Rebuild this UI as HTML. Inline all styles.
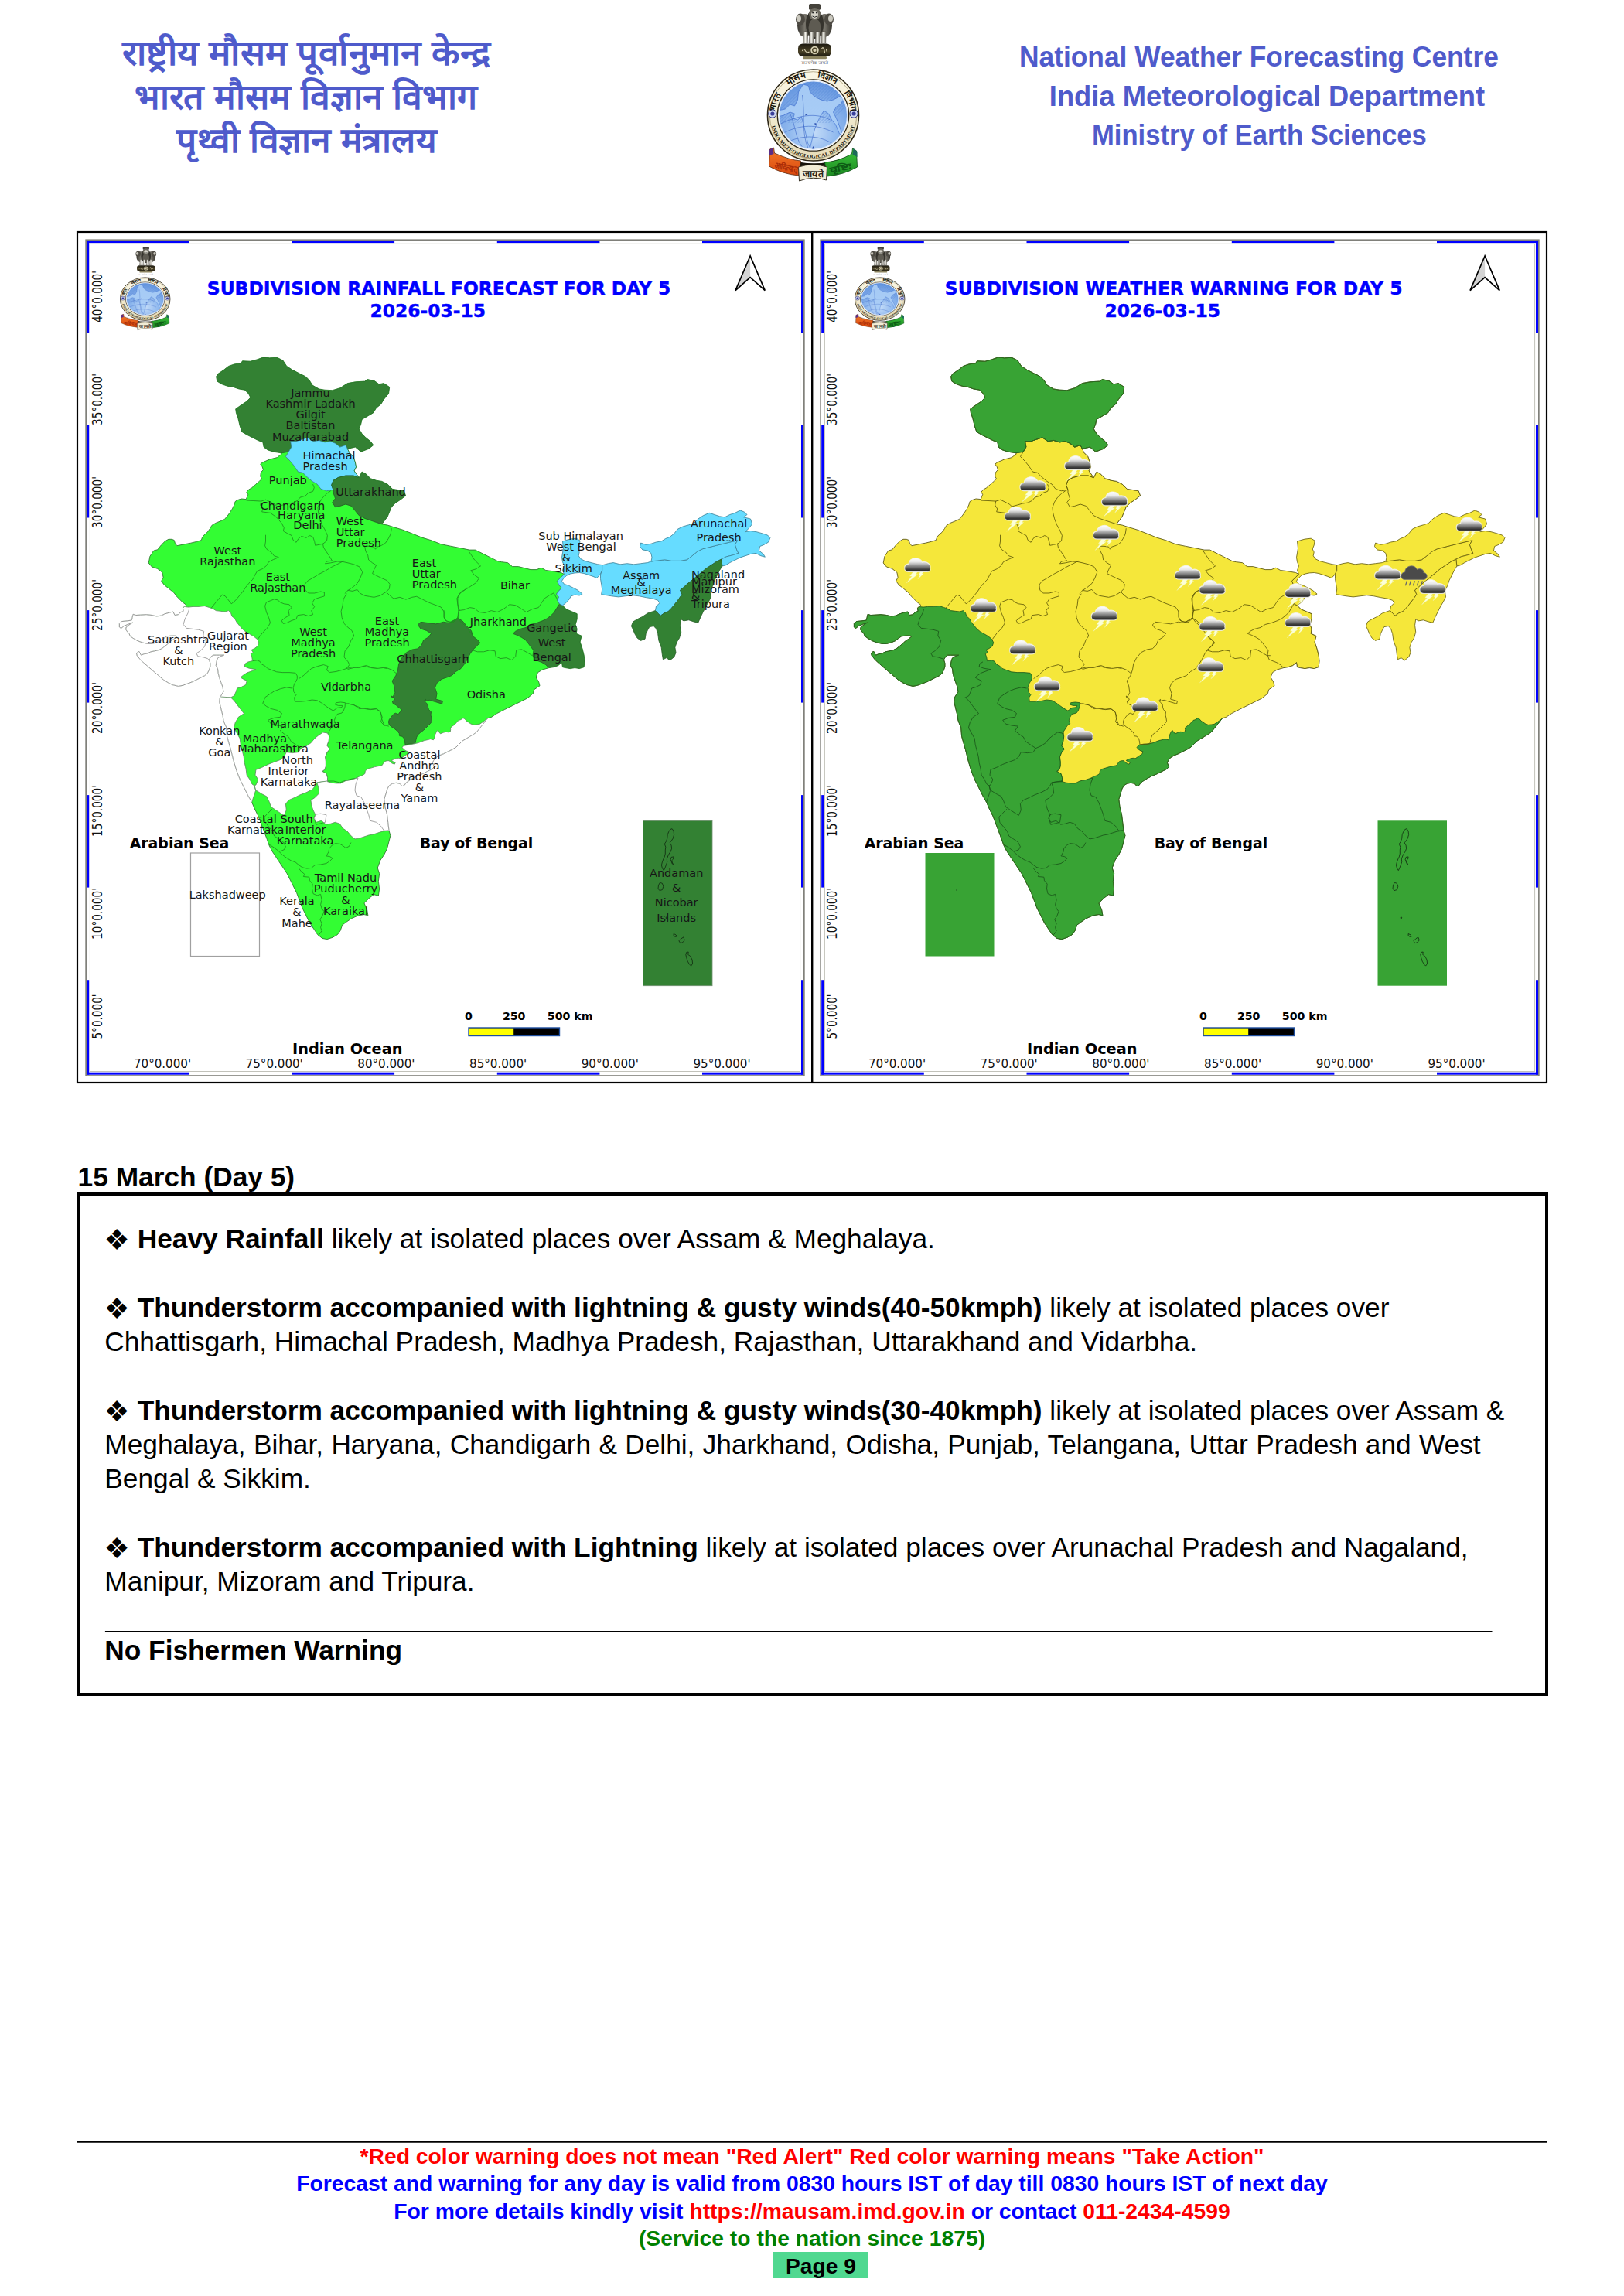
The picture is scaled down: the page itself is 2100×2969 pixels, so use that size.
<!DOCTYPE html>
<html lang="en"><head><meta charset="utf-8"><title>IMD Forecast Day 5</title>
<style>
html,body{margin:0;padding:0;background:#fff}
body{width:2100px;height:2969px;position:relative;overflow:hidden;font-family:"Liberation Sans",sans-serif;color:#000}
.abs{position:absolute}
svg{position:absolute;left:0;top:0;overflow:visible}
.lbl{font-family:"DejaVu Sans","Liberation Sans",sans-serif;font-size:14.5px;fill:#161616}
.ax{font-family:"DejaVu Sans","Liberation Sans",sans-serif;font-size:16px;fill:#111}
.ax2{font-family:"DejaVu Sans","Liberation Sans",sans-serif;font-size:17.8px;fill:#111}
.sea{font-family:"DejaVu Sans","Liberation Sans",sans-serif;font-weight:bold;font-size:18.9px;fill:#000}
.ttl{font-family:"DejaVu Sans","Liberation Sans",sans-serif;font-weight:bold;font-size:22.1px;fill:#0000ff;stroke:#0000ff;stroke-width:0.45px}
.sb{font-family:"DejaVu Sans","Liberation Sans",sans-serif;font-weight:bold;font-size:14.2px;fill:#000}

.h1{position:absolute;left:100.6px;top:1502.4px;font:bold 35.3px/40px "Liberation Sans",sans-serif;white-space:nowrap}
.box{position:absolute;left:98.6px;top:1542.4px;width:1895.6px;height:642.2px;border:4px solid #000}
.p{position:absolute;left:32.7px;margin:0;font:35.28px/44px "Liberation Sans",sans-serif;white-space:nowrap;color:#000}
.p b{font-weight:bold}
.bu{display:inline-block;width:42.5px;font:37px/44px "DejaVu Sans","Liberation Sans",sans-serif;vertical-align:baseline;position:relative;top:2.6px;left:-0.8px;height:30px;overflow:visible}
.hr{position:absolute;left:33.3px;top:562.4px;width:1793.6px;height:0;border-top:1.6px solid #000}
.ft{position:absolute;left:0;width:2100px;text-align:center;font:bold 28.3px/35.4px "Liberation Sans",sans-serif;white-space:nowrap}
.fl{position:absolute;left:99.6px;top:2769.1px;width:1900.6px;height:0;border-top:1.6px solid #000}
.r{color:#ff0000}.b{color:#0000ff}.g{color:#008000}
.pg{position:absolute;left:1000.2px;top:2911.6px;width:122.4px;height:34.7px;background:#50d890;text-align:center;font:bold 28.2px/36.8px "Liberation Sans",sans-serif;color:#000}
</style></head><body>
<!--HEADER-->
<svg width="2100" height="2969" viewBox="0 0 2100 2969">

<defs>
<radialGradient id="lgDisc" cx="0.5" cy="0.75" r="0.8"><stop offset="0" stop-color="#c4dcf8"/><stop offset="0.45" stop-color="#8fb8ee"/><stop offset="1" stop-color="#5d8fdc"/></radialGradient>
<linearGradient id="lgRing" x1="0" y1="0" x2="0" y2="1"><stop offset="0" stop-color="#fbf7e6"/><stop offset="1" stop-color="#e6dcb8"/></linearGradient>
<linearGradient id="lgLion" x1="0" y1="0" x2="1" y2="0"><stop offset="0" stop-color="#3a3832"/><stop offset="0.5" stop-color="#76736a"/><stop offset="1" stop-color="#33312b"/></linearGradient>
<linearGradient id="lgLeg" x1="0" y1="0" x2="1" y2="0"><stop offset="0" stop-color="#77746a"/><stop offset="0.5" stop-color="#f4f3ec"/><stop offset="1" stop-color="#6a675d"/></linearGradient>
<linearGradient id="lgAb" x1="0" y1="0" x2="0" y2="1"><stop offset="0" stop-color="#1d1a10"/><stop offset="0.6" stop-color="#4a4227"/><stop offset="1" stop-color="#1d1a10"/></linearGradient>
<linearGradient id="lgOr" x1="0" y1="0" x2="0" y2="1"><stop offset="0" stop-color="#f57a2a"/><stop offset="1" stop-color="#d8480e"/></linearGradient>
<linearGradient id="lgGr" x1="0" y1="0" x2="0" y2="1"><stop offset="0" stop-color="#3cc43c"/><stop offset="1" stop-color="#1c8a22"/></linearGradient>
<linearGradient id="lgCloud" x1="0" y1="0" x2="0" y2="1"><stop offset="0" stop-color="#ffffff"/><stop offset="0.28" stop-color="#e9e9e9"/><stop offset="0.62" stop-color="#7d7d7d"/><stop offset="0.88" stop-color="#2e2e2e"/><stop offset="1" stop-color="#555"/></linearGradient>
<path id="arcTop" d="M -48.6 6 A 49 49 0 1 1 48.6 6" fill="none"/>
<path id="arcBot" d="M -55 8 A 55.6 55.6 0 0 0 55 8" fill="none"/>
</defs>
<g transform="translate(1051.5,149) scale(1.0,1.0)">
<ellipse cx="-11.0" cy="-116" rx="9.5" ry="15" fill="url(#lgLion)"/><ellipse cx="15.0" cy="-116" rx="9.5" ry="15" fill="url(#lgLion)"/><ellipse cx="-16.5" cy="-124" rx="6" ry="7.5" fill="#4d4a43"/><ellipse cx="20.5" cy="-124" rx="6" ry="7.5" fill="#4d4a43"/><ellipse cx="-18.5" cy="-125" rx="3" ry="4" fill="#c9c7bd"/><ellipse cx="22.5" cy="-125" rx="3" ry="4" fill="#c9c7bd"/><ellipse cx="2.0" cy="-118" rx="11.5" ry="19" fill="#35332d"/><ellipse cx="2.0" cy="-113" rx="8" ry="12" fill="#5e5b52"/><rect x="-5.5" y="-144" width="15" height="8" rx="2" fill="#45423b"/><ellipse cx="2.0" cy="-131" rx="7.5" ry="8" fill="#6f6c62"/><ellipse cx="2.0" cy="-130" rx="4.5" ry="5" fill="#d6d4ca"/><circle cx="-0.3999999999999999" cy="-132.5" r="1" fill="#222"/><circle cx="4.4" cy="-132.5" r="1" fill="#222"/><path d="M -1.0 -128 Q 2.0 -125.5 5.0 -128" stroke="#222" stroke-width="1" fill="none"/><path d="M -12.1 -108 L -6.9 -108 L -7.3 -93 L -13.1 -93 Z" fill="url(#lgLeg)" stroke="#4a473f" stroke-width="0.5"/><path d="M -4.4 -108 L 0.8000000000000003 -108 L 0.40000000000000036 -93 L -5.4 -93 Z" fill="url(#lgLeg)" stroke="#4a473f" stroke-width="0.5"/><path d="M 3.6 -108 L 8.8 -108 L 8.4 -93 L 2.6 -93 Z" fill="url(#lgLeg)" stroke="#4a473f" stroke-width="0.5"/><path d="M 11.4 -108 L 16.6 -108 L 16.2 -93 L 10.4 -93 Z" fill="url(#lgLeg)" stroke="#4a473f" stroke-width="0.5"/><rect x="-19.5" y="-92.5" width="43" height="16.5" rx="6" fill="url(#lgAb)"/><circle cx="2.0" cy="-84" r="5.6" fill="#d9d2b4" stroke="#221e12" stroke-width="0.6"/><circle cx="2.0" cy="-84" r="2.8" fill="none" stroke="#4a4227" stroke-width="1.4"/><path d="M -14.0 -83 q 2 -5 4 0 q 2 3 5 1" stroke="#d9d2b4" stroke-width="1.2" fill="none"/><path d="M 11.0 -86 q 2 -3 3 1 l 1 4 m 2 -4 l 1 3" stroke="#d9d2b4" stroke-width="1.2" fill="none"/><rect x="-13.5" y="-76" width="31" height="3.2" rx="1.2" fill="#8c8460"/>
<text x="2.0" y="-65.6" text-anchor="middle" font-size="5.4" fill="#555" style="font-family:"Liberation Sans","Noto Sans","Noto Sans Devanagari","Lohit Devanagari","Mukta","Hind","FreeSans",sans-serif" textLength="35" lengthAdjust="spacingAndGlyphs">सत्यमेव जयते</text>
<circle cx="0" cy="0" r="59" fill="url(#lgRing)" stroke="#2d2616" stroke-width="1.6"/>
<circle cx="0" cy="0" r="56.3" fill="none" stroke="#8d8058" stroke-width="0.6"/>
<circle cx="0" cy="0" r="46.2" fill="#fff" stroke="#2d2616" stroke-width="1.3"/>
<circle cx="0" cy="0" r="44.2" fill="url(#lgDisc)" stroke="#dfe9f8" stroke-width="1.2"/>
<clipPath id="dch"><circle cx="0" cy="0" r="43.4"/></clipPath>
<g clip-path="url(#dch)" stroke="#4f7fd0" stroke-width="0.55" opacity="0.75"><line x1="-60" y1="10" x2="10" y2="-60"/><line x1="-56" y1="10" x2="14" y2="-60"/><line x1="-52" y1="10" x2="18" y2="-60"/><line x1="-48" y1="10" x2="22" y2="-60"/><line x1="-44" y1="10" x2="26" y2="-60"/><line x1="-40" y1="10" x2="30" y2="-60"/><line x1="-36" y1="10" x2="34" y2="-60"/><line x1="-32" y1="10" x2="38" y2="-60"/><line x1="-28" y1="10" x2="42" y2="-60"/><line x1="-24" y1="10" x2="46" y2="-60"/><line x1="-20" y1="10" x2="50" y2="-60"/><line x1="-16" y1="10" x2="54" y2="-60"/><line x1="-12" y1="10" x2="58" y2="-60"/><line x1="-8" y1="10" x2="62" y2="-60"/><line x1="-4" y1="10" x2="66" y2="-60"/><line x1="0" y1="10" x2="70" y2="-60"/><line x1="4" y1="10" x2="74" y2="-60"/><line x1="8" y1="10" x2="78" y2="-60"/><line x1="12" y1="10" x2="82" y2="-60"/><line x1="16" y1="10" x2="86" y2="-60"/><line x1="20" y1="10" x2="90" y2="-60"/></g>
<g clip-path="url(#dch)">
<path d="M -46 -6 L -36 -8 L -30 -14 L -24 -12 L -20 -20 L -19 -30 L -13 -40 L -6 -38 L -4 -30 L 2 -24 L 10 -20 L 18 -18 L 26 -20 L 34 -24 L 40 -22 L 36 -15 L 30 -11 L 26 -4 L 30 4 L 34 14 L 38 26 L 34 24 L 29 12 L 24 6 L 20 -2 L 14 -6 L 10 0 L 6 8 L 2 18 L -1 30 L -4 42 L -7 36 L -10 22 L -13 10 L -15 2 L -20 6 L -26 4 L -24 -2 L -30 -4 L -38 0 L -46 2 Z" fill="#a9cdf6" stroke="#3f6fd0" stroke-width="0.7" opacity="0.95"/>
<path d="M -44 12 C -20 0 4 -4 22 6 M -44 26 C -16 10 6 12 26 22 M -40 38 C -14 24 6 26 24 36 M -14 -26 C -10 0 -16 22 -6 44 M -30 -2 C -22 14 -24 30 -12 44" fill="none" stroke="#3b66c8" stroke-width="0.6"/>
<path d="M -2 44 l 2 -4 l 2 4 z M -10 -2 l 3 1 l -3 1.6 z M 2 10 l 3 1 l -3 1.6 z" fill="#2b4fb0"/>
</g>
<circle cx="-52.6" cy="-2" r="5.2" fill="#cfd6f2" stroke="#2b2f7a" stroke-width="1"/><circle cx="-52.6" cy="-2" r="2.6" fill="#3a3f9a"/>
<circle cx="52.6" cy="-2" r="5.2" fill="#cfd6f2" stroke="#2b2f7a" stroke-width="1"/><circle cx="52.6" cy="-2" r="2.6" fill="#3a3f9a"/>
<text font-size="11.2" font-weight="bold" fill="#1c170c" style="font-family:"Liberation Sans","Noto Sans","Noto Sans Devanagari","Lohit Devanagari","Mukta","Hind","FreeSans",sans-serif"><textPath href="#arcTop" startOffset="13.5%" text-anchor="middle">भारत</textPath></text>
<text font-size="11.2" font-weight="bold" fill="#1c170c" style="font-family:"Liberation Sans","Noto Sans","Noto Sans Devanagari","Lohit Devanagari","Mukta","Hind","FreeSans",sans-serif"><textPath href="#arcTop" startOffset="37%" text-anchor="middle">मौसम</textPath></text>
<text font-size="11.2" font-weight="bold" fill="#1c170c" style="font-family:"Liberation Sans","Noto Sans","Noto Sans Devanagari","Lohit Devanagari","Mukta","Hind","FreeSans",sans-serif"><textPath href="#arcTop" startOffset="61%" text-anchor="middle">विज्ञान</textPath></text>
<text font-size="11.2" font-weight="bold" fill="#1c170c" style="font-family:"Liberation Sans","Noto Sans","Noto Sans Devanagari","Lohit Devanagari","Mukta","Hind","FreeSans",sans-serif"><textPath href="#arcTop" startOffset="85.5%" text-anchor="middle">विभाग</textPath></text>
<text font-size="6.6" font-weight="bold" fill="#1c170c" style="font-family:'Liberation Serif',serif"><textPath href="#arcBot" startOffset="50%" text-anchor="middle" textLength="146" lengthAdjust="spacingAndGlyphs">INDIA METEOROLOGICAL DEPARTMENT</textPath></text>
<path d="M -50 50 Q 0 74 50 51 L 46 62 Q 0 82 -46 61 Z" fill="#15120a"/>
<path d="M -56 44 L -51 42 L -50 49 Q -30 58 -16 59 L -19 78 Q -40 76 -57 66 Z" fill="url(#lgOr)" stroke="#5a2a10" stroke-width="0.8"/>
<path d="M -57 45 L -52 42 L -51 50 L -57 52 Z" fill="#5b2d86"/>
<path d="M 56 46 L 51 43 L 50 50 Q 32 60 15 61 L 18 79 Q 40 77 57 67 Z" fill="url(#lgGr)" stroke="#0e4a16" stroke-width="0.8"/>
<path d="M 57 47 L 52 43 L 51 51 L 57 54 Z" fill="#1d6a5a"/>
<path d="M -19 67 Q 0 61 18 67 L 17 84 Q 0 78 -18 85 Z" fill="#f1ecd6" stroke="#3a3426" stroke-width="1"/>
<text x="-36" y="71" font-size="11" font-weight="bold" fill="#a82c08" text-anchor="middle" transform="rotate(12 -36 71)" style="font-family:"Liberation Sans","Noto Sans","Noto Sans Devanagari","Lohit Devanagari","Mukta","Hind","FreeSans",sans-serif" textLength="30" lengthAdjust="spacingAndGlyphs">आदित्यात्</text>
<text x="36" y="72" font-size="11" font-weight="bold" fill="#0c5a14" text-anchor="middle" transform="rotate(-12 36 72)" style="font-family:"Liberation Sans","Noto Sans","Noto Sans Devanagari","Lohit Devanagari","Mukta","Hind","FreeSans",sans-serif" textLength="28" lengthAdjust="spacingAndGlyphs">वृष्टिः</text>
<text x="0" y="79.5" font-size="12" font-weight="bold" fill="#2a2418" text-anchor="middle" style="font-family:"Liberation Sans","Noto Sans","Noto Sans Devanagari","Lohit Devanagari","Mukta","Hind","FreeSans",sans-serif" textLength="27" lengthAdjust="spacingAndGlyphs">जायते</text>
</g>
<text x="157.6" y="84.4" font-size="45" font-weight="bold" fill="#4f5bcb" style="font-family:"Liberation Sans","Noto Sans","Noto Sans Devanagari","Lohit Devanagari","Mukta","Hind","FreeSans",sans-serif" textLength="477.1" lengthAdjust="spacingAndGlyphs">राष्ट्रीय मौसम पूर्वानुमान केन्द्र</text>
<text x="173.6" y="140.5" font-size="45" font-weight="bold" fill="#4f5bcb" style="font-family:"Liberation Sans","Noto Sans","Noto Sans Devanagari","Lohit Devanagari","Mukta","Hind","FreeSans",sans-serif" textLength="443.4" lengthAdjust="spacingAndGlyphs">भारत मौसम विज्ञान विभाग</text>
<text x="228.0" y="196.5" font-size="45" font-weight="bold" fill="#4f5bcb" style="font-family:"Liberation Sans","Noto Sans","Noto Sans Devanagari","Lohit Devanagari","Mukta","Hind","FreeSans",sans-serif" textLength="336.3" lengthAdjust="spacingAndGlyphs">पृथ्वी विज्ञान मंत्रालय</text>
<text x="1318.0" y="86.0" font-size="36.6" font-weight="bold" fill="#4f5bcb" style="font-family:'Liberation Sans',sans-serif" textLength="619.8" lengthAdjust="spacingAndGlyphs">National Weather Forecasting Centre</text>
<text x="1356.8" y="136.9" font-size="36.6" font-weight="bold" fill="#4f5bcb" style="font-family:'Liberation Sans',sans-serif" textLength="563.2" lengthAdjust="spacingAndGlyphs">India Meteorological Department</text>
<text x="1412.0" y="187.3" font-size="36.6" font-weight="bold" fill="#4f5bcb" style="font-family:'Liberation Sans',sans-serif" textLength="432.7" lengthAdjust="spacingAndGlyphs">Ministry of Earth Sciences</text>
<rect x="100" y="300" width="1900" height="1100" fill="none" stroke="#000" stroke-width="2.2"/>
<line x1="1050.2" y1="300" x2="1050.2" y2="1400" stroke="#000" stroke-width="2.4"/>
<rect x="111.15" y="310.25" width="928.7" height="1080.8" fill="none" stroke="#80807a" stroke-width="1.7"/>
<rect x="116.4" y="315.3" width="918.2" height="1070.2" fill="none" stroke="#c2c2ba" stroke-width="1"/>
<rect x="112.2" y="311.1" width="132.6" height="3" fill="#0000ff"/>
<rect x="112.2" y="1386.7" width="132.6" height="3" fill="#0000ff"/>
<rect x="377.5" y="311.1" width="132.6" height="3" fill="#0000ff"/>
<rect x="377.5" y="1386.7" width="132.6" height="3" fill="#0000ff"/>
<rect x="642.8" y="311.1" width="132.6" height="3" fill="#0000ff"/>
<rect x="642.8" y="1386.7" width="132.6" height="3" fill="#0000ff"/>
<rect x="908.0" y="311.1" width="131.0" height="3" fill="#0000ff"/>
<rect x="908.0" y="1386.7" width="131.0" height="3" fill="#0000ff"/>
<rect x="112.2" y="310.9" width="3" height="119.5" fill="#0000ff"/>
<rect x="1036.0" y="310.9" width="3" height="119.5" fill="#0000ff"/>
<rect x="112.2" y="550.0" width="3" height="119.5" fill="#0000ff"/>
<rect x="1036.0" y="550.0" width="3" height="119.5" fill="#0000ff"/>
<rect x="112.2" y="789.1" width="3" height="119.5" fill="#0000ff"/>
<rect x="1036.0" y="789.1" width="3" height="119.5" fill="#0000ff"/>
<rect x="112.2" y="1028.1" width="3" height="119.5" fill="#0000ff"/>
<rect x="1036.0" y="1028.1" width="3" height="119.5" fill="#0000ff"/>
<rect x="112.2" y="1267.2" width="3" height="122.5" fill="#0000ff"/>
<rect x="1036.0" y="1267.2" width="3" height="122.5" fill="#0000ff"/>
<text class="ax" transform="translate(210.0,1381.3) scale(0.945,1)" text-anchor="middle">70°0.000'</text>
<text class="ax" transform="translate(354.7,1381.3) scale(0.945,1)" text-anchor="middle">75°0.000'</text>
<text class="ax" transform="translate(499.4,1381.3) scale(0.945,1)" text-anchor="middle">80°0.000'</text>
<text class="ax" transform="translate(644.1,1381.3) scale(0.945,1)" text-anchor="middle">85°0.000'</text>
<text class="ax" transform="translate(788.8,1381.3) scale(0.945,1)" text-anchor="middle">90°0.000'</text>
<text class="ax" transform="translate(933.5,1381.3) scale(0.945,1)" text-anchor="middle">95°0.000'</text>
<text class="ax2" transform="translate(132.4,1314.5) rotate(-90) scale(0.765,1)" text-anchor="middle">5°0.000'</text>
<text class="ax2" transform="translate(132.4,1181.5) rotate(-90) scale(0.765,1)" text-anchor="middle">10°0.000'</text>
<text class="ax2" transform="translate(132.4,1048.5) rotate(-90) scale(0.765,1)" text-anchor="middle">15°0.000'</text>
<text class="ax2" transform="translate(132.4,915.5) rotate(-90) scale(0.765,1)" text-anchor="middle">20°0.000'</text>
<text class="ax2" transform="translate(132.4,782.5) rotate(-90) scale(0.765,1)" text-anchor="middle">25°0.000'</text>
<text class="ax2" transform="translate(132.4,649.5) rotate(-90) scale(0.765,1)" text-anchor="middle">30°0.000'</text>
<text class="ax2" transform="translate(132.4,516.5) rotate(-90) scale(0.765,1)" text-anchor="middle">35°0.000'</text>
<text class="ax2" transform="translate(132.4,383.5) rotate(-90) scale(0.765,1)" text-anchor="middle">40°0.000'</text>
<g transform="translate(0,0)">
<clipPath id="clipL"><polygon points="362.1,585.5 353.4,584.2 346.1,581.8 341.1,578.1 339.9,571.9 333.7,569.5 326.4,565.8 319.0,562.1 312.8,558.4 310.3,551.0 307.9,541.1 305.4,533.7 304.7,528.8 311.6,523.9 319.0,519.0 323.9,514.0 321.4,509.1 316.5,504.2 309.1,503.0 301.7,500.5 294.3,499.3 286.9,496.8 280.8,493.1 279.6,486.9 282.0,483.3 289.4,478.3 295.6,473.4 303.0,470.9 311.6,469.7 313.5,466.7 323.9,467.2 332.5,464.8 341.1,461.8 348.5,462.8 358.4,462.3 365.8,466.0 370.7,473.4 378.1,478.3 387.9,483.3 395.3,486.9 400.2,491.9 403.9,498.0 412.6,503.0 420.0,504.2 429.8,504.7 439.7,501.7 449.5,495.6 459.4,493.8 471.7,493.1 475.4,490.6 484.0,492.4 490.1,496.8 496.3,495.6 503.7,500.5 502.5,509.1 496.3,516.5 492.6,522.7 486.5,527.6 482.8,533.7 476.6,537.4 468.0,542.4 466.7,548.5 464.3,554.7 468.0,560.8 472.9,565.8 479.1,570.7 482.8,575.6 476.6,580.5 466.7,584.2 459.4,578.1 454.4,579.3 449.5,580.5 452.0,585.5 456.9,590.4 459.4,597.8 460.6,603.9 458.1,608.9 464.3,617.5 468.0,610.1 472.9,612.6 479.1,618.7 486.5,621.2 493.8,622.4 501.2,626.1 507.4,632.3 514.8,633.5 522.2,634.7 524.6,640.9 518.5,645.8 511.1,650.7 506.2,655.7 503.7,661.8 501.2,668.0 497.5,672.9 493.8,677.8 501.2,679.1 508.6,681.5 520.9,685.2 533.3,690.1 545.6,695.1 557.9,698.8 570.2,703.7 582.5,706.2 594.8,708.6 607.1,711.1 614.5,711.1 624.4,716.0 634.2,720.9 644.1,725.9 648.7,726.7 656.6,727.7 662.5,732.6 670.3,732.6 678.2,734.6 686.1,736.6 694.0,736.6 699.9,734.2 705.8,737.5 713.7,738.5 719.6,739.5 725.5,740.5 729.5,742.5 725.5,746.4 720.6,751.3 722.6,756.3 726.5,760.2 722.6,764.1 719.6,768.1 722.6,772.0 720.6,776.0 723.5,780.9 727.5,782.9 732.4,787.8 739.3,790.7 746.2,793.7 746.2,800.6 744.2,807.5 746.2,813.4 745.2,819.3 752.1,822.3 750.1,830.1 753.1,839.0 755.1,846.9 756.1,854.8 755.1,862.7 749.2,864.6 743.3,863.6 737.3,864.6 731.4,863.6 727.5,862.7 726.5,856.7 721.6,860.7 715.7,862.7 709.8,863.6 701.7,865.9 695.5,869.6 693.1,875.8 696.7,881.9 698.0,886.8 690.6,891.8 689.4,896.7 682.0,902.9 672.1,907.8 662.3,912.7 652.4,917.6 642.6,922.6 635.2,927.5 630.7,928.7 616.7,946.3 612.7,949.3 607.8,952.2 602.9,955.2 597.9,958.1 594.0,962.1 590.0,966.0 585.1,969.0 579.2,971.9 573.3,974.9 568.4,976.8 563.4,979.8 560.5,983.7 559.5,986.7 561.5,991.6 558.5,994.6 552.6,997.5 546.7,1000.5 539.8,1003.4 533.9,1006.4 529.0,1009.4 525.0,1012.3 523.1,1015.3 520.1,1016.7 517.1,1013.3 512.2,1012.3 507.3,1013.3 503.3,1015.8 500.9,1020.0 496.8,1033.6 498.0,1043.4 500.5,1053.3 501.7,1063.2 503.0,1074.2 504.9,1080.4 503.0,1087.8 500.5,1097.6 496.8,1105.0 491.9,1112.4 488.2,1122.3 490.6,1129.7 489.4,1139.5 490.6,1149.4 489.4,1158.0 483.3,1156.7 477.1,1161.7 470.9,1167.8 474.6,1176.5 475.9,1183.8 470.9,1182.6 463.5,1183.8 454.9,1187.5 447.5,1192.5 442.6,1196.2 440.1,1203.5 436.5,1208.5 430.3,1212.2 422.9,1214.6 416.7,1213.4 410.6,1208.5 405.7,1201.1 400.7,1193.7 395.8,1183.8 390.9,1174.0 387.2,1164.1 383.5,1154.3 378.6,1144.4 374.9,1137.0 371.2,1129.7 366.3,1122.3 361.3,1114.9 356.4,1107.5 351.5,1100.1 347.8,1092.7 345.3,1085.3 341.6,1075.5 337.9,1065.6 334.2,1055.8 329.3,1045.9 325.6,1037.3 320.7,1028.7 315.8,1018.8 310.8,1009.0 305.9,996.7 302.2,984.3 298.5,969.6 293.6,952.3 292.6,940.0 291.1,937.3 288.9,931.4 288.1,925.5 286.6,919.6 285.2,913.7 283.7,907.8 284.4,901.9 286.6,898.2 288.9,894.5 288.1,888.6 285.9,882.7 283.7,876.7 282.2,870.8 281.5,864.9 279.3,860.5 280.0,855.3 281.5,850.9 285.2,848.7 289.6,847.2 283.7,847.2 279.3,847.2 275.6,847.2 272.6,849.4 270.4,853.1 271.9,857.5 271.9,862.0 270.4,866.4 268.2,870.8 264.5,873.8 260.0,876.0 254.1,879.0 248.2,881.9 242.3,884.1 236.4,886.3 230.5,887.4 223.1,885.6 217.2,882.7 211.3,879.0 206.1,874.5 200.9,870.1 195.8,865.7 190.6,861.2 185.4,856.8 181.0,852.4 177.3,847.9 176.5,845.0 179.5,842.0 182.5,847.2 186.2,845.7 190.6,845.0 195.0,842.8 199.5,842.0 205.4,840.5 209.8,838.3 213.5,835.4 217.2,832.4 220.1,829.5 224.6,826.5 228.3,823.5 227.5,822.1 221.6,822.1 215.7,822.8 211.3,825.8 207.6,828.7 202.4,830.9 196.5,832.4 190.6,832.4 183.9,830.9 178.0,828.7 172.9,825.8 168.4,822.8 166.9,819.1 164.7,816.9 162.5,813.9 163.2,811.0 166.9,808.0 171.4,805.1 165.5,807.3 160.3,809.5 156.6,812.5 154.4,811.0 154.4,806.5 157.3,803.6 164.0,802.9 170.2,802.1 171.1,798.4 172.1,794.3 175.8,795.5 181.7,795.2 189.1,794.7 196.5,795.5 202.4,796.9 208.3,796.2 212.8,794.0 218.7,792.2 223.8,791.0 226.1,795.5 230.5,794.7 233.4,791.8 237.1,790.3 236.4,785.9 238.6,784.4 240.7,782.2 235.8,778.5 232.1,774.8 228.4,771.1 224.7,766.2 218.5,761.3 212.4,756.4 208.7,751.4 211.1,746.5 209.9,740.3 203.7,735.4 196.4,733.0 192.2,728.0 193.9,719.4 198.8,712.0 203.7,710.8 208.6,704.7 213.5,699.8 217.9,697.3 222.2,697.3 225.2,698.5 226.5,702.8 228.9,705.7 236.9,704.1 246.8,702.2 254.2,700.4 260.3,698.5 261.6,694.8 264.0,691.7 268.3,688.1 271.4,683.7 273.9,679.4 278.8,676.4 285.0,673.9 290.5,671.4 294.2,667.1 297.3,662.8 300.4,657.9 302.8,653.0 304.1,648.6 307.1,646.6 312.1,645.0 318.2,645.6 319.5,642.5 320.7,639.4 318.8,636.3 321.3,633.3 325.6,630.8 330.5,626.5 335.5,622.2 338.5,619.1 336.7,616.0 337.3,611.1 340.4,607.4 339.2,603.7 336.7,600.0 339.9,597.8 348.5,594.1 358.4,591.6 364.5,586.7"/></clipPath>
<clipPath id="wclip"><polygon points="238.6,784.4 243.8,785.1 249.7,784.4 257.1,784.4 264.5,783.6 270.4,785.4 275.6,787.3 279.3,789.6 285.2,790.3 291.1,791.0 295.5,789.6 298.5,792.5 299.9,796.9 303.6,799.9 305.9,804.3 309.5,808.8 313.2,813.2 317.7,816.9 322.8,819.8 328.0,822.8 332.5,826.5 334.7,830.9 333.2,835.4 329.5,838.3 325.1,840.5 327.3,843.5 324.3,845.7 325.8,850.1 326.5,854.6 320.6,856.1 316.9,858.3 316.2,862.0 322.1,864.2 331.0,865.7 325.1,867.9 319.2,870.1 314.7,873.0 311.0,876.0 314.7,878.2 319.2,880.4 317.7,885.6 311.8,888.6 306.6,890.0 305.1,894.5 302.9,899.6 298.5,901.9 260.0,905.0 120.0,905.0 120.0,787.0 236.0,787.0"/><polygon points="298.5,901.9 302.9,906.3 307.3,912.2 311.8,918.1 315.5,922.6 308.3,927.3 304.3,934.2 302.4,941.1 306.3,948.0 310.2,954.9 311.2,962.8 313.2,970.6 315.2,978.5 316.2,986.4 318.1,994.3 319.1,1002.2 323.1,1008.1 326.0,1014.0 329.0,1016.0 330.5,1022.5 328.1,1029.9 325.6,1037.3 300.0,1040.0 270.0,1040.0 270.0,900.0"/><polygon points="329.0,1016.0 330.9,1015.0 333.9,1008.1 330.0,1002.2 330.9,995.3 338.8,992.3 346.7,988.4 354.6,985.4 362.5,982.5 367.4,978.5 370.3,972.6 378.2,973.6 386.1,972.6 389.1,967.7 396.0,964.7 401.9,960.8 406.8,954.9 411.7,950.9 417.6,947.0 423.5,948.0 425.7,952.3 425.0,958.2 422.8,964.1 426.4,968.6 422.8,973.0 420.5,978.9 421.3,984.8 421.3,990.7 419.8,995.2 416.8,997.4 422.0,1000.3 423.5,1005.5 423.5,1010.7 415.7,1011.0 409.8,1012.0 407.8,1016.0 403.8,1020.9 396.0,1024.8 388.1,1027.8 380.2,1031.7 373.3,1034.7 369.4,1039.6 370.3,1047.5 367.4,1054.4 362.5,1051.4 356.6,1047.5 350.6,1043.5 347.7,1035.7 344.7,1029.8 338.8,1026.8 330.9,1021.9 329.0,1016.0"/><polygon points="630.7,928.7 627.8,931.2 620.0,936.5 616.7,936.9 612.7,937.4 608.8,936.0 605.8,934.0 602.9,932.0 600.9,929.6 598.9,928.6 596.0,930.5 593.0,931.5 591.0,933.5 588.1,936.9 585.1,938.9 582.2,941.4 582.7,943.3 582.2,946.3 579.7,946.8 576.7,946.3 573.3,947.3 569.4,948.8 567.4,946.3 565.9,944.3 564.4,946.3 562.5,950.2 562.0,953.7 560.5,956.7 556.6,955.7 552.6,956.7 548.7,957.6 544.7,959.1 540.8,960.6 536.8,961.6 521.6,964.5 520.1,966.5 522.1,969.0 525.0,970.9 528.0,971.9 527.0,974.9 524.0,976.8 521.1,978.8 518.1,980.8 515.2,980.3 512.2,980.8 509.3,981.8 506.3,983.3 508.3,984.7 511.2,986.2 510.2,988.2 507.3,987.2 504.8,985.7 503.3,983.7 500.4,983.7 497.4,984.7 495.5,987.2 494.0,989.7 489.6,990.6 484.6,991.6 479.7,993.1 474.8,994.6 472.3,997.0 471.8,1000.5 468.9,1002.5 464.9,1003.9 462.0,1005.4 460.0,1006.4 453.8,1008.5 446.4,1009.9 440.5,1012.9 434.6,1012.9 428.7,1012.2 423.5,1010.7 422.6,1010.0 415.7,1011.0 409.8,1012.0 411.7,1017.9 412.7,1025.8 406.8,1031.7 401.9,1034.7 402.9,1041.6 404.8,1047.5 407.8,1053.4 405.8,1058.3 408.8,1063.3 415.7,1061.3 421.6,1066.2 427.5,1065.2 433.4,1063.3 439.3,1065.2 443.3,1071.1 449.2,1075.1 454.1,1081.0 459.0,1084.9 464.9,1083.9 470.8,1082.0 476.7,1080.0 482.7,1079.0 488.6,1077.0 494.5,1075.1 501.4,1074.1 503.0,1074.2 520.0,1080.0 540.0,1020.0 620.0,960.0"/></clipPath>
<polygon points="362.1,585.5 353.4,584.2 346.1,581.8 341.1,578.1 339.9,571.9 333.7,569.5 326.4,565.8 319.0,562.1 312.8,558.4 310.3,551.0 307.9,541.1 305.4,533.7 304.7,528.8 311.6,523.9 319.0,519.0 323.9,514.0 321.4,509.1 316.5,504.2 309.1,503.0 301.7,500.5 294.3,499.3 286.9,496.8 280.8,493.1 279.6,486.9 282.0,483.3 289.4,478.3 295.6,473.4 303.0,470.9 311.6,469.7 313.5,466.7 323.9,467.2 332.5,464.8 341.1,461.8 348.5,462.8 358.4,462.3 365.8,466.0 370.7,473.4 378.1,478.3 387.9,483.3 395.3,486.9 400.2,491.9 403.9,498.0 412.6,503.0 420.0,504.2 429.8,504.7 439.7,501.7 449.5,495.6 459.4,493.8 471.7,493.1 475.4,490.6 484.0,492.4 490.1,496.8 496.3,495.6 503.7,500.5 502.5,509.1 496.3,516.5 492.6,522.7 486.5,527.6 482.8,533.7 476.6,537.4 468.0,542.4 466.7,548.5 464.3,554.7 468.0,560.8 472.9,565.8 479.1,570.7 482.8,575.6 476.6,580.5 466.7,584.2 459.4,578.1 454.4,579.3 449.5,580.5 452.0,585.5 456.9,590.4 459.4,597.8 460.6,603.9 458.1,608.9 464.3,617.5 468.0,610.1 472.9,612.6 479.1,618.7 486.5,621.2 493.8,622.4 501.2,626.1 507.4,632.3 514.8,633.5 522.2,634.7 524.6,640.9 518.5,645.8 511.1,650.7 506.2,655.7 503.7,661.8 501.2,668.0 497.5,672.9 493.8,677.8 501.2,679.1 508.6,681.5 520.9,685.2 533.3,690.1 545.6,695.1 557.9,698.8 570.2,703.7 582.5,706.2 594.8,708.6 607.1,711.1 614.5,711.1 624.4,716.0 634.2,720.9 644.1,725.9 648.7,726.7 656.6,727.7 662.5,732.6 670.3,732.6 678.2,734.6 686.1,736.6 694.0,736.6 699.9,734.2 705.8,737.5 713.7,738.5 719.6,739.5 725.5,740.5 729.5,742.5 725.5,746.4 720.6,751.3 722.6,756.3 726.5,760.2 722.6,764.1 719.6,768.1 722.6,772.0 720.6,776.0 723.5,780.9 727.5,782.9 732.4,787.8 739.3,790.7 746.2,793.7 746.2,800.6 744.2,807.5 746.2,813.4 745.2,819.3 752.1,822.3 750.1,830.1 753.1,839.0 755.1,846.9 756.1,854.8 755.1,862.7 749.2,864.6 743.3,863.6 737.3,864.6 731.4,863.6 727.5,862.7 726.5,856.7 721.6,860.7 715.7,862.7 709.8,863.6 701.7,865.9 695.5,869.6 693.1,875.8 696.7,881.9 698.0,886.8 690.6,891.8 689.4,896.7 682.0,902.9 672.1,907.8 662.3,912.7 652.4,917.6 642.6,922.6 635.2,927.5 630.7,928.7 616.7,946.3 612.7,949.3 607.8,952.2 602.9,955.2 597.9,958.1 594.0,962.1 590.0,966.0 585.1,969.0 579.2,971.9 573.3,974.9 568.4,976.8 563.4,979.8 560.5,983.7 559.5,986.7 561.5,991.6 558.5,994.6 552.6,997.5 546.7,1000.5 539.8,1003.4 533.9,1006.4 529.0,1009.4 525.0,1012.3 523.1,1015.3 520.1,1016.7 517.1,1013.3 512.2,1012.3 507.3,1013.3 503.3,1015.8 500.9,1020.0 496.8,1033.6 498.0,1043.4 500.5,1053.3 501.7,1063.2 503.0,1074.2 504.9,1080.4 503.0,1087.8 500.5,1097.6 496.8,1105.0 491.9,1112.4 488.2,1122.3 490.6,1129.7 489.4,1139.5 490.6,1149.4 489.4,1158.0 483.3,1156.7 477.1,1161.7 470.9,1167.8 474.6,1176.5 475.9,1183.8 470.9,1182.6 463.5,1183.8 454.9,1187.5 447.5,1192.5 442.6,1196.2 440.1,1203.5 436.5,1208.5 430.3,1212.2 422.9,1214.6 416.7,1213.4 410.6,1208.5 405.7,1201.1 400.7,1193.7 395.8,1183.8 390.9,1174.0 387.2,1164.1 383.5,1154.3 378.6,1144.4 374.9,1137.0 371.2,1129.7 366.3,1122.3 361.3,1114.9 356.4,1107.5 351.5,1100.1 347.8,1092.7 345.3,1085.3 341.6,1075.5 337.9,1065.6 334.2,1055.8 329.3,1045.9 325.6,1037.3 320.7,1028.7 315.8,1018.8 310.8,1009.0 305.9,996.7 302.2,984.3 298.5,969.6 293.6,952.3 292.6,940.0 291.1,937.3 288.9,931.4 288.1,925.5 286.6,919.6 285.2,913.7 283.7,907.8 284.4,901.9 286.6,898.2 288.9,894.5 288.1,888.6 285.9,882.7 283.7,876.7 282.2,870.8 281.5,864.9 279.3,860.5 280.0,855.3 281.5,850.9 285.2,848.7 289.6,847.2 283.7,847.2 279.3,847.2 275.6,847.2 272.6,849.4 270.4,853.1 271.9,857.5 271.9,862.0 270.4,866.4 268.2,870.8 264.5,873.8 260.0,876.0 254.1,879.0 248.2,881.9 242.3,884.1 236.4,886.3 230.5,887.4 223.1,885.6 217.2,882.7 211.3,879.0 206.1,874.5 200.9,870.1 195.8,865.7 190.6,861.2 185.4,856.8 181.0,852.4 177.3,847.9 176.5,845.0 179.5,842.0 182.5,847.2 186.2,845.7 190.6,845.0 195.0,842.8 199.5,842.0 205.4,840.5 209.8,838.3 213.5,835.4 217.2,832.4 220.1,829.5 224.6,826.5 228.3,823.5 227.5,822.1 221.6,822.1 215.7,822.8 211.3,825.8 207.6,828.7 202.4,830.9 196.5,832.4 190.6,832.4 183.9,830.9 178.0,828.7 172.9,825.8 168.4,822.8 166.9,819.1 164.7,816.9 162.5,813.9 163.2,811.0 166.9,808.0 171.4,805.1 165.5,807.3 160.3,809.5 156.6,812.5 154.4,811.0 154.4,806.5 157.3,803.6 164.0,802.9 170.2,802.1 171.1,798.4 172.1,794.3 175.8,795.5 181.7,795.2 189.1,794.7 196.5,795.5 202.4,796.9 208.3,796.2 212.8,794.0 218.7,792.2 223.8,791.0 226.1,795.5 230.5,794.7 233.4,791.8 237.1,790.3 236.4,785.9 238.6,784.4 240.7,782.2 235.8,778.5 232.1,774.8 228.4,771.1 224.7,766.2 218.5,761.3 212.4,756.4 208.7,751.4 211.1,746.5 209.9,740.3 203.7,735.4 196.4,733.0 192.2,728.0 193.9,719.4 198.8,712.0 203.7,710.8 208.6,704.7 213.5,699.8 217.9,697.3 222.2,697.3 225.2,698.5 226.5,702.8 228.9,705.7 236.9,704.1 246.8,702.2 254.2,700.4 260.3,698.5 261.6,694.8 264.0,691.7 268.3,688.1 271.4,683.7 273.9,679.4 278.8,676.4 285.0,673.9 290.5,671.4 294.2,667.1 297.3,662.8 300.4,657.9 302.8,653.0 304.1,648.6 307.1,646.6 312.1,645.0 318.2,645.6 319.5,642.5 320.7,639.4 318.8,636.3 321.3,633.3 325.6,630.8 330.5,626.5 335.5,622.2 338.5,619.1 336.7,616.0 337.3,611.1 340.4,607.4 339.2,603.7 336.7,600.0 339.9,597.8 348.5,594.1 358.4,591.6 364.5,586.7" fill="#33fd33"/>
<g clip-path="url(#clipL)">
<polygon points="362.1,585.5 353.4,584.2 346.1,581.8 341.1,578.1 339.9,571.9 333.7,569.5 326.4,565.8 319.0,562.1 312.8,558.4 310.3,551.0 307.9,541.1 305.4,533.7 304.7,528.8 311.6,523.9 319.0,519.0 323.9,514.0 321.4,509.1 316.5,504.2 309.1,503.0 301.7,500.5 294.3,499.3 286.9,496.8 280.8,493.1 279.6,486.9 282.0,483.3 289.4,478.3 295.6,473.4 303.0,470.9 311.6,469.7 313.5,466.7 323.9,467.2 332.5,464.8 341.1,461.8 348.5,462.8 358.4,462.3 365.8,466.0 370.7,473.4 378.1,478.3 387.9,483.3 395.3,486.9 400.2,491.9 403.9,498.0 412.6,503.0 420.0,504.2 429.8,504.7 439.7,501.7 449.5,495.6 459.4,493.8 471.7,493.1 475.4,490.6 484.0,492.4 490.1,496.8 496.3,495.6 503.7,500.5 502.5,509.1 496.3,516.5 492.6,522.7 486.5,527.6 482.8,533.7 476.6,537.4 468.0,542.4 466.7,548.5 464.3,554.7 468.0,560.8 472.9,565.8 479.1,570.7 482.8,575.6 476.6,580.5 466.7,584.2 459.4,578.1 454.4,579.3 449.5,580.5 447.0,575.6 439.7,578.1 433.5,573.2 427.3,570.7 420.0,571.9 412.6,569.5 405.2,570.7 397.8,565.8 390.4,568.2 383.0,570.7 375.6,570.7 376.8,578.1 373.2,584.2 365.8,585.5 362.1,585.5" fill="#338133" stroke="#245c24" stroke-width="0.8" stroke-linejoin="round"/>
<polygon points="375.6,570.7 383.0,570.7 390.4,568.2 397.8,565.8 405.2,570.7 412.6,569.5 420.0,571.9 427.3,570.7 433.5,573.2 439.7,578.1 447.0,575.6 449.5,580.5 452.0,585.5 456.9,590.4 459.4,597.8 460.6,603.9 458.1,608.9 464.3,617.5 456.9,615.0 447.0,615.0 437.2,617.5 431.0,621.2 428.6,627.3 431.0,633.5 422.4,634.7 415.0,632.3 410.1,626.1 403.9,622.4 397.8,617.5 391.6,611.3 385.5,610.1 380.5,602.7 375.6,596.6 369.5,590.4 373.2,584.2 376.8,578.1" fill="#66dcff" stroke="#3a7f95" stroke-width="0.8" stroke-linejoin="round"/>
<polygon points="464.3,617.5 468.0,610.1 472.9,612.6 479.1,618.7 486.5,621.2 493.8,622.4 501.2,626.1 507.4,632.3 514.8,633.5 522.2,634.7 524.6,640.9 518.5,645.8 511.1,650.7 506.2,655.7 503.7,661.8 501.2,668.0 497.5,672.9 493.8,677.8 486.5,675.4 479.1,672.9 471.7,670.4 464.3,666.7 459.4,660.6 454.4,654.4 447.0,652.0 439.7,654.4 433.5,655.7 429.8,649.5 433.5,644.6 431.0,637.2 431.0,633.5 428.6,627.3 431.0,621.2 437.2,617.5 447.0,615.0 456.9,615.0" fill="#338133" stroke="#245c24" stroke-width="0.8" stroke-linejoin="round"/>
<polygon points="592.1,799.4 598.2,803.1 603.2,809.3 609.3,815.4 611.8,822.8 617.9,827.7 620.9,831.4 616.7,835.1 611.8,840.0 608.1,845.0 604.4,852.4 600.7,858.5 595.8,864.7 589.6,868.4 584.7,873.3 578.5,875.8 571.1,878.2 565.0,883.2 562.5,889.3 565.0,896.7 563.7,904.1 572.4,906.6 571.6,910.2 563.7,907.8 555.1,905.3 550.2,906.6 550.6,904.4 548.7,905.9 550.6,908.4 553.1,910.8 553.6,914.8 554.6,917.7 557.5,920.7 557.0,924.6 558.0,928.6 558.5,932.5 556.6,935.5 553.6,938.4 550.6,941.4 547.7,944.3 543.7,947.3 540.3,950.2 538.8,953.2 537.8,957.1 536.8,961.6 533.9,962.3 529.0,962.1 524.0,963.1 523.5,959.1 522.6,955.2 520.1,952.2 516.7,951.7 516.2,948.3 513.7,945.3 510.2,942.4 506.3,939.9 503.3,937.4 502.4,933.5 503.3,930.5 505.8,927.1 508.3,924.1 511.2,922.2 515.2,923.6 516.7,921.2 519.6,919.2 519.1,917.2 515.2,914.8 512.2,911.8 508.3,909.9 507.3,906.9 510.2,904.9 509.3,902.0 506.3,900.0 507.1,902.9 510.8,895.5 509.6,886.8 507.1,880.7 512.0,873.3 514.5,865.9 515.7,858.5 519.4,851.1 525.6,843.7 533.0,840.0 540.3,838.8 545.3,833.9 547.7,827.7 553.9,824.0 557.6,819.1 551.4,815.4 544.0,813.0 540.3,808.0 544.0,804.3 553.9,805.6 563.7,806.8 573.6,804.3 581.0,805.6 587.1,801.9" fill="#338133" stroke="#245c24" stroke-width="0.8" stroke-linejoin="round"/>
<polygon points="723.5,780.9 727.5,782.9 732.4,787.8 739.3,790.7 746.2,793.7 746.2,800.6 744.2,807.5 746.2,813.4 745.2,819.3 752.1,822.3 750.1,830.1 753.1,839.0 755.1,846.9 756.1,854.8 755.1,862.7 749.2,864.6 743.3,863.6 737.3,864.6 731.4,863.6 727.5,862.7 726.5,856.7 721.6,860.7 715.7,862.7 709.8,863.6 705.8,859.7 700.9,856.7 696.0,854.8 691.0,852.8 689.1,846.9 690.0,841.0 686.1,836.1 683.2,832.1 679.2,827.2 674.3,824.2 668.4,821.3 663.4,819.3 666.4,816.4 672.3,813.4 680.2,811.4 686.1,807.5 694.0,805.5 701.9,802.6 707.8,799.6 712.7,795.7 716.7,791.7 719.6,786.8" fill="#338133" stroke="#245c24" stroke-width="0.8" stroke-linejoin="round"/>
<g fill="none" stroke="#1f8f1f" stroke-width="0.85" stroke-linejoin="round" stroke-linecap="round">
<polyline points="319.0,647.1 327.9,647.5 337.7,648.1 343.6,646.2 349.6,649.1 355.5,652.1 358.4,655.0 365.3,653.1 372.2,651.1 379.1,650.1 385.0,647.1 388.0,643.2 394.9,641.2 398.8,637.3 404.7,635.3 406.3,630.4 404.7,626.5"/>
<polyline points="337.7,648.1 336.7,653.1 339.7,658.0 338.7,661.9 349.6,663.3 357.4,668.8 364.3,676.7 367.3,682.6 366.3,686.6 371.2,689.5 377.1,692.5 379.1,698.4 383.1,701.3 386.0,696.4 390.0,693.4 395.9,695.4 400.8,692.5 404.7,694.4 406.7,700.3 407.7,705.3 412.6,704.3 417.5,703.3"/>
<polyline points="427.4,634.9 422.5,638.3 417.5,643.2 413.6,649.1 411.0,656.0 411.6,662.9 413.6,670.8 416.6,678.7 420.5,685.6 423.4,692.5 422.5,699.4 417.5,703.3"/>
<polyline points="506.2,683.6 505.2,690.5 502.3,696.4 498.3,702.3 493.4,705.3 487.5,707.2 485.5,710.2 483.5,707.2 477.6,706.3 471.7,706.3 472.7,712.2 475.7,718.1 476.7,724.0 481.6,727.9 486.5,730.9 483.5,736.8 481.6,741.7 487.5,744.7 493.4,747.6 500.3,750.6 504.2,755.5 503.3,761.4 499.3,765.4"/>
<polyline points="417.5,703.3 418.5,708.2 422.5,714.1 426.4,720.0 429.4,725.0 422.5,726.0 420.5,728.9 427.4,727.9 436.3,726.0 443.2,726.4"/>
<polyline points="444.0,725.6 436.2,729.6 428.3,733.5 420.4,738.4 412.5,742.4 404.6,747.3 397.7,751.2 393.8,756.2 394.8,763.1 398.7,767.0 406.6,767.0 414.5,765.0 419.4,766.0 419.4,770.9 412.5,772.9 406.6,774.9 403.6,779.8 406.6,784.7 402.7,789.7 404.6,794.6 398.7,796.6 392.8,794.6 384.9,795.6 383.0,800.5 377.0,802.5 371.1,805.4 366.2,806.4 364.2,802.5 369.2,798.5 374.1,795.6 373.1,789.7 377.0,785.7 374.1,781.8 367.2,780.8 362.3,778.8 359.3,775.9 354.4,774.9 349.5,776.8 344.5,778.8 342.6,783.7 344.5,791.6 347.5,798.5 349.5,805.4 345.5,812.3 339.6,818.2 335.7,823.2 333.7,826.1"/>
<polyline points="443.2,726.4 450.0,727.9 457.9,729.9 464.8,732.9 468.8,739.8 465.8,747.6 461.9,754.5 456.0,759.5 450.0,763.4 446.1,767.3"/>
<polyline points="448.0,768.0 444.0,774.9 443.1,782.8 441.1,790.6 442.1,798.5 445.0,806.4 450.0,811.3 454.9,815.3 457.8,822.2 453.9,828.1 450.9,836.0 446.0,841.9 445.0,849.8 450.0,855.7 451.9,859.6 448.0,864.5"/>
<polyline points="450.0,763.4 456.0,764.4 461.9,762.4 465.8,767.3 471.7,770.3 477.6,771.3 483.5,772.3 491.4,770.3 499.3,765.4 503.3,769.3 509.2,774.2 517.0,772.3 524.9,775.2 532.8,772.3 538.7,771.3 546.6,775.2 554.5,779.2 562.4,782.1 570.2,785.1 574.2,791.0 574.2,798.9 578.1,803.8 586.0,804.8 591.9,799.9 592.9,793.0 593.9,789.0"/>
<polyline points="605.7,712.2 609.7,718.1 613.6,724.0 621.5,731.9 615.6,735.8 608.7,737.8 613.6,743.7 619.5,747.6 615.6,753.5 603.7,761.4 595.9,765.4 591.9,773.3 591.9,781.1 593.9,789.0"/>
<polyline points="343.5,692.1 343.5,700.0 342.6,705.9 345.5,710.8 350.4,713.8 354.4,718.7 360.3,720.7 353.4,723.6 347.5,726.6 344.5,731.5 339.6,735.5 332.7,738.4 329.8,743.3 326.8,749.3 321.9,754.2 317.9,759.1 314.0,765.0 309.1,770.9 304.1,776.8 299.2,780.8 295.3,775.9 291.3,770.9 287.4,769.0 282.5,774.9 277.5,780.8 273.6,785.7"/>
<polyline points="386.9,877.3 392.8,873.4 396.7,869.5 402.7,864.5 410.5,861.6 418.4,859.6 424.3,861.6 422.4,866.5 426.3,869.5 434.2,868.5 442.1,866.5 448.0,864.5 455.9,862.6 463.7,863.5 471.6,861.6 479.5,863.5 487.4,864.5 495.3,863.5 500.0,864.5"/>
<polyline points="450.0,865.4 457.9,863.4 465.8,862.5 473.6,860.5 481.5,863.4 489.4,862.5 499.3,863.4 507.1,866.4 513.1,871.3"/>
<polyline points="592.9,789.6 599.8,788.6 607.6,785.6 613.5,786.6 619.5,791.5 627.3,792.5 635.2,789.6 643.1,791.5 651.0,787.6 658.9,781.7 666.7,782.7 674.6,787.6 680.5,791.5 688.4,787.6 696.3,785.6 700.2,779.7 704.2,773.8 710.1,769.9 716.0,766.9 722.9,778.7"/>
<polyline points="574.1,789.6 574.1,797.4 576.1,802.4 582.0,804.3 587.9,802.4 591.9,798.4 592.9,789.6 591.9,781.7 590.9,773.8 593.8,767.9 599.8,763.9 603.7,760.0"/>
<polyline points="591.9,798.4 595.8,804.3 601.7,809.3 607.6,817.1 613.5,825.0 619.5,830.0 616.5,835.9 610.6,840.8"/>
<polyline points="610.6,840.8 617.5,842.8 625.4,842.8 633.3,840.8 640.1,841.8 641.1,848.7 647.0,851.6 654.9,850.6 661.8,853.6 666.7,848.7 667.7,840.8 674.6,839.8 681.5,843.7 688.4,847.7 692.4,847.7"/>
<polyline points="450.0,909.8 457.9,911.7 464.8,916.7 471.7,915.7 479.6,917.6 486.5,916.7 491.4,919.6 494.3,927.5 492.4,933.4 497.3,938.3 502.2,937.3"/>
<polyline points="447.2,909.6 457.0,911.5 466.9,915.5 476.7,917.4 486.6,916.5 492.5,921.4 493.5,929.3 496.5,937.1 502.4,939.1"/>
<polyline points="377.2,889.9 370.3,888.9 362.5,890.8 354.6,893.8 348.7,897.7 342.8,901.7 339.8,909.6 344.7,913.5 350.6,916.5 358.5,918.4 364.4,922.4 362.5,927.3 354.6,928.3 346.7,931.2 350.6,936.2 358.5,938.1 366.4,939.1 362.5,945.0 367.4,949.0 373.3,952.9 376.3,958.8 382.2,962.8 388.1,966.7 389.1,967.7"/>
<polyline points="351.6,1046.5 346.7,1051.4 341.8,1056.4 342.8,1063.3 347.7,1069.2 352.6,1075.1 354.6,1081.0 360.5,1084.9 366.4,1088.9 369.4,1094.8 367.4,1098.7 362.5,1100.7"/>
<polyline points="348.1,1092.1 354.0,1095.8 359.9,1100.2 364.3,1104.7 370.2,1109.1 376.2,1112.8 382.1,1115.0 386.5,1118.7 390.9,1121.7"/>
<polyline points="386.5,1123.1 389.5,1126.8 393.9,1130.5 392.4,1133.5 399.8,1134.2 400.5,1138.7 404.2,1143.1 403.5,1149.0 405.0,1155.7 410.1,1157.9 414.6,1156.4 416.1,1163.8 414.6,1169.7 416.1,1174.9 419.0,1178.6 416.8,1184.5 413.8,1188.9 416.1,1194.1 414.6,1199.3 416.1,1203.7 413.1,1208.1 410.9,1210.3"/>
<polyline points="390.9,1121.7 396.8,1123.1 402.8,1122.4 407.2,1118.7 414.6,1118.0 422.0,1116.5 426.4,1113.5 430.1,1109.8 426.4,1107.6 422.0,1106.9 424.9,1101.7 425.7,1097.3 429.4,1092.9 433.8,1090.6 439.7,1091.4 443.4,1093.6 447.1,1096.5 451.5,1094.3 453.7,1089.9"/>
<polyline points="408.7,1053.0 414.6,1052.2 422.0,1053.7 421.2,1058.9 420.5,1063.3 414.6,1064.8 408.7,1066.3 407.2,1061.1 406.4,1056.6 408.7,1053.0"/>
<polyline points="463.0,1006.1 460.0,1014.0 459.0,1021.9 461.0,1028.8 466.9,1030.7 470.8,1037.6 473.8,1045.5 476.7,1053.4 478.7,1061.3 486.6,1063.3 492.5,1068.2 496.5,1074.1 502.4,1074.1"/>
<polyline points="422.6,1010.0 431.4,1010.0 439.3,1012.0 447.2,1009.1 455.1,1007.1 463.0,1006.1"/>
<polyline points="244.6,787.7 243.1,792.6 239.1,800.5 237.1,807.4 241.1,812.3 249.0,813.3 256.8,814.3 263.7,816.3 262.8,822.2 266.7,828.1 264.7,836.0 258.8,841.9 253.9,844.8 255.9,848.8 262.8,849.8 268.7,851.7 272.6,855.7 274.6,849.8"/>
<polyline points="326.5,854.6 332.5,853.8 336.1,855.3 338.4,859.0 342.8,861.2 345.9,864.4 351.8,866.6 357.7,868.8 365.1,869.6 374.0,869.6 382.1,870.3 384.3,874.0 384.3,877.7 382.9,880.6 380.6,884.3 379.2,889.5 379.9,894.7 382.9,898.4 380.6,902.1 381.4,907.2 388.8,907.2 396.2,906.5 403.5,905.0 410.2,905.8 415.4,908.7 420.5,912.4 425.7,916.1 430.9,919.1 436.1,915.4 442.0,914.6 442.7,912.4 437.5,912.4 433.1,910.9 434.6,908.7 440.5,908.0 446.4,908.7 446.1,913.9 444.2,919.1 442.0,922.0 436.1,923.5 433.8,927.2 432.4,931.6 433.8,935.3 430.1,938.3 427.9,942.0 425.0,946.4 425.7,952.3 425.0,958.2 422.8,964.1 426.4,968.6 422.8,973.0 420.5,978.9 421.3,984.8 421.3,990.7 419.8,995.2 416.8,997.4 422.0,1000.3 423.5,1005.5 423.5,1010.7"/>
</g>
<polygon points="238.6,784.4 243.8,785.1 249.7,784.4 257.1,784.4 264.5,783.6 270.4,785.4 275.6,787.3 279.3,789.6 285.2,790.3 291.1,791.0 295.5,789.6 298.5,792.5 299.9,796.9 303.6,799.9 305.9,804.3 309.5,808.8 313.2,813.2 317.7,816.9 322.8,819.8 328.0,822.8 332.5,826.5 334.7,830.9 333.2,835.4 329.5,838.3 325.1,840.5 327.3,843.5 324.3,845.7 325.8,850.1 326.5,854.6 320.6,856.1 316.9,858.3 316.2,862.0 322.1,864.2 331.0,865.7 325.1,867.9 319.2,870.1 314.7,873.0 311.0,876.0 314.7,878.2 319.2,880.4 317.7,885.6 311.8,888.6 306.6,890.0 305.1,894.5 302.9,899.6 298.5,901.9 260.0,905.0 120.0,905.0 120.0,787.0 236.0,787.0" fill="#ffffff" stroke="#5a8a5a" stroke-width="0.8" stroke-linejoin="round"/>
<polygon points="298.5,901.9 302.9,906.3 307.3,912.2 311.8,918.1 315.5,922.6 308.3,927.3 304.3,934.2 302.4,941.1 306.3,948.0 310.2,954.9 311.2,962.8 313.2,970.6 315.2,978.5 316.2,986.4 318.1,994.3 319.1,1002.2 323.1,1008.1 326.0,1014.0 329.0,1016.0 330.5,1022.5 328.1,1029.9 325.6,1037.3 300.0,1040.0 270.0,1040.0 270.0,900.0" fill="#ffffff" stroke="#5a8a5a" stroke-width="0.8" stroke-linejoin="round"/>
<polygon points="329.0,1016.0 330.9,1015.0 333.9,1008.1 330.0,1002.2 330.9,995.3 338.8,992.3 346.7,988.4 354.6,985.4 362.5,982.5 367.4,978.5 370.3,972.6 378.2,973.6 386.1,972.6 389.1,967.7 396.0,964.7 401.9,960.8 406.8,954.9 411.7,950.9 417.6,947.0 423.5,948.0 425.7,952.3 425.0,958.2 422.8,964.1 426.4,968.6 422.8,973.0 420.5,978.9 421.3,984.8 421.3,990.7 419.8,995.2 416.8,997.4 422.0,1000.3 423.5,1005.5 423.5,1010.7 415.7,1011.0 409.8,1012.0 407.8,1016.0 403.8,1020.9 396.0,1024.8 388.1,1027.8 380.2,1031.7 373.3,1034.7 369.4,1039.6 370.3,1047.5 367.4,1054.4 362.5,1051.4 356.6,1047.5 350.6,1043.5 347.7,1035.7 344.7,1029.8 338.8,1026.8 330.9,1021.9 329.0,1016.0" fill="#ffffff" stroke="#5a8a5a" stroke-width="0.8" stroke-linejoin="round"/>
<polygon points="630.7,928.7 627.8,931.2 620.0,936.5 616.7,936.9 612.7,937.4 608.8,936.0 605.8,934.0 602.9,932.0 600.9,929.6 598.9,928.6 596.0,930.5 593.0,931.5 591.0,933.5 588.1,936.9 585.1,938.9 582.2,941.4 582.7,943.3 582.2,946.3 579.7,946.8 576.7,946.3 573.3,947.3 569.4,948.8 567.4,946.3 565.9,944.3 564.4,946.3 562.5,950.2 562.0,953.7 560.5,956.7 556.6,955.7 552.6,956.7 548.7,957.6 544.7,959.1 540.8,960.6 536.8,961.6 521.6,964.5 520.1,966.5 522.1,969.0 525.0,970.9 528.0,971.9 527.0,974.9 524.0,976.8 521.1,978.8 518.1,980.8 515.2,980.3 512.2,980.8 509.3,981.8 506.3,983.3 508.3,984.7 511.2,986.2 510.2,988.2 507.3,987.2 504.8,985.7 503.3,983.7 500.4,983.7 497.4,984.7 495.5,987.2 494.0,989.7 489.6,990.6 484.6,991.6 479.7,993.1 474.8,994.6 472.3,997.0 471.8,1000.5 468.9,1002.5 464.9,1003.9 462.0,1005.4 460.0,1006.4 453.8,1008.5 446.4,1009.9 440.5,1012.9 434.6,1012.9 428.7,1012.2 423.5,1010.7 422.6,1010.0 415.7,1011.0 409.8,1012.0 411.7,1017.9 412.7,1025.8 406.8,1031.7 401.9,1034.7 402.9,1041.6 404.8,1047.5 407.8,1053.4 405.8,1058.3 408.8,1063.3 415.7,1061.3 421.6,1066.2 427.5,1065.2 433.4,1063.3 439.3,1065.2 443.3,1071.1 449.2,1075.1 454.1,1081.0 459.0,1084.9 464.9,1083.9 470.8,1082.0 476.7,1080.0 482.7,1079.0 488.6,1077.0 494.5,1075.1 501.4,1074.1 503.0,1074.2 520.0,1080.0 540.0,1020.0 620.0,960.0" fill="#ffffff" stroke="#5a8a5a" stroke-width="0.8" stroke-linejoin="round"/>
<g clip-path="url(#wclip)" fill="none" stroke="#9a9a9a" stroke-width="0.9" stroke-linejoin="round">
<polyline points="377.2,889.9 370.3,888.9 362.5,890.8 354.6,893.8 348.7,897.7 342.8,901.7 339.8,909.6 344.7,913.5 350.6,916.5 358.5,918.4 364.4,922.4 362.5,927.3 354.6,928.3 346.7,931.2 350.6,936.2 358.5,938.1 366.4,939.1 362.5,945.0 367.4,949.0 373.3,952.9 376.3,958.8 382.2,962.8 388.1,966.7 389.1,967.7"/>
<polyline points="351.6,1046.5 346.7,1051.4 341.8,1056.4 342.8,1063.3 347.7,1069.2 352.6,1075.1 354.6,1081.0 360.5,1084.9 366.4,1088.9 369.4,1094.8 367.4,1098.7 362.5,1100.7"/>
<polyline points="348.1,1092.1 354.0,1095.8 359.9,1100.2 364.3,1104.7 370.2,1109.1 376.2,1112.8 382.1,1115.0 386.5,1118.7 390.9,1121.7"/>
<polyline points="386.5,1123.1 389.5,1126.8 393.9,1130.5 392.4,1133.5 399.8,1134.2 400.5,1138.7 404.2,1143.1 403.5,1149.0 405.0,1155.7 410.1,1157.9 414.6,1156.4 416.1,1163.8 414.6,1169.7 416.1,1174.9 419.0,1178.6 416.8,1184.5 413.8,1188.9 416.1,1194.1 414.6,1199.3 416.1,1203.7 413.1,1208.1 410.9,1210.3"/>
<polyline points="390.9,1121.7 396.8,1123.1 402.8,1122.4 407.2,1118.7 414.6,1118.0 422.0,1116.5 426.4,1113.5 430.1,1109.8 426.4,1107.6 422.0,1106.9 424.9,1101.7 425.7,1097.3 429.4,1092.9 433.8,1090.6 439.7,1091.4 443.4,1093.6 447.1,1096.5 451.5,1094.3 453.7,1089.9"/>
<polyline points="408.7,1053.0 414.6,1052.2 422.0,1053.7 421.2,1058.9 420.5,1063.3 414.6,1064.8 408.7,1066.3 407.2,1061.1 406.4,1056.6 408.7,1053.0"/>
<polyline points="463.0,1006.1 460.0,1014.0 459.0,1021.9 461.0,1028.8 466.9,1030.7 470.8,1037.6 473.8,1045.5 476.7,1053.4 478.7,1061.3 486.6,1063.3 492.5,1068.2 496.5,1074.1 502.4,1074.1"/>
<polyline points="422.6,1010.0 431.4,1010.0 439.3,1012.0 447.2,1009.1 455.1,1007.1 463.0,1006.1"/>
<polyline points="244.6,787.7 243.1,792.6 239.1,800.5 237.1,807.4 241.1,812.3 249.0,813.3 256.8,814.3 263.7,816.3 262.8,822.2 266.7,828.1 264.7,836.0 258.8,841.9 253.9,844.8 255.9,848.8 262.8,849.8 268.7,851.7 272.6,855.7 274.6,849.8"/>
</g>
</g>
<polygon points="362.1,585.5 353.4,584.2 346.1,581.8 341.1,578.1 339.9,571.9 333.7,569.5 326.4,565.8 319.0,562.1 312.8,558.4 310.3,551.0 307.9,541.1 305.4,533.7 304.7,528.8 311.6,523.9 319.0,519.0 323.9,514.0 321.4,509.1 316.5,504.2 309.1,503.0 301.7,500.5 294.3,499.3 286.9,496.8 280.8,493.1 279.6,486.9 282.0,483.3 289.4,478.3 295.6,473.4 303.0,470.9 311.6,469.7 313.5,466.7 323.9,467.2 332.5,464.8 341.1,461.8 348.5,462.8 358.4,462.3 365.8,466.0 370.7,473.4 378.1,478.3 387.9,483.3 395.3,486.9 400.2,491.9 403.9,498.0 412.6,503.0 420.0,504.2 429.8,504.7 439.7,501.7 449.5,495.6 459.4,493.8 471.7,493.1 475.4,490.6 484.0,492.4 490.1,496.8 496.3,495.6 503.7,500.5 502.5,509.1 496.3,516.5 492.6,522.7 486.5,527.6 482.8,533.7 476.6,537.4 468.0,542.4 466.7,548.5 464.3,554.7 468.0,560.8 472.9,565.8 479.1,570.7 482.8,575.6 476.6,580.5 466.7,584.2 459.4,578.1 454.4,579.3 449.5,580.5 452.0,585.5 456.9,590.4 459.4,597.8 460.6,603.9 458.1,608.9 464.3,617.5 468.0,610.1 472.9,612.6 479.1,618.7 486.5,621.2 493.8,622.4 501.2,626.1 507.4,632.3 514.8,633.5 522.2,634.7 524.6,640.9 518.5,645.8 511.1,650.7 506.2,655.7 503.7,661.8 501.2,668.0 497.5,672.9 493.8,677.8 501.2,679.1 508.6,681.5 520.9,685.2 533.3,690.1 545.6,695.1 557.9,698.8 570.2,703.7 582.5,706.2 594.8,708.6 607.1,711.1 614.5,711.1 624.4,716.0 634.2,720.9 644.1,725.9 648.7,726.7 656.6,727.7 662.5,732.6 670.3,732.6 678.2,734.6 686.1,736.6 694.0,736.6 699.9,734.2 705.8,737.5 713.7,738.5 719.6,739.5 725.5,740.5 729.5,742.5 725.5,746.4 720.6,751.3 722.6,756.3 726.5,760.2 722.6,764.1 719.6,768.1 722.6,772.0 720.6,776.0 723.5,780.9 727.5,782.9 732.4,787.8 739.3,790.7 746.2,793.7 746.2,800.6 744.2,807.5 746.2,813.4 745.2,819.3 752.1,822.3 750.1,830.1 753.1,839.0 755.1,846.9 756.1,854.8 755.1,862.7 749.2,864.6 743.3,863.6 737.3,864.6 731.4,863.6 727.5,862.7 726.5,856.7 721.6,860.7 715.7,862.7 709.8,863.6 701.7,865.9 695.5,869.6 693.1,875.8 696.7,881.9 698.0,886.8 690.6,891.8 689.4,896.7 682.0,902.9 672.1,907.8 662.3,912.7 652.4,917.6 642.6,922.6 635.2,927.5 630.7,928.7 616.7,946.3 612.7,949.3 607.8,952.2 602.9,955.2 597.9,958.1 594.0,962.1 590.0,966.0 585.1,969.0 579.2,971.9 573.3,974.9 568.4,976.8 563.4,979.8 560.5,983.7 559.5,986.7 561.5,991.6 558.5,994.6 552.6,997.5 546.7,1000.5 539.8,1003.4 533.9,1006.4 529.0,1009.4 525.0,1012.3 523.1,1015.3 520.1,1016.7 517.1,1013.3 512.2,1012.3 507.3,1013.3 503.3,1015.8 500.9,1020.0 496.8,1033.6 498.0,1043.4 500.5,1053.3 501.7,1063.2 503.0,1074.2 504.9,1080.4 503.0,1087.8 500.5,1097.6 496.8,1105.0 491.9,1112.4 488.2,1122.3 490.6,1129.7 489.4,1139.5 490.6,1149.4 489.4,1158.0 483.3,1156.7 477.1,1161.7 470.9,1167.8 474.6,1176.5 475.9,1183.8 470.9,1182.6 463.5,1183.8 454.9,1187.5 447.5,1192.5 442.6,1196.2 440.1,1203.5 436.5,1208.5 430.3,1212.2 422.9,1214.6 416.7,1213.4 410.6,1208.5 405.7,1201.1 400.7,1193.7 395.8,1183.8 390.9,1174.0 387.2,1164.1 383.5,1154.3 378.6,1144.4 374.9,1137.0 371.2,1129.7 366.3,1122.3 361.3,1114.9 356.4,1107.5 351.5,1100.1 347.8,1092.7 345.3,1085.3 341.6,1075.5 337.9,1065.6 334.2,1055.8 329.3,1045.9 325.6,1037.3 320.7,1028.7 315.8,1018.8 310.8,1009.0 305.9,996.7 302.2,984.3 298.5,969.6 293.6,952.3 292.6,940.0 291.1,937.3 288.9,931.4 288.1,925.5 286.6,919.6 285.2,913.7 283.7,907.8 284.4,901.9 286.6,898.2 288.9,894.5 288.1,888.6 285.9,882.7 283.7,876.7 282.2,870.8 281.5,864.9 279.3,860.5 280.0,855.3 281.5,850.9 285.2,848.7 289.6,847.2 283.7,847.2 279.3,847.2 275.6,847.2 272.6,849.4 270.4,853.1 271.9,857.5 271.9,862.0 270.4,866.4 268.2,870.8 264.5,873.8 260.0,876.0 254.1,879.0 248.2,881.9 242.3,884.1 236.4,886.3 230.5,887.4 223.1,885.6 217.2,882.7 211.3,879.0 206.1,874.5 200.9,870.1 195.8,865.7 190.6,861.2 185.4,856.8 181.0,852.4 177.3,847.9 176.5,845.0 179.5,842.0 182.5,847.2 186.2,845.7 190.6,845.0 195.0,842.8 199.5,842.0 205.4,840.5 209.8,838.3 213.5,835.4 217.2,832.4 220.1,829.5 224.6,826.5 228.3,823.5 227.5,822.1 221.6,822.1 215.7,822.8 211.3,825.8 207.6,828.7 202.4,830.9 196.5,832.4 190.6,832.4 183.9,830.9 178.0,828.7 172.9,825.8 168.4,822.8 166.9,819.1 164.7,816.9 162.5,813.9 163.2,811.0 166.9,808.0 171.4,805.1 165.5,807.3 160.3,809.5 156.6,812.5 154.4,811.0 154.4,806.5 157.3,803.6 164.0,802.9 170.2,802.1 171.1,798.4 172.1,794.3 175.8,795.5 181.7,795.2 189.1,794.7 196.5,795.5 202.4,796.9 208.3,796.2 212.8,794.0 218.7,792.2 223.8,791.0 226.1,795.5 230.5,794.7 233.4,791.8 237.1,790.3 236.4,785.9 238.6,784.4 240.7,782.2 235.8,778.5 232.1,774.8 228.4,771.1 224.7,766.2 218.5,761.3 212.4,756.4 208.7,751.4 211.1,746.5 209.9,740.3 203.7,735.4 196.4,733.0 192.2,728.0 193.9,719.4 198.8,712.0 203.7,710.8 208.6,704.7 213.5,699.8 217.9,697.3 222.2,697.3 225.2,698.5 226.5,702.8 228.9,705.7 236.9,704.1 246.8,702.2 254.2,700.4 260.3,698.5 261.6,694.8 264.0,691.7 268.3,688.1 271.4,683.7 273.9,679.4 278.8,676.4 285.0,673.9 290.5,671.4 294.2,667.1 297.3,662.8 300.4,657.9 302.8,653.0 304.1,648.6 307.1,646.6 312.1,645.0 318.2,645.6 319.5,642.5 320.7,639.4 318.8,636.3 321.3,633.3 325.6,630.8 330.5,626.5 335.5,622.2 338.5,619.1 336.7,616.0 337.3,611.1 340.4,607.4 339.2,603.7 336.7,600.0 339.9,597.8 348.5,594.1 358.4,591.6 364.5,586.7" fill="none" stroke="#2f7a2f" stroke-width="0.9" stroke-linejoin="round"/>
<g clip-path="url(#wclip)"><polygon points="362.1,585.5 353.4,584.2 346.1,581.8 341.1,578.1 339.9,571.9 333.7,569.5 326.4,565.8 319.0,562.1 312.8,558.4 310.3,551.0 307.9,541.1 305.4,533.7 304.7,528.8 311.6,523.9 319.0,519.0 323.9,514.0 321.4,509.1 316.5,504.2 309.1,503.0 301.7,500.5 294.3,499.3 286.9,496.8 280.8,493.1 279.6,486.9 282.0,483.3 289.4,478.3 295.6,473.4 303.0,470.9 311.6,469.7 313.5,466.7 323.9,467.2 332.5,464.8 341.1,461.8 348.5,462.8 358.4,462.3 365.8,466.0 370.7,473.4 378.1,478.3 387.9,483.3 395.3,486.9 400.2,491.9 403.9,498.0 412.6,503.0 420.0,504.2 429.8,504.7 439.7,501.7 449.5,495.6 459.4,493.8 471.7,493.1 475.4,490.6 484.0,492.4 490.1,496.8 496.3,495.6 503.7,500.5 502.5,509.1 496.3,516.5 492.6,522.7 486.5,527.6 482.8,533.7 476.6,537.4 468.0,542.4 466.7,548.5 464.3,554.7 468.0,560.8 472.9,565.8 479.1,570.7 482.8,575.6 476.6,580.5 466.7,584.2 459.4,578.1 454.4,579.3 449.5,580.5 452.0,585.5 456.9,590.4 459.4,597.8 460.6,603.9 458.1,608.9 464.3,617.5 468.0,610.1 472.9,612.6 479.1,618.7 486.5,621.2 493.8,622.4 501.2,626.1 507.4,632.3 514.8,633.5 522.2,634.7 524.6,640.9 518.5,645.8 511.1,650.7 506.2,655.7 503.7,661.8 501.2,668.0 497.5,672.9 493.8,677.8 501.2,679.1 508.6,681.5 520.9,685.2 533.3,690.1 545.6,695.1 557.9,698.8 570.2,703.7 582.5,706.2 594.8,708.6 607.1,711.1 614.5,711.1 624.4,716.0 634.2,720.9 644.1,725.9 648.7,726.7 656.6,727.7 662.5,732.6 670.3,732.6 678.2,734.6 686.1,736.6 694.0,736.6 699.9,734.2 705.8,737.5 713.7,738.5 719.6,739.5 725.5,740.5 729.5,742.5 725.5,746.4 720.6,751.3 722.6,756.3 726.5,760.2 722.6,764.1 719.6,768.1 722.6,772.0 720.6,776.0 723.5,780.9 727.5,782.9 732.4,787.8 739.3,790.7 746.2,793.7 746.2,800.6 744.2,807.5 746.2,813.4 745.2,819.3 752.1,822.3 750.1,830.1 753.1,839.0 755.1,846.9 756.1,854.8 755.1,862.7 749.2,864.6 743.3,863.6 737.3,864.6 731.4,863.6 727.5,862.7 726.5,856.7 721.6,860.7 715.7,862.7 709.8,863.6 701.7,865.9 695.5,869.6 693.1,875.8 696.7,881.9 698.0,886.8 690.6,891.8 689.4,896.7 682.0,902.9 672.1,907.8 662.3,912.7 652.4,917.6 642.6,922.6 635.2,927.5 630.7,928.7 616.7,946.3 612.7,949.3 607.8,952.2 602.9,955.2 597.9,958.1 594.0,962.1 590.0,966.0 585.1,969.0 579.2,971.9 573.3,974.9 568.4,976.8 563.4,979.8 560.5,983.7 559.5,986.7 561.5,991.6 558.5,994.6 552.6,997.5 546.7,1000.5 539.8,1003.4 533.9,1006.4 529.0,1009.4 525.0,1012.3 523.1,1015.3 520.1,1016.7 517.1,1013.3 512.2,1012.3 507.3,1013.3 503.3,1015.8 500.9,1020.0 496.8,1033.6 498.0,1043.4 500.5,1053.3 501.7,1063.2 503.0,1074.2 504.9,1080.4 503.0,1087.8 500.5,1097.6 496.8,1105.0 491.9,1112.4 488.2,1122.3 490.6,1129.7 489.4,1139.5 490.6,1149.4 489.4,1158.0 483.3,1156.7 477.1,1161.7 470.9,1167.8 474.6,1176.5 475.9,1183.8 470.9,1182.6 463.5,1183.8 454.9,1187.5 447.5,1192.5 442.6,1196.2 440.1,1203.5 436.5,1208.5 430.3,1212.2 422.9,1214.6 416.7,1213.4 410.6,1208.5 405.7,1201.1 400.7,1193.7 395.8,1183.8 390.9,1174.0 387.2,1164.1 383.5,1154.3 378.6,1144.4 374.9,1137.0 371.2,1129.7 366.3,1122.3 361.3,1114.9 356.4,1107.5 351.5,1100.1 347.8,1092.7 345.3,1085.3 341.6,1075.5 337.9,1065.6 334.2,1055.8 329.3,1045.9 325.6,1037.3 320.7,1028.7 315.8,1018.8 310.8,1009.0 305.9,996.7 302.2,984.3 298.5,969.6 293.6,952.3 292.6,940.0 291.1,937.3 288.9,931.4 288.1,925.5 286.6,919.6 285.2,913.7 283.7,907.8 284.4,901.9 286.6,898.2 288.9,894.5 288.1,888.6 285.9,882.7 283.7,876.7 282.2,870.8 281.5,864.9 279.3,860.5 280.0,855.3 281.5,850.9 285.2,848.7 289.6,847.2 283.7,847.2 279.3,847.2 275.6,847.2 272.6,849.4 270.4,853.1 271.9,857.5 271.9,862.0 270.4,866.4 268.2,870.8 264.5,873.8 260.0,876.0 254.1,879.0 248.2,881.9 242.3,884.1 236.4,886.3 230.5,887.4 223.1,885.6 217.2,882.7 211.3,879.0 206.1,874.5 200.9,870.1 195.8,865.7 190.6,861.2 185.4,856.8 181.0,852.4 177.3,847.9 176.5,845.0 179.5,842.0 182.5,847.2 186.2,845.7 190.6,845.0 195.0,842.8 199.5,842.0 205.4,840.5 209.8,838.3 213.5,835.4 217.2,832.4 220.1,829.5 224.6,826.5 228.3,823.5 227.5,822.1 221.6,822.1 215.7,822.8 211.3,825.8 207.6,828.7 202.4,830.9 196.5,832.4 190.6,832.4 183.9,830.9 178.0,828.7 172.9,825.8 168.4,822.8 166.9,819.1 164.7,816.9 162.5,813.9 163.2,811.0 166.9,808.0 171.4,805.1 165.5,807.3 160.3,809.5 156.6,812.5 154.4,811.0 154.4,806.5 157.3,803.6 164.0,802.9 170.2,802.1 171.1,798.4 172.1,794.3 175.8,795.5 181.7,795.2 189.1,794.7 196.5,795.5 202.4,796.9 208.3,796.2 212.8,794.0 218.7,792.2 223.8,791.0 226.1,795.5 230.5,794.7 233.4,791.8 237.1,790.3 236.4,785.9 238.6,784.4 240.7,782.2 235.8,778.5 232.1,774.8 228.4,771.1 224.7,766.2 218.5,761.3 212.4,756.4 208.7,751.4 211.1,746.5 209.9,740.3 203.7,735.4 196.4,733.0 192.2,728.0 193.9,719.4 198.8,712.0 203.7,710.8 208.6,704.7 213.5,699.8 217.9,697.3 222.2,697.3 225.2,698.5 226.5,702.8 228.9,705.7 236.9,704.1 246.8,702.2 254.2,700.4 260.3,698.5 261.6,694.8 264.0,691.7 268.3,688.1 271.4,683.7 273.9,679.4 278.8,676.4 285.0,673.9 290.5,671.4 294.2,667.1 297.3,662.8 300.4,657.9 302.8,653.0 304.1,648.6 307.1,646.6 312.1,645.0 318.2,645.6 319.5,642.5 320.7,639.4 318.8,636.3 321.3,633.3 325.6,630.8 330.5,626.5 335.5,622.2 338.5,619.1 336.7,616.0 337.3,611.1 340.4,607.4 339.2,603.7 336.7,600.0 339.9,597.8 348.5,594.1 358.4,591.6 364.5,586.7" fill="none" stroke="#fff" stroke-width="1.6" stroke-linejoin="round"/><polygon points="362.1,585.5 353.4,584.2 346.1,581.8 341.1,578.1 339.9,571.9 333.7,569.5 326.4,565.8 319.0,562.1 312.8,558.4 310.3,551.0 307.9,541.1 305.4,533.7 304.7,528.8 311.6,523.9 319.0,519.0 323.9,514.0 321.4,509.1 316.5,504.2 309.1,503.0 301.7,500.5 294.3,499.3 286.9,496.8 280.8,493.1 279.6,486.9 282.0,483.3 289.4,478.3 295.6,473.4 303.0,470.9 311.6,469.7 313.5,466.7 323.9,467.2 332.5,464.8 341.1,461.8 348.5,462.8 358.4,462.3 365.8,466.0 370.7,473.4 378.1,478.3 387.9,483.3 395.3,486.9 400.2,491.9 403.9,498.0 412.6,503.0 420.0,504.2 429.8,504.7 439.7,501.7 449.5,495.6 459.4,493.8 471.7,493.1 475.4,490.6 484.0,492.4 490.1,496.8 496.3,495.6 503.7,500.5 502.5,509.1 496.3,516.5 492.6,522.7 486.5,527.6 482.8,533.7 476.6,537.4 468.0,542.4 466.7,548.5 464.3,554.7 468.0,560.8 472.9,565.8 479.1,570.7 482.8,575.6 476.6,580.5 466.7,584.2 459.4,578.1 454.4,579.3 449.5,580.5 452.0,585.5 456.9,590.4 459.4,597.8 460.6,603.9 458.1,608.9 464.3,617.5 468.0,610.1 472.9,612.6 479.1,618.7 486.5,621.2 493.8,622.4 501.2,626.1 507.4,632.3 514.8,633.5 522.2,634.7 524.6,640.9 518.5,645.8 511.1,650.7 506.2,655.7 503.7,661.8 501.2,668.0 497.5,672.9 493.8,677.8 501.2,679.1 508.6,681.5 520.9,685.2 533.3,690.1 545.6,695.1 557.9,698.8 570.2,703.7 582.5,706.2 594.8,708.6 607.1,711.1 614.5,711.1 624.4,716.0 634.2,720.9 644.1,725.9 648.7,726.7 656.6,727.7 662.5,732.6 670.3,732.6 678.2,734.6 686.1,736.6 694.0,736.6 699.9,734.2 705.8,737.5 713.7,738.5 719.6,739.5 725.5,740.5 729.5,742.5 725.5,746.4 720.6,751.3 722.6,756.3 726.5,760.2 722.6,764.1 719.6,768.1 722.6,772.0 720.6,776.0 723.5,780.9 727.5,782.9 732.4,787.8 739.3,790.7 746.2,793.7 746.2,800.6 744.2,807.5 746.2,813.4 745.2,819.3 752.1,822.3 750.1,830.1 753.1,839.0 755.1,846.9 756.1,854.8 755.1,862.7 749.2,864.6 743.3,863.6 737.3,864.6 731.4,863.6 727.5,862.7 726.5,856.7 721.6,860.7 715.7,862.7 709.8,863.6 701.7,865.9 695.5,869.6 693.1,875.8 696.7,881.9 698.0,886.8 690.6,891.8 689.4,896.7 682.0,902.9 672.1,907.8 662.3,912.7 652.4,917.6 642.6,922.6 635.2,927.5 630.7,928.7 616.7,946.3 612.7,949.3 607.8,952.2 602.9,955.2 597.9,958.1 594.0,962.1 590.0,966.0 585.1,969.0 579.2,971.9 573.3,974.9 568.4,976.8 563.4,979.8 560.5,983.7 559.5,986.7 561.5,991.6 558.5,994.6 552.6,997.5 546.7,1000.5 539.8,1003.4 533.9,1006.4 529.0,1009.4 525.0,1012.3 523.1,1015.3 520.1,1016.7 517.1,1013.3 512.2,1012.3 507.3,1013.3 503.3,1015.8 500.9,1020.0 496.8,1033.6 498.0,1043.4 500.5,1053.3 501.7,1063.2 503.0,1074.2 504.9,1080.4 503.0,1087.8 500.5,1097.6 496.8,1105.0 491.9,1112.4 488.2,1122.3 490.6,1129.7 489.4,1139.5 490.6,1149.4 489.4,1158.0 483.3,1156.7 477.1,1161.7 470.9,1167.8 474.6,1176.5 475.9,1183.8 470.9,1182.6 463.5,1183.8 454.9,1187.5 447.5,1192.5 442.6,1196.2 440.1,1203.5 436.5,1208.5 430.3,1212.2 422.9,1214.6 416.7,1213.4 410.6,1208.5 405.7,1201.1 400.7,1193.7 395.8,1183.8 390.9,1174.0 387.2,1164.1 383.5,1154.3 378.6,1144.4 374.9,1137.0 371.2,1129.7 366.3,1122.3 361.3,1114.9 356.4,1107.5 351.5,1100.1 347.8,1092.7 345.3,1085.3 341.6,1075.5 337.9,1065.6 334.2,1055.8 329.3,1045.9 325.6,1037.3 320.7,1028.7 315.8,1018.8 310.8,1009.0 305.9,996.7 302.2,984.3 298.5,969.6 293.6,952.3 292.6,940.0 291.1,937.3 288.9,931.4 288.1,925.5 286.6,919.6 285.2,913.7 283.7,907.8 284.4,901.9 286.6,898.2 288.9,894.5 288.1,888.6 285.9,882.7 283.7,876.7 282.2,870.8 281.5,864.9 279.3,860.5 280.0,855.3 281.5,850.9 285.2,848.7 289.6,847.2 283.7,847.2 279.3,847.2 275.6,847.2 272.6,849.4 270.4,853.1 271.9,857.5 271.9,862.0 270.4,866.4 268.2,870.8 264.5,873.8 260.0,876.0 254.1,879.0 248.2,881.9 242.3,884.1 236.4,886.3 230.5,887.4 223.1,885.6 217.2,882.7 211.3,879.0 206.1,874.5 200.9,870.1 195.8,865.7 190.6,861.2 185.4,856.8 181.0,852.4 177.3,847.9 176.5,845.0 179.5,842.0 182.5,847.2 186.2,845.7 190.6,845.0 195.0,842.8 199.5,842.0 205.4,840.5 209.8,838.3 213.5,835.4 217.2,832.4 220.1,829.5 224.6,826.5 228.3,823.5 227.5,822.1 221.6,822.1 215.7,822.8 211.3,825.8 207.6,828.7 202.4,830.9 196.5,832.4 190.6,832.4 183.9,830.9 178.0,828.7 172.9,825.8 168.4,822.8 166.9,819.1 164.7,816.9 162.5,813.9 163.2,811.0 166.9,808.0 171.4,805.1 165.5,807.3 160.3,809.5 156.6,812.5 154.4,811.0 154.4,806.5 157.3,803.6 164.0,802.9 170.2,802.1 171.1,798.4 172.1,794.3 175.8,795.5 181.7,795.2 189.1,794.7 196.5,795.5 202.4,796.9 208.3,796.2 212.8,794.0 218.7,792.2 223.8,791.0 226.1,795.5 230.5,794.7 233.4,791.8 237.1,790.3 236.4,785.9 238.6,784.4 240.7,782.2 235.8,778.5 232.1,774.8 228.4,771.1 224.7,766.2 218.5,761.3 212.4,756.4 208.7,751.4 211.1,746.5 209.9,740.3 203.7,735.4 196.4,733.0 192.2,728.0 193.9,719.4 198.8,712.0 203.7,710.8 208.6,704.7 213.5,699.8 217.9,697.3 222.2,697.3 225.2,698.5 226.5,702.8 228.9,705.7 236.9,704.1 246.8,702.2 254.2,700.4 260.3,698.5 261.6,694.8 264.0,691.7 268.3,688.1 271.4,683.7 273.9,679.4 278.8,676.4 285.0,673.9 290.5,671.4 294.2,667.1 297.3,662.8 300.4,657.9 302.8,653.0 304.1,648.6 307.1,646.6 312.1,645.0 318.2,645.6 319.5,642.5 320.7,639.4 318.8,636.3 321.3,633.3 325.6,630.8 330.5,626.5 335.5,622.2 338.5,619.1 336.7,616.0 337.3,611.1 340.4,607.4 339.2,603.7 336.7,600.0 339.9,597.8 348.5,594.1 358.4,591.6 364.5,586.7" fill="none" stroke="#9a9a9a" stroke-width="1" stroke-linejoin="round"/></g>
<polygon points="727.5,700.1 731.4,698.7 737.3,697.1 745.2,696.2 750.1,699.1 749.2,705.0 747.2,710.0 749.2,713.9 748.2,718.8 751.1,722.8 757.0,725.7 764.9,727.7 772.8,729.7 778.7,730.6 778.7,737.5 775.8,743.4 771.8,747.4 766.9,745.4 761.0,743.4 755.1,741.5 749.2,740.5 743.3,740.9 737.3,742.1 732.4,744.4 728.5,748.4 726.5,751.3 729.5,755.3 735.4,757.2 741.3,760.2 747.2,763.2 753.1,768.1 749.2,770.0 743.3,769.1 738.3,771.0 735.4,776.0 731.4,779.9 727.5,782.9 723.5,780.9 720.6,776.0 722.6,772.0 719.6,768.1 722.6,764.1 726.5,760.2 722.6,756.3 720.6,751.3 725.5,746.4 729.5,742.5 727.5,737.5 729.5,731.6 727.5,726.7 726.5,720.8 727.5,714.9 728.5,709.0" fill="#66dcff" stroke="#3a7f95" stroke-width="0.8" stroke-linejoin="round"/>
<polygon points="778.7,730.9 786.5,728.7 793.1,727.6 802.0,729.8 810.8,728.7 819.7,729.8 828.6,728.7 837.4,727.6 841.9,726.0 850.7,724.9 859.6,723.8 868.5,725.3 879.6,725.3 888.4,723.8 895.1,718.7 901.7,713.2 908.4,709.8 917.2,707.6 926.1,705.4 935.0,703.2 943.8,701.0 953.8,698.7 950.5,704.3 952.7,710.9 954.9,715.4 948.3,717.6 939.4,719.8 932.8,723.1 926.1,726.5 919.5,730.9 912.8,735.3 906.2,740.9 899.5,746.4 892.9,751.9 888.4,755.3 884.0,759.7 879.6,763.0 881.8,768.6 877.3,775.2 872.9,780.8 868.5,786.3 864.0,790.7 858.5,793.0 854.1,796.3 850.7,793.0 847.4,789.6 848.5,784.1 853.0,779.7 850.7,776.3 844.1,774.1 835.2,772.6 826.4,770.8 817.5,769.7 808.6,770.8 799.8,771.9 790.9,770.8 784.2,769.7 777.6,768.6 778.7,761.9 777.6,755.3 776.5,748.6 776.5,743.1 778.7,737.5" fill="#66dcff" stroke="#3a7f95" stroke-width="0.8" stroke-linejoin="round"/>
<polygon points="841.9,726.0 843.0,720.9 841.9,715.4 837.4,712.0 830.8,710.9 827.5,706.5 828.6,702.1 835.2,704.3 841.9,703.2 848.5,701.0 855.2,699.9 860.7,696.5 866.3,694.3 871.8,689.9 876.2,684.3 882.9,681.0 890.6,678.8 897.3,676.6 902.8,671.0 909.5,666.6 917.2,663.3 923.9,665.5 930.5,667.7 937.2,668.8 943.8,665.5 950.5,663.3 957.1,660.0 962.7,662.2 966.0,665.5 961.6,668.8 970.5,671.0 972.7,677.7 968.2,683.2 963.8,687.7 970.5,686.6 978.2,687.7 986.0,689.9 992.6,692.1 995.9,695.4 993.7,701.0 988.2,704.3 982.6,706.5 981.5,712.0 987.1,716.5 989.3,720.2 983.8,718.7 977.1,715.4 970.5,716.5 963.8,718.7 957.1,720.9 950.5,724.2 943.8,727.6 938.3,730.9 933.9,732.0 932.8,723.1 939.4,719.8 948.3,717.6 954.9,715.4 952.7,710.9 950.5,704.3 953.8,698.7 943.8,701.0 935.0,703.2 926.1,705.4 917.2,707.6 908.4,709.8 901.7,713.2 895.1,718.7 888.4,723.8 879.6,725.3 868.5,725.3 859.6,723.8 850.7,724.9" fill="#66dcff" stroke="#3a7f95" stroke-width="0.8" stroke-linejoin="round"/>
<polygon points="932.8,723.1 933.9,732.0 930.5,737.5 927.2,744.2 923.9,750.8 921.7,757.5 918.4,764.1 919.5,771.9 916.1,778.6 912.8,784.1 909.5,790.7 906.2,797.4 902.8,805.2 897.3,804.0 890.6,801.8 884.0,802.9 880.7,800.7 879.6,808.5 880.7,817.3 878.5,825.1 875.1,830.6 872.9,837.3 874.0,843.9 871.8,849.5 866.3,853.9 861.8,850.6 857.4,852.8 856.3,846.2 855.2,837.3 851.9,828.4 850.7,819.6 848.5,812.9 845.2,809.6 839.7,810.7 837.4,815.1 835.2,819.6 834.1,826.2 828.6,828.4 824.1,825.1 820.8,819.6 818.6,814.0 816.4,809.6 818.6,804.0 824.1,800.7 830.8,797.4 837.4,793.0 844.1,790.7 847.4,789.6 850.7,793.0 854.1,796.3 858.5,793.0 864.0,790.7 868.5,786.3 872.9,780.8 877.3,775.2 881.8,768.6 879.6,763.0 884.0,759.7 888.4,755.3 892.9,751.9 899.5,746.4 906.2,740.9 912.8,735.3 919.5,730.9 926.1,726.5" fill="#338133" stroke="#245c24" stroke-width="0.8" stroke-linejoin="round"/>
<rect x="246.5" y="1103" width="89" height="133.5" fill="#fff" stroke="#a0a0a0" stroke-width="1.2"/>
<rect x="831.5" y="1061.3" width="89.5" height="213.4" fill="#338133" stroke="#6f8f6f" stroke-width="0.8"/>
<polygon points="869.1,1071.7 871.1,1074.6 871.6,1079.5 870.1,1084.4 868.1,1087.4 866.2,1089.8 868.1,1093.2 868.6,1097.2 867.2,1101.1 865.2,1104.0 863.7,1107.0 862.3,1110.9 862.7,1114.8 861.3,1118.7 859.8,1122.6 858.3,1125.6 856.4,1122.6 855.4,1118.7 856.4,1114.8 857.8,1110.9 859.3,1107.9 860.3,1104.0 860.3,1099.1 860.8,1095.2 859.3,1091.3 861.3,1088.3 862.7,1084.4 863.2,1079.5 864.7,1075.6 866.7,1072.6" fill="none" stroke="#0a1a0a" stroke-width="0.7" stroke-linejoin="round"/>
<polygon points="868.1,1108.4 871.1,1107.9 870.6,1110.9 868.6,1112.8 869.6,1115.8 870.6,1117.7 869.1,1116.8 868.1,1113.8 867.2,1111.4" fill="none" stroke="#0a1a0a" stroke-width="0.7" stroke-linejoin="round"/>
<polygon points="853.4,1141.3 856.4,1142.3 857.8,1146.2 856.4,1150.6 852.9,1151.6 851.0,1149.1 851.5,1144.7" fill="none" stroke="#0a1a0a" stroke-width="0.7" stroke-linejoin="round"/>
<polygon points="861.3,1185.9 862.7,1186.2 862.5,1187.5 861.1,1187.4" fill="none" stroke="#0a1a0a" stroke-width="0.7" stroke-linejoin="round"/>
<polygon points="871.1,1207.5 874.0,1208.9 875.5,1210.9 873.0,1211.4 871.1,1209.9" fill="none" stroke="#0a1a0a" stroke-width="0.7" stroke-linejoin="round"/>
<polygon points="877.9,1216.8 880.9,1213.8 883.8,1211.9 885.3,1215.8 882.8,1218.7 879.9,1219.7" fill="none" stroke="#0a1a0a" stroke-width="0.7" stroke-linejoin="round"/>
<polygon points="887.7,1231.5 890.2,1231.0 889.7,1234.4 892.6,1236.4 895.1,1241.3 895.6,1246.2 893.6,1249.1 891.7,1247.2 889.2,1243.2 887.7,1238.3 886.8,1234.4" fill="none" stroke="#0a1a0a" stroke-width="0.7" stroke-linejoin="round"/>
</g>
<text class="lbl" x="401.5" y="512.8" text-anchor="middle">Jammu</text>
<text class="lbl" x="401.5" y="526.8" text-anchor="middle">Kashmir Ladakh</text>
<text class="lbl" x="401.5" y="541.1" text-anchor="middle">Gilgit</text>
<text class="lbl" x="401.5" y="555.4" text-anchor="middle">Baltistan</text>
<text class="lbl" x="401.5" y="569.7" text-anchor="middle">Muzaffarabad</text>
<text class="lbl" x="391.6" y="593.6" text-anchor="start">Himachal</text>
<text class="lbl" x="391.6" y="607.6" text-anchor="start">Pradesh</text>
<text class="lbl" x="347.8" y="626.1" text-anchor="start">Punjab</text>
<text class="lbl" x="434.2" y="640.9" text-anchor="start">Uttarakhand</text>
<text class="lbl" x="336.7" y="659.0" text-anchor="start">Chandigarh</text>
<text class="lbl" x="359.1" y="671.2" text-anchor="start">Haryana</text>
<text class="lbl" x="379.3" y="683.5" text-anchor="start">Delhi</text>
<text class="lbl" x="434.7" y="679.1" text-anchor="start">West</text>
<text class="lbl" x="434.7" y="693.3" text-anchor="start">Uttar</text>
<text class="lbl" x="434.7" y="707.4" text-anchor="start">Pradesh</text>
<text class="lbl" x="294.3" y="717.2" text-anchor="middle">West</text>
<text class="lbl" x="294.3" y="731.3" text-anchor="middle">Rajasthan</text>
<text class="lbl" x="532.8" y="732.8" text-anchor="start">East</text>
<text class="lbl" x="532.8" y="746.8" text-anchor="start">Uttar</text>
<text class="lbl" x="532.8" y="760.9" text-anchor="start">Pradesh</text>
<text class="lbl" x="359.4" y="751.4" text-anchor="middle">East</text>
<text class="lbl" x="359.4" y="765.0" text-anchor="middle">Rajasthan</text>
<text class="lbl" x="405.0" y="822.4" text-anchor="middle">West</text>
<text class="lbl" x="405.0" y="836.4" text-anchor="middle">Madhya</text>
<text class="lbl" x="405.0" y="850.0" text-anchor="middle">Pradesh</text>
<text class="lbl" x="230.8" y="831.5" text-anchor="middle">Saurashtra</text>
<text class="lbl" x="230.8" y="845.5" text-anchor="middle">&amp;</text>
<text class="lbl" x="230.8" y="859.8" text-anchor="middle">Kutch</text>
<text class="lbl" x="294.9" y="826.6" text-anchor="middle">Gujarat</text>
<text class="lbl" x="294.9" y="840.6" text-anchor="middle">Region</text>
<text class="lbl" x="500.5" y="808.0" text-anchor="middle">East</text>
<text class="lbl" x="500.5" y="822.4" text-anchor="middle">Madhya</text>
<text class="lbl" x="500.5" y="835.7" text-anchor="middle">Pradesh</text>
<text class="lbl" x="447.6" y="893.0" text-anchor="middle">Vidarbha</text>
<text class="lbl" x="394.6" y="940.6" text-anchor="middle">Marathwada</text>
<text class="lbl" x="283.8" y="949.7" text-anchor="middle">Konkan</text>
<text class="lbl" x="283.8" y="963.7" text-anchor="middle">&amp;</text>
<text class="lbl" x="283.8" y="978.0" text-anchor="middle">Goa</text>
<text class="lbl" x="313.8" y="959.6" text-anchor="start">Madhya</text>
<text class="lbl" x="307.2" y="973.1" text-anchor="start">Maharashtra</text>
<text class="lbl" x="471.7" y="969.0" text-anchor="middle">Telangana</text>
<text class="lbl" x="364.3" y="988.0" text-anchor="start">North</text>
<text class="lbl" x="346.6" y="1002.0" text-anchor="start">Interior</text>
<text class="lbl" x="336.7" y="1016.4" text-anchor="start">Karnataka</text>
<text class="lbl" x="542.4" y="980.6" text-anchor="middle">Coastal</text>
<text class="lbl" x="542.4" y="994.7" text-anchor="middle">Andhra</text>
<text class="lbl" x="542.4" y="1009.0" text-anchor="middle">Pradesh</text>
<text class="lbl" x="542.4" y="1023.3" text-anchor="middle">&amp;</text>
<text class="lbl" x="542.4" y="1037.3" text-anchor="middle">Yanam</text>
<text class="lbl" x="468.5" y="1046.4" text-anchor="middle">Rayalaseema</text>
<text class="lbl" x="330.7" y="1063.9" text-anchor="middle">Coastal</text>
<text class="lbl" x="330.7" y="1077.9" text-anchor="middle">Karnataka</text>
<text class="lbl" x="362.6" y="1063.9" text-anchor="start">South</text>
<text class="lbl" x="395.1" y="1077.9" text-anchor="middle">Interior</text>
<text class="lbl" x="394.6" y="1092.2" text-anchor="middle">Karnataka</text>
<text class="lbl" x="447.0" y="1140.0" text-anchor="middle">Tamil Nadu</text>
<text class="lbl" x="447.0" y="1154.3" text-anchor="middle">Puducherry</text>
<text class="lbl" x="447.0" y="1168.6" text-anchor="middle">&amp;</text>
<text class="lbl" x="447.0" y="1182.6" text-anchor="middle">Karaikal</text>
<text class="lbl" x="384.0" y="1170.3" text-anchor="middle">Kerala</text>
<text class="lbl" x="384.0" y="1184.3" text-anchor="middle">&amp;</text>
<text class="lbl" x="384.0" y="1198.6" text-anchor="middle">Mahe</text>
<text class="lbl" x="294.2" y="1161.7" text-anchor="middle">Lakshadweep</text>
<text class="lbl" x="560.0" y="856.6" text-anchor="middle">Chhattisgarh</text>
<text class="lbl" x="644.4" y="809.3" text-anchor="middle">Jharkhand</text>
<text class="lbl" x="628.8" y="902.9" text-anchor="middle">Odisha</text>
<text class="lbl" x="713.7" y="817.1" text-anchor="middle">Gangetic</text>
<text class="lbl" x="713.7" y="835.9" text-anchor="middle">West</text>
<text class="lbl" x="713.7" y="854.8" text-anchor="middle">Bengal</text>
<text class="lbl" x="665.9" y="761.6" text-anchor="middle">Bihar</text>
<text class="lbl" x="751.1" y="697.7" text-anchor="middle">Sub Himalayan</text>
<text class="lbl" x="751.5" y="711.9" text-anchor="middle">West Bengal</text>
<text class="lbl" x="732.4" y="726.1" text-anchor="middle">&amp;</text>
<text class="lbl" x="741.7" y="740.1" text-anchor="middle">Sikkim</text>
<text class="lbl" x="829.2" y="748.6" text-anchor="middle">Assam</text>
<text class="lbl" x="829.2" y="757.5" text-anchor="middle">&amp;</text>
<text class="lbl" x="829.2" y="767.5" text-anchor="middle">Meghalaya</text>
<text class="lbl" x="929.7" y="681.7" text-anchor="middle">Arunachal</text>
<text class="lbl" x="929.7" y="700.3" text-anchor="middle">Pradesh</text>
<text class="lbl" x="894.0" y="748.2" text-anchor="start">Nagaland</text>
<text class="lbl" x="894.0" y="757.0" text-anchor="start">Manipur</text>
<text class="lbl" x="894.0" y="766.8" text-anchor="start">Mizoram</text>
<text class="lbl" x="894.0" y="775.7" text-anchor="start">&amp;</text>
<text class="lbl" x="894.0" y="785.9" text-anchor="start">Tripura</text>
<text class="lbl" x="874.7" y="1133.9" text-anchor="middle">Andaman</text>
<text class="lbl" x="874.7" y="1153.0" text-anchor="middle">&amp;</text>
<text class="lbl" x="874.7" y="1172.4" text-anchor="middle">Nicobar</text>
<text class="lbl" x="874.7" y="1191.5" text-anchor="middle">Islands</text>
<g transform="translate(187.7,386.6) scale(0.547,0.47)">
<ellipse cx="-11.0" cy="-116" rx="9.5" ry="15" fill="url(#lgLion)"/><ellipse cx="15.0" cy="-116" rx="9.5" ry="15" fill="url(#lgLion)"/><ellipse cx="-16.5" cy="-124" rx="6" ry="7.5" fill="#4d4a43"/><ellipse cx="20.5" cy="-124" rx="6" ry="7.5" fill="#4d4a43"/><ellipse cx="-18.5" cy="-125" rx="3" ry="4" fill="#c9c7bd"/><ellipse cx="22.5" cy="-125" rx="3" ry="4" fill="#c9c7bd"/><ellipse cx="2.0" cy="-118" rx="11.5" ry="19" fill="#35332d"/><ellipse cx="2.0" cy="-113" rx="8" ry="12" fill="#5e5b52"/><rect x="-5.5" y="-144" width="15" height="8" rx="2" fill="#45423b"/><ellipse cx="2.0" cy="-131" rx="7.5" ry="8" fill="#6f6c62"/><ellipse cx="2.0" cy="-130" rx="4.5" ry="5" fill="#d6d4ca"/><circle cx="-0.3999999999999999" cy="-132.5" r="1" fill="#222"/><circle cx="4.4" cy="-132.5" r="1" fill="#222"/><path d="M -1.0 -128 Q 2.0 -125.5 5.0 -128" stroke="#222" stroke-width="1" fill="none"/><path d="M -12.1 -108 L -6.9 -108 L -7.3 -93 L -13.1 -93 Z" fill="url(#lgLeg)" stroke="#4a473f" stroke-width="0.5"/><path d="M -4.4 -108 L 0.8000000000000003 -108 L 0.40000000000000036 -93 L -5.4 -93 Z" fill="url(#lgLeg)" stroke="#4a473f" stroke-width="0.5"/><path d="M 3.6 -108 L 8.8 -108 L 8.4 -93 L 2.6 -93 Z" fill="url(#lgLeg)" stroke="#4a473f" stroke-width="0.5"/><path d="M 11.4 -108 L 16.6 -108 L 16.2 -93 L 10.4 -93 Z" fill="url(#lgLeg)" stroke="#4a473f" stroke-width="0.5"/><rect x="-19.5" y="-92.5" width="43" height="16.5" rx="6" fill="url(#lgAb)"/><circle cx="2.0" cy="-84" r="5.6" fill="#d9d2b4" stroke="#221e12" stroke-width="0.6"/><circle cx="2.0" cy="-84" r="2.8" fill="none" stroke="#4a4227" stroke-width="1.4"/><path d="M -14.0 -83 q 2 -5 4 0 q 2 3 5 1" stroke="#d9d2b4" stroke-width="1.2" fill="none"/><path d="M 11.0 -86 q 2 -3 3 1 l 1 4 m 2 -4 l 1 3" stroke="#d9d2b4" stroke-width="1.2" fill="none"/><rect x="-13.5" y="-76" width="31" height="3.2" rx="1.2" fill="#8c8460"/>
<text x="2.0" y="-65.6" text-anchor="middle" font-size="5.4" fill="#555" style="font-family:"Liberation Sans","Noto Sans","Noto Sans Devanagari","Lohit Devanagari","Mukta","Hind","FreeSans",sans-serif" textLength="35" lengthAdjust="spacingAndGlyphs">सत्यमेव जयते</text>
<circle cx="0" cy="0" r="59" fill="url(#lgRing)" stroke="#2d2616" stroke-width="1.6"/>
<circle cx="0" cy="0" r="56.3" fill="none" stroke="#8d8058" stroke-width="0.6"/>
<circle cx="0" cy="0" r="46.2" fill="#fff" stroke="#2d2616" stroke-width="1.3"/>
<circle cx="0" cy="0" r="44.2" fill="url(#lgDisc)" stroke="#dfe9f8" stroke-width="1.2"/>
<clipPath id="dcmL"><circle cx="0" cy="0" r="43.4"/></clipPath>
<g clip-path="url(#dcmL)" stroke="#4f7fd0" stroke-width="0.55" opacity="0.75"><line x1="-60" y1="10" x2="10" y2="-60"/><line x1="-56" y1="10" x2="14" y2="-60"/><line x1="-52" y1="10" x2="18" y2="-60"/><line x1="-48" y1="10" x2="22" y2="-60"/><line x1="-44" y1="10" x2="26" y2="-60"/><line x1="-40" y1="10" x2="30" y2="-60"/><line x1="-36" y1="10" x2="34" y2="-60"/><line x1="-32" y1="10" x2="38" y2="-60"/><line x1="-28" y1="10" x2="42" y2="-60"/><line x1="-24" y1="10" x2="46" y2="-60"/><line x1="-20" y1="10" x2="50" y2="-60"/><line x1="-16" y1="10" x2="54" y2="-60"/><line x1="-12" y1="10" x2="58" y2="-60"/><line x1="-8" y1="10" x2="62" y2="-60"/><line x1="-4" y1="10" x2="66" y2="-60"/><line x1="0" y1="10" x2="70" y2="-60"/><line x1="4" y1="10" x2="74" y2="-60"/><line x1="8" y1="10" x2="78" y2="-60"/><line x1="12" y1="10" x2="82" y2="-60"/><line x1="16" y1="10" x2="86" y2="-60"/><line x1="20" y1="10" x2="90" y2="-60"/></g>
<g clip-path="url(#dcmL)">
<path d="M -46 -6 L -36 -8 L -30 -14 L -24 -12 L -20 -20 L -19 -30 L -13 -40 L -6 -38 L -4 -30 L 2 -24 L 10 -20 L 18 -18 L 26 -20 L 34 -24 L 40 -22 L 36 -15 L 30 -11 L 26 -4 L 30 4 L 34 14 L 38 26 L 34 24 L 29 12 L 24 6 L 20 -2 L 14 -6 L 10 0 L 6 8 L 2 18 L -1 30 L -4 42 L -7 36 L -10 22 L -13 10 L -15 2 L -20 6 L -26 4 L -24 -2 L -30 -4 L -38 0 L -46 2 Z" fill="#a9cdf6" stroke="#3f6fd0" stroke-width="0.7" opacity="0.95"/>
<path d="M -44 12 C -20 0 4 -4 22 6 M -44 26 C -16 10 6 12 26 22 M -40 38 C -14 24 6 26 24 36 M -14 -26 C -10 0 -16 22 -6 44 M -30 -2 C -22 14 -24 30 -12 44" fill="none" stroke="#3b66c8" stroke-width="0.6"/>
<path d="M -2 44 l 2 -4 l 2 4 z M -10 -2 l 3 1 l -3 1.6 z M 2 10 l 3 1 l -3 1.6 z" fill="#2b4fb0"/>
</g>
<circle cx="-52.6" cy="-2" r="5.2" fill="#cfd6f2" stroke="#2b2f7a" stroke-width="1"/><circle cx="-52.6" cy="-2" r="2.6" fill="#3a3f9a"/>
<circle cx="52.6" cy="-2" r="5.2" fill="#cfd6f2" stroke="#2b2f7a" stroke-width="1"/><circle cx="52.6" cy="-2" r="2.6" fill="#3a3f9a"/>
<text font-size="11.2" font-weight="bold" fill="#1c170c" style="font-family:"Liberation Sans","Noto Sans","Noto Sans Devanagari","Lohit Devanagari","Mukta","Hind","FreeSans",sans-serif"><textPath href="#arcTop" startOffset="13.5%" text-anchor="middle">भारत</textPath></text>
<text font-size="11.2" font-weight="bold" fill="#1c170c" style="font-family:"Liberation Sans","Noto Sans","Noto Sans Devanagari","Lohit Devanagari","Mukta","Hind","FreeSans",sans-serif"><textPath href="#arcTop" startOffset="37%" text-anchor="middle">मौसम</textPath></text>
<text font-size="11.2" font-weight="bold" fill="#1c170c" style="font-family:"Liberation Sans","Noto Sans","Noto Sans Devanagari","Lohit Devanagari","Mukta","Hind","FreeSans",sans-serif"><textPath href="#arcTop" startOffset="61%" text-anchor="middle">विज्ञान</textPath></text>
<text font-size="11.2" font-weight="bold" fill="#1c170c" style="font-family:"Liberation Sans","Noto Sans","Noto Sans Devanagari","Lohit Devanagari","Mukta","Hind","FreeSans",sans-serif"><textPath href="#arcTop" startOffset="85.5%" text-anchor="middle">विभाग</textPath></text>
<text font-size="6.6" font-weight="bold" fill="#1c170c" style="font-family:'Liberation Serif',serif"><textPath href="#arcBot" startOffset="50%" text-anchor="middle" textLength="146" lengthAdjust="spacingAndGlyphs">INDIA METEOROLOGICAL DEPARTMENT</textPath></text>
<path d="M -50 50 Q 0 74 50 51 L 46 62 Q 0 82 -46 61 Z" fill="#15120a"/>
<path d="M -56 44 L -51 42 L -50 49 Q -30 58 -16 59 L -19 78 Q -40 76 -57 66 Z" fill="url(#lgOr)" stroke="#5a2a10" stroke-width="0.8"/>
<path d="M -57 45 L -52 42 L -51 50 L -57 52 Z" fill="#5b2d86"/>
<path d="M 56 46 L 51 43 L 50 50 Q 32 60 15 61 L 18 79 Q 40 77 57 67 Z" fill="url(#lgGr)" stroke="#0e4a16" stroke-width="0.8"/>
<path d="M 57 47 L 52 43 L 51 51 L 57 54 Z" fill="#1d6a5a"/>
<path d="M -19 67 Q 0 61 18 67 L 17 84 Q 0 78 -18 85 Z" fill="#f1ecd6" stroke="#3a3426" stroke-width="1"/>
<text x="-36" y="71" font-size="11" font-weight="bold" fill="#a82c08" text-anchor="middle" transform="rotate(12 -36 71)" style="font-family:"Liberation Sans","Noto Sans","Noto Sans Devanagari","Lohit Devanagari","Mukta","Hind","FreeSans",sans-serif" textLength="30" lengthAdjust="spacingAndGlyphs">आदित्यात्</text>
<text x="36" y="72" font-size="11" font-weight="bold" fill="#0c5a14" text-anchor="middle" transform="rotate(-12 36 72)" style="font-family:"Liberation Sans","Noto Sans","Noto Sans Devanagari","Lohit Devanagari","Mukta","Hind","FreeSans",sans-serif" textLength="28" lengthAdjust="spacingAndGlyphs">वृष्टिः</text>
<text x="0" y="79.5" font-size="12" font-weight="bold" fill="#2a2418" text-anchor="middle" style="font-family:"Liberation Sans","Noto Sans","Noto Sans Devanagari","Lohit Devanagari","Mukta","Hind","FreeSans",sans-serif" textLength="27" lengthAdjust="spacingAndGlyphs">जायते</text>
</g>
<text class="ttl" transform="translate(567.6,380.8) scale(1.058,1)" text-anchor="middle">SUBDIVISION RAINFALL FORECAST FOR DAY 5</text>
<text class="ttl" transform="translate(553.3,409.8) scale(1.058,1)" text-anchor="middle">2026-03-15</text>
<polygon points="970.1,331 951.0,375.7 970.1,358.6" fill="#d3d3d3"/>
<polygon points="970.1,331 951.0,375.7 970.1,358.6 989.2,375.7" fill="none" stroke="#000" stroke-width="1.7" stroke-linejoin="miter"/>
<text class="sea" x="232" y="1097.3" text-anchor="middle">Arabian Sea</text>
<text class="sea" x="616" y="1097.3" text-anchor="middle">Bay of Bengal</text>
<text class="sea" x="449.2" y="1363.3" text-anchor="middle" style="font-size:19.3px">Indian Ocean</text>
<rect x="606" y="1329" width="117.5" height="10.5" fill="#000" stroke="#1f4f9f" stroke-width="1.4"/>
<rect x="606.7" y="1329.7" width="57.5" height="9.1" fill="#ffff00"/>
<text class="sb" x="606" y="1318.6" text-anchor="middle">0</text>
<text class="sb" x="664.7" y="1318.6" text-anchor="middle">250</text>
<text class="sb" x="707.8" y="1318.6">500 km</text>
<rect x="1061.15" y="310.25" width="928.7" height="1080.8" fill="none" stroke="#80807a" stroke-width="1.7"/>
<rect x="1066.4" y="315.3" width="918.2" height="1070.2" fill="none" stroke="#c2c2ba" stroke-width="1"/>
<rect x="1062.2" y="311.1" width="132.6" height="3" fill="#0000ff"/>
<rect x="1062.2" y="1386.7" width="132.6" height="3" fill="#0000ff"/>
<rect x="1327.5" y="311.1" width="132.6" height="3" fill="#0000ff"/>
<rect x="1327.5" y="1386.7" width="132.6" height="3" fill="#0000ff"/>
<rect x="1592.8" y="311.1" width="132.6" height="3" fill="#0000ff"/>
<rect x="1592.8" y="1386.7" width="132.6" height="3" fill="#0000ff"/>
<rect x="1858.0" y="311.1" width="131.0" height="3" fill="#0000ff"/>
<rect x="1858.0" y="1386.7" width="131.0" height="3" fill="#0000ff"/>
<rect x="1062.2" y="310.9" width="3" height="119.5" fill="#0000ff"/>
<rect x="1986.0" y="310.9" width="3" height="119.5" fill="#0000ff"/>
<rect x="1062.2" y="550.0" width="3" height="119.5" fill="#0000ff"/>
<rect x="1986.0" y="550.0" width="3" height="119.5" fill="#0000ff"/>
<rect x="1062.2" y="789.1" width="3" height="119.5" fill="#0000ff"/>
<rect x="1986.0" y="789.1" width="3" height="119.5" fill="#0000ff"/>
<rect x="1062.2" y="1028.1" width="3" height="119.5" fill="#0000ff"/>
<rect x="1986.0" y="1028.1" width="3" height="119.5" fill="#0000ff"/>
<rect x="1062.2" y="1267.2" width="3" height="122.5" fill="#0000ff"/>
<rect x="1986.0" y="1267.2" width="3" height="122.5" fill="#0000ff"/>
<text class="ax" transform="translate(1160.0,1381.3) scale(0.945,1)" text-anchor="middle">70°0.000'</text>
<text class="ax" transform="translate(1304.7,1381.3) scale(0.945,1)" text-anchor="middle">75°0.000'</text>
<text class="ax" transform="translate(1449.4,1381.3) scale(0.945,1)" text-anchor="middle">80°0.000'</text>
<text class="ax" transform="translate(1594.1,1381.3) scale(0.945,1)" text-anchor="middle">85°0.000'</text>
<text class="ax" transform="translate(1738.8,1381.3) scale(0.945,1)" text-anchor="middle">90°0.000'</text>
<text class="ax" transform="translate(1883.5,1381.3) scale(0.945,1)" text-anchor="middle">95°0.000'</text>
<text class="ax2" transform="translate(1082.4,1314.5) rotate(-90) scale(0.765,1)" text-anchor="middle">5°0.000'</text>
<text class="ax2" transform="translate(1082.4,1181.5) rotate(-90) scale(0.765,1)" text-anchor="middle">10°0.000'</text>
<text class="ax2" transform="translate(1082.4,1048.5) rotate(-90) scale(0.765,1)" text-anchor="middle">15°0.000'</text>
<text class="ax2" transform="translate(1082.4,915.5) rotate(-90) scale(0.765,1)" text-anchor="middle">20°0.000'</text>
<text class="ax2" transform="translate(1082.4,782.5) rotate(-90) scale(0.765,1)" text-anchor="middle">25°0.000'</text>
<text class="ax2" transform="translate(1082.4,649.5) rotate(-90) scale(0.765,1)" text-anchor="middle">30°0.000'</text>
<text class="ax2" transform="translate(1082.4,516.5) rotate(-90) scale(0.765,1)" text-anchor="middle">35°0.000'</text>
<text class="ax2" transform="translate(1082.4,383.5) rotate(-90) scale(0.765,1)" text-anchor="middle">40°0.000'</text>
<g transform="translate(950,0)">
<clipPath id="clipR"><polygon points="362.1,585.5 353.4,584.2 346.1,581.8 341.1,578.1 339.9,571.9 333.7,569.5 326.4,565.8 319.0,562.1 312.8,558.4 310.3,551.0 307.9,541.1 305.4,533.7 304.7,528.8 311.6,523.9 319.0,519.0 323.9,514.0 321.4,509.1 316.5,504.2 309.1,503.0 301.7,500.5 294.3,499.3 286.9,496.8 280.8,493.1 279.6,486.9 282.0,483.3 289.4,478.3 295.6,473.4 303.0,470.9 311.6,469.7 313.5,466.7 323.9,467.2 332.5,464.8 341.1,461.8 348.5,462.8 358.4,462.3 365.8,466.0 370.7,473.4 378.1,478.3 387.9,483.3 395.3,486.9 400.2,491.9 403.9,498.0 412.6,503.0 420.0,504.2 429.8,504.7 439.7,501.7 449.5,495.6 459.4,493.8 471.7,493.1 475.4,490.6 484.0,492.4 490.1,496.8 496.3,495.6 503.7,500.5 502.5,509.1 496.3,516.5 492.6,522.7 486.5,527.6 482.8,533.7 476.6,537.4 468.0,542.4 466.7,548.5 464.3,554.7 468.0,560.8 472.9,565.8 479.1,570.7 482.8,575.6 476.6,580.5 466.7,584.2 459.4,578.1 454.4,579.3 449.5,580.5 452.0,585.5 456.9,590.4 459.4,597.8 460.6,603.9 458.1,608.9 464.3,617.5 468.0,610.1 472.9,612.6 479.1,618.7 486.5,621.2 493.8,622.4 501.2,626.1 507.4,632.3 514.8,633.5 522.2,634.7 524.6,640.9 518.5,645.8 511.1,650.7 506.2,655.7 503.7,661.8 501.2,668.0 497.5,672.9 493.8,677.8 501.2,679.1 508.6,681.5 520.9,685.2 533.3,690.1 545.6,695.1 557.9,698.8 570.2,703.7 582.5,706.2 594.8,708.6 607.1,711.1 614.5,711.1 624.4,716.0 634.2,720.9 644.1,725.9 648.7,726.7 656.6,727.7 662.5,732.6 670.3,732.6 678.2,734.6 686.1,736.6 694.0,736.6 699.9,734.2 705.8,737.5 713.7,738.5 719.6,739.5 725.5,740.5 729.5,742.5 725.5,746.4 720.6,751.3 722.6,756.3 726.5,760.2 722.6,764.1 719.6,768.1 722.6,772.0 720.6,776.0 723.5,780.9 727.5,782.9 732.4,787.8 739.3,790.7 746.2,793.7 746.2,800.6 744.2,807.5 746.2,813.4 745.2,819.3 752.1,822.3 750.1,830.1 753.1,839.0 755.1,846.9 756.1,854.8 755.1,862.7 749.2,864.6 743.3,863.6 737.3,864.6 731.4,863.6 727.5,862.7 726.5,856.7 721.6,860.7 715.7,862.7 709.8,863.6 701.7,865.9 695.5,869.6 693.1,875.8 696.7,881.9 698.0,886.8 690.6,891.8 689.4,896.7 682.0,902.9 672.1,907.8 662.3,912.7 652.4,917.6 642.6,922.6 635.2,927.5 630.7,928.7 616.7,946.3 612.7,949.3 607.8,952.2 602.9,955.2 597.9,958.1 594.0,962.1 590.0,966.0 585.1,969.0 579.2,971.9 573.3,974.9 568.4,976.8 563.4,979.8 560.5,983.7 559.5,986.7 561.5,991.6 558.5,994.6 552.6,997.5 546.7,1000.5 539.8,1003.4 533.9,1006.4 529.0,1009.4 525.0,1012.3 523.1,1015.3 520.1,1016.7 517.1,1013.3 512.2,1012.3 507.3,1013.3 503.3,1015.8 500.9,1020.0 496.8,1033.6 498.0,1043.4 500.5,1053.3 501.7,1063.2 503.0,1074.2 504.9,1080.4 503.0,1087.8 500.5,1097.6 496.8,1105.0 491.9,1112.4 488.2,1122.3 490.6,1129.7 489.4,1139.5 490.6,1149.4 489.4,1158.0 483.3,1156.7 477.1,1161.7 470.9,1167.8 474.6,1176.5 475.9,1183.8 470.9,1182.6 463.5,1183.8 454.9,1187.5 447.5,1192.5 442.6,1196.2 440.1,1203.5 436.5,1208.5 430.3,1212.2 422.9,1214.6 416.7,1213.4 410.6,1208.5 405.7,1201.1 400.7,1193.7 395.8,1183.8 390.9,1174.0 387.2,1164.1 383.5,1154.3 378.6,1144.4 374.9,1137.0 371.2,1129.7 366.3,1122.3 361.3,1114.9 356.4,1107.5 351.5,1100.1 347.8,1092.7 345.3,1085.3 341.6,1075.5 337.9,1065.6 334.2,1055.8 329.3,1045.9 325.6,1037.3 320.7,1028.7 315.8,1018.8 310.8,1009.0 305.9,996.7 302.2,984.3 298.5,969.6 293.6,952.3 292.6,940.0 291.1,937.3 288.9,931.4 288.1,925.5 286.6,919.6 285.2,913.7 283.7,907.8 284.4,901.9 286.6,898.2 288.9,894.5 288.1,888.6 285.9,882.7 283.7,876.7 282.2,870.8 281.5,864.9 279.3,860.5 280.0,855.3 281.5,850.9 285.2,848.7 289.6,847.2 283.7,847.2 279.3,847.2 275.6,847.2 272.6,849.4 270.4,853.1 271.9,857.5 271.9,862.0 270.4,866.4 268.2,870.8 264.5,873.8 260.0,876.0 254.1,879.0 248.2,881.9 242.3,884.1 236.4,886.3 230.5,887.4 223.1,885.6 217.2,882.7 211.3,879.0 206.1,874.5 200.9,870.1 195.8,865.7 190.6,861.2 185.4,856.8 181.0,852.4 177.3,847.9 176.5,845.0 179.5,842.0 182.5,847.2 186.2,845.7 190.6,845.0 195.0,842.8 199.5,842.0 205.4,840.5 209.8,838.3 213.5,835.4 217.2,832.4 220.1,829.5 224.6,826.5 228.3,823.5 227.5,822.1 221.6,822.1 215.7,822.8 211.3,825.8 207.6,828.7 202.4,830.9 196.5,832.4 190.6,832.4 183.9,830.9 178.0,828.7 172.9,825.8 168.4,822.8 166.9,819.1 164.7,816.9 162.5,813.9 163.2,811.0 166.9,808.0 171.4,805.1 165.5,807.3 160.3,809.5 156.6,812.5 154.4,811.0 154.4,806.5 157.3,803.6 164.0,802.9 170.2,802.1 171.1,798.4 172.1,794.3 175.8,795.5 181.7,795.2 189.1,794.7 196.5,795.5 202.4,796.9 208.3,796.2 212.8,794.0 218.7,792.2 223.8,791.0 226.1,795.5 230.5,794.7 233.4,791.8 237.1,790.3 236.4,785.9 238.6,784.4 240.7,782.2 235.8,778.5 232.1,774.8 228.4,771.1 224.7,766.2 218.5,761.3 212.4,756.4 208.7,751.4 211.1,746.5 209.9,740.3 203.7,735.4 196.4,733.0 192.2,728.0 193.9,719.4 198.8,712.0 203.7,710.8 208.6,704.7 213.5,699.8 217.9,697.3 222.2,697.3 225.2,698.5 226.5,702.8 228.9,705.7 236.9,704.1 246.8,702.2 254.2,700.4 260.3,698.5 261.6,694.8 264.0,691.7 268.3,688.1 271.4,683.7 273.9,679.4 278.8,676.4 285.0,673.9 290.5,671.4 294.2,667.1 297.3,662.8 300.4,657.9 302.8,653.0 304.1,648.6 307.1,646.6 312.1,645.0 318.2,645.6 319.5,642.5 320.7,639.4 318.8,636.3 321.3,633.3 325.6,630.8 330.5,626.5 335.5,622.2 338.5,619.1 336.7,616.0 337.3,611.1 340.4,607.4 339.2,603.7 336.7,600.0 339.9,597.8 348.5,594.1 358.4,591.6 364.5,586.7"/></clipPath>
<clipPath id="sclip"><polygon points="238.6,784.4 243.8,785.1 249.7,784.4 257.1,784.4 264.5,783.6 270.4,785.4 275.6,787.3 279.3,789.6 285.2,790.3 291.1,791.0 295.5,789.6 298.5,792.5 299.9,796.9 303.6,799.9 305.9,804.3 309.5,808.8 313.2,813.2 317.7,816.9 322.8,819.8 328.0,822.8 332.5,826.5 334.7,830.9 333.2,835.4 329.5,838.3 325.1,840.5 327.3,843.5 324.3,845.7 325.8,850.1 326.5,854.6 332.5,853.8 336.1,855.3 338.4,859.0 342.8,861.2 345.9,864.4 351.8,866.6 357.7,868.8 365.1,869.6 374.0,869.6 382.1,870.3 384.3,874.0 384.3,877.7 382.9,880.6 380.6,884.3 379.2,889.5 379.9,894.7 382.9,898.4 380.6,902.1 381.4,907.2 388.8,907.2 396.2,906.5 403.5,905.0 410.2,905.8 415.4,908.7 420.5,912.4 425.7,916.1 430.9,919.1 436.1,915.4 442.0,914.6 442.7,912.4 437.5,912.4 433.1,910.9 434.6,908.7 440.5,908.0 446.4,908.7 446.1,913.9 444.2,919.1 442.0,922.0 436.1,923.5 433.8,927.2 432.4,931.6 433.8,935.3 430.1,938.3 427.9,942.0 425.0,946.4 425.7,952.3 425.0,958.2 422.8,964.1 426.4,968.6 422.8,973.0 420.5,978.9 421.3,984.8 421.3,990.7 419.8,995.2 416.8,997.4 422.0,1000.3 423.5,1005.5 423.5,1010.7 428.7,1012.2 434.6,1012.9 440.5,1012.9 446.4,1009.9 453.8,1008.5 460.0,1006.4 462.0,1005.4 464.9,1003.9 468.9,1002.5 471.8,1000.5 472.3,997.0 474.8,994.6 479.7,993.1 484.6,991.6 489.6,990.6 494.0,989.7 495.5,987.2 497.4,984.7 500.4,983.7 503.3,983.7 504.8,985.7 507.3,987.2 510.2,988.2 511.2,986.2 508.3,984.7 506.3,983.3 509.3,981.8 512.2,980.8 515.2,980.3 518.1,980.8 521.1,978.8 524.0,976.8 527.0,974.9 528.0,971.9 525.0,970.9 522.1,969.0 520.1,966.5 521.6,964.5 524.0,963.1 536.8,961.6 540.8,960.6 544.7,959.1 548.7,957.6 552.6,956.7 556.6,955.7 560.5,956.7 562.0,953.7 562.5,950.2 564.4,946.3 565.9,944.3 567.4,946.3 569.4,948.8 573.3,947.3 576.7,946.3 579.7,946.8 582.2,946.3 582.7,943.3 582.2,941.4 585.1,938.9 588.1,936.9 591.0,933.5 593.0,931.5 596.0,930.5 598.9,928.6 600.9,929.6 602.9,932.0 605.8,934.0 608.8,936.0 612.7,937.4 616.7,936.9 620.0,936.5 627.8,931.2 630.7,928.7 640.0,940.0 560.0,1240.0 380.0,1240.0 250.0,960.0 120.0,905.0 120.0,787.0 236.0,787.0"/></clipPath>
<polygon points="362.1,585.5 353.4,584.2 346.1,581.8 341.1,578.1 339.9,571.9 333.7,569.5 326.4,565.8 319.0,562.1 312.8,558.4 310.3,551.0 307.9,541.1 305.4,533.7 304.7,528.8 311.6,523.9 319.0,519.0 323.9,514.0 321.4,509.1 316.5,504.2 309.1,503.0 301.7,500.5 294.3,499.3 286.9,496.8 280.8,493.1 279.6,486.9 282.0,483.3 289.4,478.3 295.6,473.4 303.0,470.9 311.6,469.7 313.5,466.7 323.9,467.2 332.5,464.8 341.1,461.8 348.5,462.8 358.4,462.3 365.8,466.0 370.7,473.4 378.1,478.3 387.9,483.3 395.3,486.9 400.2,491.9 403.9,498.0 412.6,503.0 420.0,504.2 429.8,504.7 439.7,501.7 449.5,495.6 459.4,493.8 471.7,493.1 475.4,490.6 484.0,492.4 490.1,496.8 496.3,495.6 503.7,500.5 502.5,509.1 496.3,516.5 492.6,522.7 486.5,527.6 482.8,533.7 476.6,537.4 468.0,542.4 466.7,548.5 464.3,554.7 468.0,560.8 472.9,565.8 479.1,570.7 482.8,575.6 476.6,580.5 466.7,584.2 459.4,578.1 454.4,579.3 449.5,580.5 452.0,585.5 456.9,590.4 459.4,597.8 460.6,603.9 458.1,608.9 464.3,617.5 468.0,610.1 472.9,612.6 479.1,618.7 486.5,621.2 493.8,622.4 501.2,626.1 507.4,632.3 514.8,633.5 522.2,634.7 524.6,640.9 518.5,645.8 511.1,650.7 506.2,655.7 503.7,661.8 501.2,668.0 497.5,672.9 493.8,677.8 501.2,679.1 508.6,681.5 520.9,685.2 533.3,690.1 545.6,695.1 557.9,698.8 570.2,703.7 582.5,706.2 594.8,708.6 607.1,711.1 614.5,711.1 624.4,716.0 634.2,720.9 644.1,725.9 648.7,726.7 656.6,727.7 662.5,732.6 670.3,732.6 678.2,734.6 686.1,736.6 694.0,736.6 699.9,734.2 705.8,737.5 713.7,738.5 719.6,739.5 725.5,740.5 729.5,742.5 725.5,746.4 720.6,751.3 722.6,756.3 726.5,760.2 722.6,764.1 719.6,768.1 722.6,772.0 720.6,776.0 723.5,780.9 727.5,782.9 732.4,787.8 739.3,790.7 746.2,793.7 746.2,800.6 744.2,807.5 746.2,813.4 745.2,819.3 752.1,822.3 750.1,830.1 753.1,839.0 755.1,846.9 756.1,854.8 755.1,862.7 749.2,864.6 743.3,863.6 737.3,864.6 731.4,863.6 727.5,862.7 726.5,856.7 721.6,860.7 715.7,862.7 709.8,863.6 701.7,865.9 695.5,869.6 693.1,875.8 696.7,881.9 698.0,886.8 690.6,891.8 689.4,896.7 682.0,902.9 672.1,907.8 662.3,912.7 652.4,917.6 642.6,922.6 635.2,927.5 630.7,928.7 616.7,946.3 612.7,949.3 607.8,952.2 602.9,955.2 597.9,958.1 594.0,962.1 590.0,966.0 585.1,969.0 579.2,971.9 573.3,974.9 568.4,976.8 563.4,979.8 560.5,983.7 559.5,986.7 561.5,991.6 558.5,994.6 552.6,997.5 546.7,1000.5 539.8,1003.4 533.9,1006.4 529.0,1009.4 525.0,1012.3 523.1,1015.3 520.1,1016.7 517.1,1013.3 512.2,1012.3 507.3,1013.3 503.3,1015.8 500.9,1020.0 496.8,1033.6 498.0,1043.4 500.5,1053.3 501.7,1063.2 503.0,1074.2 504.9,1080.4 503.0,1087.8 500.5,1097.6 496.8,1105.0 491.9,1112.4 488.2,1122.3 490.6,1129.7 489.4,1139.5 490.6,1149.4 489.4,1158.0 483.3,1156.7 477.1,1161.7 470.9,1167.8 474.6,1176.5 475.9,1183.8 470.9,1182.6 463.5,1183.8 454.9,1187.5 447.5,1192.5 442.6,1196.2 440.1,1203.5 436.5,1208.5 430.3,1212.2 422.9,1214.6 416.7,1213.4 410.6,1208.5 405.7,1201.1 400.7,1193.7 395.8,1183.8 390.9,1174.0 387.2,1164.1 383.5,1154.3 378.6,1144.4 374.9,1137.0 371.2,1129.7 366.3,1122.3 361.3,1114.9 356.4,1107.5 351.5,1100.1 347.8,1092.7 345.3,1085.3 341.6,1075.5 337.9,1065.6 334.2,1055.8 329.3,1045.9 325.6,1037.3 320.7,1028.7 315.8,1018.8 310.8,1009.0 305.9,996.7 302.2,984.3 298.5,969.6 293.6,952.3 292.6,940.0 291.1,937.3 288.9,931.4 288.1,925.5 286.6,919.6 285.2,913.7 283.7,907.8 284.4,901.9 286.6,898.2 288.9,894.5 288.1,888.6 285.9,882.7 283.7,876.7 282.2,870.8 281.5,864.9 279.3,860.5 280.0,855.3 281.5,850.9 285.2,848.7 289.6,847.2 283.7,847.2 279.3,847.2 275.6,847.2 272.6,849.4 270.4,853.1 271.9,857.5 271.9,862.0 270.4,866.4 268.2,870.8 264.5,873.8 260.0,876.0 254.1,879.0 248.2,881.9 242.3,884.1 236.4,886.3 230.5,887.4 223.1,885.6 217.2,882.7 211.3,879.0 206.1,874.5 200.9,870.1 195.8,865.7 190.6,861.2 185.4,856.8 181.0,852.4 177.3,847.9 176.5,845.0 179.5,842.0 182.5,847.2 186.2,845.7 190.6,845.0 195.0,842.8 199.5,842.0 205.4,840.5 209.8,838.3 213.5,835.4 217.2,832.4 220.1,829.5 224.6,826.5 228.3,823.5 227.5,822.1 221.6,822.1 215.7,822.8 211.3,825.8 207.6,828.7 202.4,830.9 196.5,832.4 190.6,832.4 183.9,830.9 178.0,828.7 172.9,825.8 168.4,822.8 166.9,819.1 164.7,816.9 162.5,813.9 163.2,811.0 166.9,808.0 171.4,805.1 165.5,807.3 160.3,809.5 156.6,812.5 154.4,811.0 154.4,806.5 157.3,803.6 164.0,802.9 170.2,802.1 171.1,798.4 172.1,794.3 175.8,795.5 181.7,795.2 189.1,794.7 196.5,795.5 202.4,796.9 208.3,796.2 212.8,794.0 218.7,792.2 223.8,791.0 226.1,795.5 230.5,794.7 233.4,791.8 237.1,790.3 236.4,785.9 238.6,784.4 240.7,782.2 235.8,778.5 232.1,774.8 228.4,771.1 224.7,766.2 218.5,761.3 212.4,756.4 208.7,751.4 211.1,746.5 209.9,740.3 203.7,735.4 196.4,733.0 192.2,728.0 193.9,719.4 198.8,712.0 203.7,710.8 208.6,704.7 213.5,699.8 217.9,697.3 222.2,697.3 225.2,698.5 226.5,702.8 228.9,705.7 236.9,704.1 246.8,702.2 254.2,700.4 260.3,698.5 261.6,694.8 264.0,691.7 268.3,688.1 271.4,683.7 273.9,679.4 278.8,676.4 285.0,673.9 290.5,671.4 294.2,667.1 297.3,662.8 300.4,657.9 302.8,653.0 304.1,648.6 307.1,646.6 312.1,645.0 318.2,645.6 319.5,642.5 320.7,639.4 318.8,636.3 321.3,633.3 325.6,630.8 330.5,626.5 335.5,622.2 338.5,619.1 336.7,616.0 337.3,611.1 340.4,607.4 339.2,603.7 336.7,600.0 339.9,597.8 348.5,594.1 358.4,591.6 364.5,586.7" fill="#f5e73a"/>
<g clip-path="url(#clipR)">
<polygon points="362.1,585.5 353.4,584.2 346.1,581.8 341.1,578.1 339.9,571.9 333.7,569.5 326.4,565.8 319.0,562.1 312.8,558.4 310.3,551.0 307.9,541.1 305.4,533.7 304.7,528.8 311.6,523.9 319.0,519.0 323.9,514.0 321.4,509.1 316.5,504.2 309.1,503.0 301.7,500.5 294.3,499.3 286.9,496.8 280.8,493.1 279.6,486.9 282.0,483.3 289.4,478.3 295.6,473.4 303.0,470.9 311.6,469.7 313.5,466.7 323.9,467.2 332.5,464.8 341.1,461.8 348.5,462.8 358.4,462.3 365.8,466.0 370.7,473.4 378.1,478.3 387.9,483.3 395.3,486.9 400.2,491.9 403.9,498.0 412.6,503.0 420.0,504.2 429.8,504.7 439.7,501.7 449.5,495.6 459.4,493.8 471.7,493.1 475.4,490.6 484.0,492.4 490.1,496.8 496.3,495.6 503.7,500.5 502.5,509.1 496.3,516.5 492.6,522.7 486.5,527.6 482.8,533.7 476.6,537.4 468.0,542.4 466.7,548.5 464.3,554.7 468.0,560.8 472.9,565.8 479.1,570.7 482.8,575.6 476.6,580.5 466.7,584.2 459.4,578.1 454.4,579.3 449.5,580.5 447.0,575.6 439.7,578.1 433.5,573.2 427.3,570.7 420.0,571.9 412.6,569.5 405.2,570.7 397.8,565.8 390.4,568.2 383.0,570.7 375.6,570.7 376.8,578.1 373.2,584.2 365.8,585.5 362.1,585.5" fill="#38a334" stroke="#1a561a" stroke-width="0.8" stroke-linejoin="round"/>
<polygon points="238.6,784.4 243.8,785.1 249.7,784.4 257.1,784.4 264.5,783.6 270.4,785.4 275.6,787.3 279.3,789.6 285.2,790.3 291.1,791.0 295.5,789.6 298.5,792.5 299.9,796.9 303.6,799.9 305.9,804.3 309.5,808.8 313.2,813.2 317.7,816.9 322.8,819.8 328.0,822.8 332.5,826.5 334.7,830.9 333.2,835.4 329.5,838.3 325.1,840.5 327.3,843.5 324.3,845.7 325.8,850.1 326.5,854.6 332.5,853.8 336.1,855.3 338.4,859.0 342.8,861.2 345.9,864.4 351.8,866.6 357.7,868.8 365.1,869.6 374.0,869.6 382.1,870.3 384.3,874.0 384.3,877.7 382.9,880.6 380.6,884.3 379.2,889.5 379.9,894.7 382.9,898.4 380.6,902.1 381.4,907.2 388.8,907.2 396.2,906.5 403.5,905.0 410.2,905.8 415.4,908.7 420.5,912.4 425.7,916.1 430.9,919.1 436.1,915.4 442.0,914.6 442.7,912.4 437.5,912.4 433.1,910.9 434.6,908.7 440.5,908.0 446.4,908.7 446.1,913.9 444.2,919.1 442.0,922.0 436.1,923.5 433.8,927.2 432.4,931.6 433.8,935.3 430.1,938.3 427.9,942.0 425.0,946.4 425.7,952.3 425.0,958.2 422.8,964.1 426.4,968.6 422.8,973.0 420.5,978.9 421.3,984.8 421.3,990.7 419.8,995.2 416.8,997.4 422.0,1000.3 423.5,1005.5 423.5,1010.7 428.7,1012.2 434.6,1012.9 440.5,1012.9 446.4,1009.9 453.8,1008.5 460.0,1006.4 462.0,1005.4 464.9,1003.9 468.9,1002.5 471.8,1000.5 472.3,997.0 474.8,994.6 479.7,993.1 484.6,991.6 489.6,990.6 494.0,989.7 495.5,987.2 497.4,984.7 500.4,983.7 503.3,983.7 504.8,985.7 507.3,987.2 510.2,988.2 511.2,986.2 508.3,984.7 506.3,983.3 509.3,981.8 512.2,980.8 515.2,980.3 518.1,980.8 521.1,978.8 524.0,976.8 527.0,974.9 528.0,971.9 525.0,970.9 522.1,969.0 520.1,966.5 521.6,964.5 524.0,963.1 536.8,961.6 540.8,960.6 544.7,959.1 548.7,957.6 552.6,956.7 556.6,955.7 560.5,956.7 562.0,953.7 562.5,950.2 564.4,946.3 565.9,944.3 567.4,946.3 569.4,948.8 573.3,947.3 576.7,946.3 579.7,946.8 582.2,946.3 582.7,943.3 582.2,941.4 585.1,938.9 588.1,936.9 591.0,933.5 593.0,931.5 596.0,930.5 598.9,928.6 600.9,929.6 602.9,932.0 605.8,934.0 608.8,936.0 612.7,937.4 616.7,936.9 620.0,936.5 627.8,931.2 630.7,928.7 640.0,940.0 560.0,1240.0 380.0,1240.0 250.0,960.0 120.0,905.0 120.0,787.0 236.0,787.0" fill="#38a334" stroke="#1a561a" stroke-width="0.8" stroke-linejoin="round"/>
<g fill="none" stroke="#5f5808" stroke-width="0.85" stroke-linejoin="round" stroke-linecap="round">
<polyline points="319.0,647.1 327.9,647.5 337.7,648.1 343.6,646.2 349.6,649.1 355.5,652.1 358.4,655.0 365.3,653.1 372.2,651.1 379.1,650.1 385.0,647.1 388.0,643.2 394.9,641.2 398.8,637.3 404.7,635.3 406.3,630.4 404.7,626.5"/>
<polyline points="337.7,648.1 336.7,653.1 339.7,658.0 338.7,661.9 349.6,663.3 357.4,668.8 364.3,676.7 367.3,682.6 366.3,686.6 371.2,689.5 377.1,692.5 379.1,698.4 383.1,701.3 386.0,696.4 390.0,693.4 395.9,695.4 400.8,692.5 404.7,694.4 406.7,700.3 407.7,705.3 412.6,704.3 417.5,703.3"/>
<polyline points="427.4,634.9 422.5,638.3 417.5,643.2 413.6,649.1 411.0,656.0 411.6,662.9 413.6,670.8 416.6,678.7 420.5,685.6 423.4,692.5 422.5,699.4 417.5,703.3"/>
<polyline points="506.2,683.6 505.2,690.5 502.3,696.4 498.3,702.3 493.4,705.3 487.5,707.2 485.5,710.2 483.5,707.2 477.6,706.3 471.7,706.3 472.7,712.2 475.7,718.1 476.7,724.0 481.6,727.9 486.5,730.9 483.5,736.8 481.6,741.7 487.5,744.7 493.4,747.6 500.3,750.6 504.2,755.5 503.3,761.4 499.3,765.4"/>
<polyline points="417.5,703.3 418.5,708.2 422.5,714.1 426.4,720.0 429.4,725.0 422.5,726.0 420.5,728.9 427.4,727.9 436.3,726.0 443.2,726.4"/>
<polyline points="444.0,725.6 436.2,729.6 428.3,733.5 420.4,738.4 412.5,742.4 404.6,747.3 397.7,751.2 393.8,756.2 394.8,763.1 398.7,767.0 406.6,767.0 414.5,765.0 419.4,766.0 419.4,770.9 412.5,772.9 406.6,774.9 403.6,779.8 406.6,784.7 402.7,789.7 404.6,794.6 398.7,796.6 392.8,794.6 384.9,795.6 383.0,800.5 377.0,802.5 371.1,805.4 366.2,806.4 364.2,802.5 369.2,798.5 374.1,795.6 373.1,789.7 377.0,785.7 374.1,781.8 367.2,780.8 362.3,778.8 359.3,775.9 354.4,774.9 349.5,776.8 344.5,778.8 342.6,783.7 344.5,791.6 347.5,798.5 349.5,805.4 345.5,812.3 339.6,818.2 335.7,823.2 333.7,826.1"/>
<polyline points="443.2,726.4 450.0,727.9 457.9,729.9 464.8,732.9 468.8,739.8 465.8,747.6 461.9,754.5 456.0,759.5 450.0,763.4 446.1,767.3"/>
<polyline points="448.0,768.0 444.0,774.9 443.1,782.8 441.1,790.6 442.1,798.5 445.0,806.4 450.0,811.3 454.9,815.3 457.8,822.2 453.9,828.1 450.9,836.0 446.0,841.9 445.0,849.8 450.0,855.7 451.9,859.6 448.0,864.5"/>
<polyline points="450.0,763.4 456.0,764.4 461.9,762.4 465.8,767.3 471.7,770.3 477.6,771.3 483.5,772.3 491.4,770.3 499.3,765.4 503.3,769.3 509.2,774.2 517.0,772.3 524.9,775.2 532.8,772.3 538.7,771.3 546.6,775.2 554.5,779.2 562.4,782.1 570.2,785.1 574.2,791.0 574.2,798.9 578.1,803.8 586.0,804.8 591.9,799.9 592.9,793.0 593.9,789.0"/>
<polyline points="605.7,712.2 609.7,718.1 613.6,724.0 621.5,731.9 615.6,735.8 608.7,737.8 613.6,743.7 619.5,747.6 615.6,753.5 603.7,761.4 595.9,765.4 591.9,773.3 591.9,781.1 593.9,789.0"/>
<polyline points="343.5,692.1 343.5,700.0 342.6,705.9 345.5,710.8 350.4,713.8 354.4,718.7 360.3,720.7 353.4,723.6 347.5,726.6 344.5,731.5 339.6,735.5 332.7,738.4 329.8,743.3 326.8,749.3 321.9,754.2 317.9,759.1 314.0,765.0 309.1,770.9 304.1,776.8 299.2,780.8 295.3,775.9 291.3,770.9 287.4,769.0 282.5,774.9 277.5,780.8 273.6,785.7"/>
<polyline points="386.9,877.3 392.8,873.4 396.7,869.5 402.7,864.5 410.5,861.6 418.4,859.6 424.3,861.6 422.4,866.5 426.3,869.5 434.2,868.5 442.1,866.5 448.0,864.5 455.9,862.6 463.7,863.5 471.6,861.6 479.5,863.5 487.4,864.5 495.3,863.5 500.0,864.5"/>
<polyline points="450.0,865.4 457.9,863.4 465.8,862.5 473.6,860.5 481.5,863.4 489.4,862.5 499.3,863.4 507.1,866.4 513.1,871.3"/>
<polyline points="592.9,789.6 599.8,788.6 607.6,785.6 613.5,786.6 619.5,791.5 627.3,792.5 635.2,789.6 643.1,791.5 651.0,787.6 658.9,781.7 666.7,782.7 674.6,787.6 680.5,791.5 688.4,787.6 696.3,785.6 700.2,779.7 704.2,773.8 710.1,769.9 716.0,766.9 722.9,778.7"/>
<polyline points="574.1,789.6 574.1,797.4 576.1,802.4 582.0,804.3 587.9,802.4 591.9,798.4 592.9,789.6 591.9,781.7 590.9,773.8 593.8,767.9 599.8,763.9 603.7,760.0"/>
<polyline points="591.9,798.4 595.8,804.3 601.7,809.3 607.6,817.1 613.5,825.0 619.5,830.0 616.5,835.9 610.6,840.8"/>
<polyline points="610.6,840.8 617.5,842.8 625.4,842.8 633.3,840.8 640.1,841.8 641.1,848.7 647.0,851.6 654.9,850.6 661.8,853.6 666.7,848.7 667.7,840.8 674.6,839.8 681.5,843.7 688.4,847.7 692.4,847.7"/>
<polyline points="450.0,909.8 457.9,911.7 464.8,916.7 471.7,915.7 479.6,917.6 486.5,916.7 491.4,919.6 494.3,927.5 492.4,933.4 497.3,938.3 502.2,937.3"/>
<polyline points="447.2,909.6 457.0,911.5 466.9,915.5 476.7,917.4 486.6,916.5 492.5,921.4 493.5,929.3 496.5,937.1 502.4,939.1"/>
<polygon points="375.6,570.7 383.0,570.7 390.4,568.2 397.8,565.8 405.2,570.7 412.6,569.5 420.0,571.9 427.3,570.7 433.5,573.2 439.7,578.1 447.0,575.6 449.5,580.5 452.0,585.5 456.9,590.4 459.4,597.8 460.6,603.9 458.1,608.9 464.3,617.5 456.9,615.0 447.0,615.0 437.2,617.5 431.0,621.2 428.6,627.3 431.0,633.5 422.4,634.7 415.0,632.3 410.1,626.1 403.9,622.4 397.8,617.5 391.6,611.3 385.5,610.1 380.5,602.7 375.6,596.6 369.5,590.4 373.2,584.2 376.8,578.1"/>
<polygon points="464.3,617.5 468.0,610.1 472.9,612.6 479.1,618.7 486.5,621.2 493.8,622.4 501.2,626.1 507.4,632.3 514.8,633.5 522.2,634.7 524.6,640.9 518.5,645.8 511.1,650.7 506.2,655.7 503.7,661.8 501.2,668.0 497.5,672.9 493.8,677.8 486.5,675.4 479.1,672.9 471.7,670.4 464.3,666.7 459.4,660.6 454.4,654.4 447.0,652.0 439.7,654.4 433.5,655.7 429.8,649.5 433.5,644.6 431.0,637.2 431.0,633.5 428.6,627.3 431.0,621.2 437.2,617.5 447.0,615.0 456.9,615.0"/>
<polygon points="592.1,799.4 598.2,803.1 603.2,809.3 609.3,815.4 611.8,822.8 617.9,827.7 620.9,831.4 616.7,835.1 611.8,840.0 608.1,845.0 604.4,852.4 600.7,858.5 595.8,864.7 589.6,868.4 584.7,873.3 578.5,875.8 571.1,878.2 565.0,883.2 562.5,889.3 565.0,896.7 563.7,904.1 572.4,906.6 571.6,910.2 563.7,907.8 555.1,905.3 550.2,906.6 550.6,904.4 548.7,905.9 550.6,908.4 553.1,910.8 553.6,914.8 554.6,917.7 557.5,920.7 557.0,924.6 558.0,928.6 558.5,932.5 556.6,935.5 553.6,938.4 550.6,941.4 547.7,944.3 543.7,947.3 540.3,950.2 538.8,953.2 537.8,957.1 536.8,961.6 533.9,962.3 529.0,962.1 524.0,963.1 523.5,959.1 522.6,955.2 520.1,952.2 516.7,951.7 516.2,948.3 513.7,945.3 510.2,942.4 506.3,939.9 503.3,937.4 502.4,933.5 503.3,930.5 505.8,927.1 508.3,924.1 511.2,922.2 515.2,923.6 516.7,921.2 519.6,919.2 519.1,917.2 515.2,914.8 512.2,911.8 508.3,909.9 507.3,906.9 510.2,904.9 509.3,902.0 506.3,900.0 507.1,902.9 510.8,895.5 509.6,886.8 507.1,880.7 512.0,873.3 514.5,865.9 515.7,858.5 519.4,851.1 525.6,843.7 533.0,840.0 540.3,838.8 545.3,833.9 547.7,827.7 553.9,824.0 557.6,819.1 551.4,815.4 544.0,813.0 540.3,808.0 544.0,804.3 553.9,805.6 563.7,806.8 573.6,804.3 581.0,805.6 587.1,801.9"/>
<polygon points="723.5,780.9 727.5,782.9 732.4,787.8 739.3,790.7 746.2,793.7 746.2,800.6 744.2,807.5 746.2,813.4 745.2,819.3 752.1,822.3 750.1,830.1 753.1,839.0 755.1,846.9 756.1,854.8 755.1,862.7 749.2,864.6 743.3,863.6 737.3,864.6 731.4,863.6 727.5,862.7 726.5,856.7 721.6,860.7 715.7,862.7 709.8,863.6 705.8,859.7 700.9,856.7 696.0,854.8 691.0,852.8 689.1,846.9 690.0,841.0 686.1,836.1 683.2,832.1 679.2,827.2 674.3,824.2 668.4,821.3 663.4,819.3 666.4,816.4 672.3,813.4 680.2,811.4 686.1,807.5 694.0,805.5 701.9,802.6 707.8,799.6 712.7,795.7 716.7,791.7 719.6,786.8"/>
</g>
<g clip-path="url(#sclip)" fill="none" stroke="#1a561a" stroke-width="0.85" stroke-linejoin="round" stroke-linecap="round">
<polyline points="377.2,889.9 370.3,888.9 362.5,890.8 354.6,893.8 348.7,897.7 342.8,901.7 339.8,909.6 344.7,913.5 350.6,916.5 358.5,918.4 364.4,922.4 362.5,927.3 354.6,928.3 346.7,931.2 350.6,936.2 358.5,938.1 366.4,939.1 362.5,945.0 367.4,949.0 373.3,952.9 376.3,958.8 382.2,962.8 388.1,966.7 389.1,967.7"/>
<polyline points="351.6,1046.5 346.7,1051.4 341.8,1056.4 342.8,1063.3 347.7,1069.2 352.6,1075.1 354.6,1081.0 360.5,1084.9 366.4,1088.9 369.4,1094.8 367.4,1098.7 362.5,1100.7"/>
<polyline points="348.1,1092.1 354.0,1095.8 359.9,1100.2 364.3,1104.7 370.2,1109.1 376.2,1112.8 382.1,1115.0 386.5,1118.7 390.9,1121.7"/>
<polyline points="386.5,1123.1 389.5,1126.8 393.9,1130.5 392.4,1133.5 399.8,1134.2 400.5,1138.7 404.2,1143.1 403.5,1149.0 405.0,1155.7 410.1,1157.9 414.6,1156.4 416.1,1163.8 414.6,1169.7 416.1,1174.9 419.0,1178.6 416.8,1184.5 413.8,1188.9 416.1,1194.1 414.6,1199.3 416.1,1203.7 413.1,1208.1 410.9,1210.3"/>
<polyline points="390.9,1121.7 396.8,1123.1 402.8,1122.4 407.2,1118.7 414.6,1118.0 422.0,1116.5 426.4,1113.5 430.1,1109.8 426.4,1107.6 422.0,1106.9 424.9,1101.7 425.7,1097.3 429.4,1092.9 433.8,1090.6 439.7,1091.4 443.4,1093.6 447.1,1096.5 451.5,1094.3 453.7,1089.9"/>
<polyline points="408.7,1053.0 414.6,1052.2 422.0,1053.7 421.2,1058.9 420.5,1063.3 414.6,1064.8 408.7,1066.3 407.2,1061.1 406.4,1056.6 408.7,1053.0"/>
<polyline points="463.0,1006.1 460.0,1014.0 459.0,1021.9 461.0,1028.8 466.9,1030.7 470.8,1037.6 473.8,1045.5 476.7,1053.4 478.7,1061.3 486.6,1063.3 492.5,1068.2 496.5,1074.1 502.4,1074.1"/>
<polyline points="422.6,1010.0 431.4,1010.0 439.3,1012.0 447.2,1009.1 455.1,1007.1 463.0,1006.1"/>
<polyline points="244.6,787.7 243.1,792.6 239.1,800.5 237.1,807.4 241.1,812.3 249.0,813.3 256.8,814.3 263.7,816.3 262.8,822.2 266.7,828.1 264.7,836.0 258.8,841.9 253.9,844.8 255.9,848.8 262.8,849.8 268.7,851.7 272.6,855.7 274.6,849.8"/>
<polyline points="320.6,856.1 316.9,858.3 316.2,862.0 322.1,864.2 331.0,865.7 325.1,867.9 319.2,870.1 314.7,873.0 311.0,876.0 314.7,878.2 319.2,880.4 317.7,885.6 311.8,888.6 306.6,890.0 305.1,894.5 302.9,899.6 298.5,901.9"/>
<polyline points="298.5,901.9 302.9,906.3 307.3,912.2 311.8,918.1 315.5,922.6 308.3,927.3 304.3,934.2 302.4,941.1 306.3,948.0 310.2,954.9 311.2,962.8 313.2,970.6 315.2,978.5 316.2,986.4 318.1,994.3 319.1,1002.2 323.1,1008.1 326.0,1014.0 329.0,1016.0 330.5,1022.5 328.1,1029.9 325.6,1037.3"/>
<polygon points="329.0,1016.0 330.9,1015.0 333.9,1008.1 330.0,1002.2 330.9,995.3 338.8,992.3 346.7,988.4 354.6,985.4 362.5,982.5 367.4,978.5 370.3,972.6 378.2,973.6 386.1,972.6 389.1,967.7 396.0,964.7 401.9,960.8 406.8,954.9 411.7,950.9 417.6,947.0 423.5,948.0 425.7,952.3 425.0,958.2 422.8,964.1 426.4,968.6 422.8,973.0 420.5,978.9 421.3,984.8 421.3,990.7 419.8,995.2 416.8,997.4 422.0,1000.3 423.5,1005.5 423.5,1010.7 415.7,1011.0 409.8,1012.0 407.8,1016.0 403.8,1020.9 396.0,1024.8 388.1,1027.8 380.2,1031.7 373.3,1034.7 369.4,1039.6 370.3,1047.5 367.4,1054.4 362.5,1051.4 356.6,1047.5 350.6,1043.5 347.7,1035.7 344.7,1029.8 338.8,1026.8 330.9,1021.9 329.0,1016.0"/>
<polyline points="422.6,1010.0 415.7,1011.0 409.8,1012.0 411.7,1017.9 412.7,1025.8 406.8,1031.7 401.9,1034.7 402.9,1041.6 404.8,1047.5 407.8,1053.4 405.8,1058.3 408.8,1063.3 415.7,1061.3 421.6,1066.2 427.5,1065.2 433.4,1063.3 439.3,1065.2 443.3,1071.1 449.2,1075.1 454.1,1081.0 459.0,1084.9 464.9,1083.9 470.8,1082.0 476.7,1080.0 482.7,1079.0 488.6,1077.0 494.5,1075.1 501.4,1074.1 503.0,1074.2"/>
</g>
</g>
<polygon points="362.1,585.5 353.4,584.2 346.1,581.8 341.1,578.1 339.9,571.9 333.7,569.5 326.4,565.8 319.0,562.1 312.8,558.4 310.3,551.0 307.9,541.1 305.4,533.7 304.7,528.8 311.6,523.9 319.0,519.0 323.9,514.0 321.4,509.1 316.5,504.2 309.1,503.0 301.7,500.5 294.3,499.3 286.9,496.8 280.8,493.1 279.6,486.9 282.0,483.3 289.4,478.3 295.6,473.4 303.0,470.9 311.6,469.7 313.5,466.7 323.9,467.2 332.5,464.8 341.1,461.8 348.5,462.8 358.4,462.3 365.8,466.0 370.7,473.4 378.1,478.3 387.9,483.3 395.3,486.9 400.2,491.9 403.9,498.0 412.6,503.0 420.0,504.2 429.8,504.7 439.7,501.7 449.5,495.6 459.4,493.8 471.7,493.1 475.4,490.6 484.0,492.4 490.1,496.8 496.3,495.6 503.7,500.5 502.5,509.1 496.3,516.5 492.6,522.7 486.5,527.6 482.8,533.7 476.6,537.4 468.0,542.4 466.7,548.5 464.3,554.7 468.0,560.8 472.9,565.8 479.1,570.7 482.8,575.6 476.6,580.5 466.7,584.2 459.4,578.1 454.4,579.3 449.5,580.5 452.0,585.5 456.9,590.4 459.4,597.8 460.6,603.9 458.1,608.9 464.3,617.5 468.0,610.1 472.9,612.6 479.1,618.7 486.5,621.2 493.8,622.4 501.2,626.1 507.4,632.3 514.8,633.5 522.2,634.7 524.6,640.9 518.5,645.8 511.1,650.7 506.2,655.7 503.7,661.8 501.2,668.0 497.5,672.9 493.8,677.8 501.2,679.1 508.6,681.5 520.9,685.2 533.3,690.1 545.6,695.1 557.9,698.8 570.2,703.7 582.5,706.2 594.8,708.6 607.1,711.1 614.5,711.1 624.4,716.0 634.2,720.9 644.1,725.9 648.7,726.7 656.6,727.7 662.5,732.6 670.3,732.6 678.2,734.6 686.1,736.6 694.0,736.6 699.9,734.2 705.8,737.5 713.7,738.5 719.6,739.5 725.5,740.5 729.5,742.5 725.5,746.4 720.6,751.3 722.6,756.3 726.5,760.2 722.6,764.1 719.6,768.1 722.6,772.0 720.6,776.0 723.5,780.9 727.5,782.9 732.4,787.8 739.3,790.7 746.2,793.7 746.2,800.6 744.2,807.5 746.2,813.4 745.2,819.3 752.1,822.3 750.1,830.1 753.1,839.0 755.1,846.9 756.1,854.8 755.1,862.7 749.2,864.6 743.3,863.6 737.3,864.6 731.4,863.6 727.5,862.7 726.5,856.7 721.6,860.7 715.7,862.7 709.8,863.6 701.7,865.9 695.5,869.6 693.1,875.8 696.7,881.9 698.0,886.8 690.6,891.8 689.4,896.7 682.0,902.9 672.1,907.8 662.3,912.7 652.4,917.6 642.6,922.6 635.2,927.5 630.7,928.7 616.7,946.3 612.7,949.3 607.8,952.2 602.9,955.2 597.9,958.1 594.0,962.1 590.0,966.0 585.1,969.0 579.2,971.9 573.3,974.9 568.4,976.8 563.4,979.8 560.5,983.7 559.5,986.7 561.5,991.6 558.5,994.6 552.6,997.5 546.7,1000.5 539.8,1003.4 533.9,1006.4 529.0,1009.4 525.0,1012.3 523.1,1015.3 520.1,1016.7 517.1,1013.3 512.2,1012.3 507.3,1013.3 503.3,1015.8 500.9,1020.0 496.8,1033.6 498.0,1043.4 500.5,1053.3 501.7,1063.2 503.0,1074.2 504.9,1080.4 503.0,1087.8 500.5,1097.6 496.8,1105.0 491.9,1112.4 488.2,1122.3 490.6,1129.7 489.4,1139.5 490.6,1149.4 489.4,1158.0 483.3,1156.7 477.1,1161.7 470.9,1167.8 474.6,1176.5 475.9,1183.8 470.9,1182.6 463.5,1183.8 454.9,1187.5 447.5,1192.5 442.6,1196.2 440.1,1203.5 436.5,1208.5 430.3,1212.2 422.9,1214.6 416.7,1213.4 410.6,1208.5 405.7,1201.1 400.7,1193.7 395.8,1183.8 390.9,1174.0 387.2,1164.1 383.5,1154.3 378.6,1144.4 374.9,1137.0 371.2,1129.7 366.3,1122.3 361.3,1114.9 356.4,1107.5 351.5,1100.1 347.8,1092.7 345.3,1085.3 341.6,1075.5 337.9,1065.6 334.2,1055.8 329.3,1045.9 325.6,1037.3 320.7,1028.7 315.8,1018.8 310.8,1009.0 305.9,996.7 302.2,984.3 298.5,969.6 293.6,952.3 292.6,940.0 291.1,937.3 288.9,931.4 288.1,925.5 286.6,919.6 285.2,913.7 283.7,907.8 284.4,901.9 286.6,898.2 288.9,894.5 288.1,888.6 285.9,882.7 283.7,876.7 282.2,870.8 281.5,864.9 279.3,860.5 280.0,855.3 281.5,850.9 285.2,848.7 289.6,847.2 283.7,847.2 279.3,847.2 275.6,847.2 272.6,849.4 270.4,853.1 271.9,857.5 271.9,862.0 270.4,866.4 268.2,870.8 264.5,873.8 260.0,876.0 254.1,879.0 248.2,881.9 242.3,884.1 236.4,886.3 230.5,887.4 223.1,885.6 217.2,882.7 211.3,879.0 206.1,874.5 200.9,870.1 195.8,865.7 190.6,861.2 185.4,856.8 181.0,852.4 177.3,847.9 176.5,845.0 179.5,842.0 182.5,847.2 186.2,845.7 190.6,845.0 195.0,842.8 199.5,842.0 205.4,840.5 209.8,838.3 213.5,835.4 217.2,832.4 220.1,829.5 224.6,826.5 228.3,823.5 227.5,822.1 221.6,822.1 215.7,822.8 211.3,825.8 207.6,828.7 202.4,830.9 196.5,832.4 190.6,832.4 183.9,830.9 178.0,828.7 172.9,825.8 168.4,822.8 166.9,819.1 164.7,816.9 162.5,813.9 163.2,811.0 166.9,808.0 171.4,805.1 165.5,807.3 160.3,809.5 156.6,812.5 154.4,811.0 154.4,806.5 157.3,803.6 164.0,802.9 170.2,802.1 171.1,798.4 172.1,794.3 175.8,795.5 181.7,795.2 189.1,794.7 196.5,795.5 202.4,796.9 208.3,796.2 212.8,794.0 218.7,792.2 223.8,791.0 226.1,795.5 230.5,794.7 233.4,791.8 237.1,790.3 236.4,785.9 238.6,784.4 240.7,782.2 235.8,778.5 232.1,774.8 228.4,771.1 224.7,766.2 218.5,761.3 212.4,756.4 208.7,751.4 211.1,746.5 209.9,740.3 203.7,735.4 196.4,733.0 192.2,728.0 193.9,719.4 198.8,712.0 203.7,710.8 208.6,704.7 213.5,699.8 217.9,697.3 222.2,697.3 225.2,698.5 226.5,702.8 228.9,705.7 236.9,704.1 246.8,702.2 254.2,700.4 260.3,698.5 261.6,694.8 264.0,691.7 268.3,688.1 271.4,683.7 273.9,679.4 278.8,676.4 285.0,673.9 290.5,671.4 294.2,667.1 297.3,662.8 300.4,657.9 302.8,653.0 304.1,648.6 307.1,646.6 312.1,645.0 318.2,645.6 319.5,642.5 320.7,639.4 318.8,636.3 321.3,633.3 325.6,630.8 330.5,626.5 335.5,622.2 338.5,619.1 336.7,616.0 337.3,611.1 340.4,607.4 339.2,603.7 336.7,600.0 339.9,597.8 348.5,594.1 358.4,591.6 364.5,586.7" fill="none" stroke="#5f5a18" stroke-width="0.9" stroke-linejoin="round"/>
<g clip-path="url(#sclip)"><polygon points="362.1,585.5 353.4,584.2 346.1,581.8 341.1,578.1 339.9,571.9 333.7,569.5 326.4,565.8 319.0,562.1 312.8,558.4 310.3,551.0 307.9,541.1 305.4,533.7 304.7,528.8 311.6,523.9 319.0,519.0 323.9,514.0 321.4,509.1 316.5,504.2 309.1,503.0 301.7,500.5 294.3,499.3 286.9,496.8 280.8,493.1 279.6,486.9 282.0,483.3 289.4,478.3 295.6,473.4 303.0,470.9 311.6,469.7 313.5,466.7 323.9,467.2 332.5,464.8 341.1,461.8 348.5,462.8 358.4,462.3 365.8,466.0 370.7,473.4 378.1,478.3 387.9,483.3 395.3,486.9 400.2,491.9 403.9,498.0 412.6,503.0 420.0,504.2 429.8,504.7 439.7,501.7 449.5,495.6 459.4,493.8 471.7,493.1 475.4,490.6 484.0,492.4 490.1,496.8 496.3,495.6 503.7,500.5 502.5,509.1 496.3,516.5 492.6,522.7 486.5,527.6 482.8,533.7 476.6,537.4 468.0,542.4 466.7,548.5 464.3,554.7 468.0,560.8 472.9,565.8 479.1,570.7 482.8,575.6 476.6,580.5 466.7,584.2 459.4,578.1 454.4,579.3 449.5,580.5 452.0,585.5 456.9,590.4 459.4,597.8 460.6,603.9 458.1,608.9 464.3,617.5 468.0,610.1 472.9,612.6 479.1,618.7 486.5,621.2 493.8,622.4 501.2,626.1 507.4,632.3 514.8,633.5 522.2,634.7 524.6,640.9 518.5,645.8 511.1,650.7 506.2,655.7 503.7,661.8 501.2,668.0 497.5,672.9 493.8,677.8 501.2,679.1 508.6,681.5 520.9,685.2 533.3,690.1 545.6,695.1 557.9,698.8 570.2,703.7 582.5,706.2 594.8,708.6 607.1,711.1 614.5,711.1 624.4,716.0 634.2,720.9 644.1,725.9 648.7,726.7 656.6,727.7 662.5,732.6 670.3,732.6 678.2,734.6 686.1,736.6 694.0,736.6 699.9,734.2 705.8,737.5 713.7,738.5 719.6,739.5 725.5,740.5 729.5,742.5 725.5,746.4 720.6,751.3 722.6,756.3 726.5,760.2 722.6,764.1 719.6,768.1 722.6,772.0 720.6,776.0 723.5,780.9 727.5,782.9 732.4,787.8 739.3,790.7 746.2,793.7 746.2,800.6 744.2,807.5 746.2,813.4 745.2,819.3 752.1,822.3 750.1,830.1 753.1,839.0 755.1,846.9 756.1,854.8 755.1,862.7 749.2,864.6 743.3,863.6 737.3,864.6 731.4,863.6 727.5,862.7 726.5,856.7 721.6,860.7 715.7,862.7 709.8,863.6 701.7,865.9 695.5,869.6 693.1,875.8 696.7,881.9 698.0,886.8 690.6,891.8 689.4,896.7 682.0,902.9 672.1,907.8 662.3,912.7 652.4,917.6 642.6,922.6 635.2,927.5 630.7,928.7 616.7,946.3 612.7,949.3 607.8,952.2 602.9,955.2 597.9,958.1 594.0,962.1 590.0,966.0 585.1,969.0 579.2,971.9 573.3,974.9 568.4,976.8 563.4,979.8 560.5,983.7 559.5,986.7 561.5,991.6 558.5,994.6 552.6,997.5 546.7,1000.5 539.8,1003.4 533.9,1006.4 529.0,1009.4 525.0,1012.3 523.1,1015.3 520.1,1016.7 517.1,1013.3 512.2,1012.3 507.3,1013.3 503.3,1015.8 500.9,1020.0 496.8,1033.6 498.0,1043.4 500.5,1053.3 501.7,1063.2 503.0,1074.2 504.9,1080.4 503.0,1087.8 500.5,1097.6 496.8,1105.0 491.9,1112.4 488.2,1122.3 490.6,1129.7 489.4,1139.5 490.6,1149.4 489.4,1158.0 483.3,1156.7 477.1,1161.7 470.9,1167.8 474.6,1176.5 475.9,1183.8 470.9,1182.6 463.5,1183.8 454.9,1187.5 447.5,1192.5 442.6,1196.2 440.1,1203.5 436.5,1208.5 430.3,1212.2 422.9,1214.6 416.7,1213.4 410.6,1208.5 405.7,1201.1 400.7,1193.7 395.8,1183.8 390.9,1174.0 387.2,1164.1 383.5,1154.3 378.6,1144.4 374.9,1137.0 371.2,1129.7 366.3,1122.3 361.3,1114.9 356.4,1107.5 351.5,1100.1 347.8,1092.7 345.3,1085.3 341.6,1075.5 337.9,1065.6 334.2,1055.8 329.3,1045.9 325.6,1037.3 320.7,1028.7 315.8,1018.8 310.8,1009.0 305.9,996.7 302.2,984.3 298.5,969.6 293.6,952.3 292.6,940.0 291.1,937.3 288.9,931.4 288.1,925.5 286.6,919.6 285.2,913.7 283.7,907.8 284.4,901.9 286.6,898.2 288.9,894.5 288.1,888.6 285.9,882.7 283.7,876.7 282.2,870.8 281.5,864.9 279.3,860.5 280.0,855.3 281.5,850.9 285.2,848.7 289.6,847.2 283.7,847.2 279.3,847.2 275.6,847.2 272.6,849.4 270.4,853.1 271.9,857.5 271.9,862.0 270.4,866.4 268.2,870.8 264.5,873.8 260.0,876.0 254.1,879.0 248.2,881.9 242.3,884.1 236.4,886.3 230.5,887.4 223.1,885.6 217.2,882.7 211.3,879.0 206.1,874.5 200.9,870.1 195.8,865.7 190.6,861.2 185.4,856.8 181.0,852.4 177.3,847.9 176.5,845.0 179.5,842.0 182.5,847.2 186.2,845.7 190.6,845.0 195.0,842.8 199.5,842.0 205.4,840.5 209.8,838.3 213.5,835.4 217.2,832.4 220.1,829.5 224.6,826.5 228.3,823.5 227.5,822.1 221.6,822.1 215.7,822.8 211.3,825.8 207.6,828.7 202.4,830.9 196.5,832.4 190.6,832.4 183.9,830.9 178.0,828.7 172.9,825.8 168.4,822.8 166.9,819.1 164.7,816.9 162.5,813.9 163.2,811.0 166.9,808.0 171.4,805.1 165.5,807.3 160.3,809.5 156.6,812.5 154.4,811.0 154.4,806.5 157.3,803.6 164.0,802.9 170.2,802.1 171.1,798.4 172.1,794.3 175.8,795.5 181.7,795.2 189.1,794.7 196.5,795.5 202.4,796.9 208.3,796.2 212.8,794.0 218.7,792.2 223.8,791.0 226.1,795.5 230.5,794.7 233.4,791.8 237.1,790.3 236.4,785.9 238.6,784.4 240.7,782.2 235.8,778.5 232.1,774.8 228.4,771.1 224.7,766.2 218.5,761.3 212.4,756.4 208.7,751.4 211.1,746.5 209.9,740.3 203.7,735.4 196.4,733.0 192.2,728.0 193.9,719.4 198.8,712.0 203.7,710.8 208.6,704.7 213.5,699.8 217.9,697.3 222.2,697.3 225.2,698.5 226.5,702.8 228.9,705.7 236.9,704.1 246.8,702.2 254.2,700.4 260.3,698.5 261.6,694.8 264.0,691.7 268.3,688.1 271.4,683.7 273.9,679.4 278.8,676.4 285.0,673.9 290.5,671.4 294.2,667.1 297.3,662.8 300.4,657.9 302.8,653.0 304.1,648.6 307.1,646.6 312.1,645.0 318.2,645.6 319.5,642.5 320.7,639.4 318.8,636.3 321.3,633.3 325.6,630.8 330.5,626.5 335.5,622.2 338.5,619.1 336.7,616.0 337.3,611.1 340.4,607.4 339.2,603.7 336.7,600.0 339.9,597.8 348.5,594.1 358.4,591.6 364.5,586.7" fill="none" stroke="#236a23" stroke-width="1" stroke-linejoin="round"/></g>
<polygon points="362.1,585.5 353.4,584.2 346.1,581.8 341.1,578.1 339.9,571.9 333.7,569.5 326.4,565.8 319.0,562.1 312.8,558.4 310.3,551.0 307.9,541.1 305.4,533.7 304.7,528.8 311.6,523.9 319.0,519.0 323.9,514.0 321.4,509.1 316.5,504.2 309.1,503.0 301.7,500.5 294.3,499.3 286.9,496.8 280.8,493.1 279.6,486.9 282.0,483.3 289.4,478.3 295.6,473.4 303.0,470.9 311.6,469.7 313.5,466.7 323.9,467.2 332.5,464.8 341.1,461.8 348.5,462.8 358.4,462.3 365.8,466.0 370.7,473.4 378.1,478.3 387.9,483.3 395.3,486.9 400.2,491.9 403.9,498.0 412.6,503.0 420.0,504.2 429.8,504.7 439.7,501.7 449.5,495.6 459.4,493.8 471.7,493.1 475.4,490.6 484.0,492.4 490.1,496.8 496.3,495.6 503.7,500.5 502.5,509.1 496.3,516.5 492.6,522.7 486.5,527.6 482.8,533.7 476.6,537.4 468.0,542.4 466.7,548.5 464.3,554.7 468.0,560.8 472.9,565.8 479.1,570.7 482.8,575.6 476.6,580.5 466.7,584.2 459.4,578.1 454.4,579.3 449.5,580.5 447.0,575.6 439.7,578.1 433.5,573.2 427.3,570.7 420.0,571.9 412.6,569.5 405.2,570.7 397.8,565.8 390.4,568.2 383.0,570.7 375.6,570.7 376.8,578.1 373.2,584.2 365.8,585.5 362.1,585.5" fill="none" stroke="#236a23" stroke-width="0.9" stroke-linejoin="round"/>
<polygon points="727.5,700.1 731.4,698.7 737.3,697.1 745.2,696.2 750.1,699.1 749.2,705.0 747.2,710.0 749.2,713.9 748.2,718.8 751.1,722.8 757.0,725.7 764.9,727.7 772.8,729.7 778.7,730.6 778.7,737.5 775.8,743.4 771.8,747.4 766.9,745.4 761.0,743.4 755.1,741.5 749.2,740.5 743.3,740.9 737.3,742.1 732.4,744.4 728.5,748.4 726.5,751.3 729.5,755.3 735.4,757.2 741.3,760.2 747.2,763.2 753.1,768.1 749.2,770.0 743.3,769.1 738.3,771.0 735.4,776.0 731.4,779.9 727.5,782.9 723.5,780.9 720.6,776.0 722.6,772.0 719.6,768.1 722.6,764.1 726.5,760.2 722.6,756.3 720.6,751.3 725.5,746.4 729.5,742.5 727.5,737.5 729.5,731.6 727.5,726.7 726.5,720.8 727.5,714.9 728.5,709.0" fill="#f5e73a" stroke="#5f5808" stroke-width="0.8" stroke-linejoin="round"/>
<polygon points="778.7,730.9 786.5,728.7 793.1,727.6 802.0,729.8 810.8,728.7 819.7,729.8 828.6,728.7 837.4,727.6 841.9,726.0 850.7,724.9 859.6,723.8 868.5,725.3 879.6,725.3 888.4,723.8 895.1,718.7 901.7,713.2 908.4,709.8 917.2,707.6 926.1,705.4 935.0,703.2 943.8,701.0 953.8,698.7 950.5,704.3 952.7,710.9 954.9,715.4 948.3,717.6 939.4,719.8 932.8,723.1 926.1,726.5 919.5,730.9 912.8,735.3 906.2,740.9 899.5,746.4 892.9,751.9 888.4,755.3 884.0,759.7 879.6,763.0 881.8,768.6 877.3,775.2 872.9,780.8 868.5,786.3 864.0,790.7 858.5,793.0 854.1,796.3 850.7,793.0 847.4,789.6 848.5,784.1 853.0,779.7 850.7,776.3 844.1,774.1 835.2,772.6 826.4,770.8 817.5,769.7 808.6,770.8 799.8,771.9 790.9,770.8 784.2,769.7 777.6,768.6 778.7,761.9 777.6,755.3 776.5,748.6 776.5,743.1 778.7,737.5" fill="#f5e73a" stroke="#5f5808" stroke-width="0.8" stroke-linejoin="round"/>
<polygon points="841.9,726.0 843.0,720.9 841.9,715.4 837.4,712.0 830.8,710.9 827.5,706.5 828.6,702.1 835.2,704.3 841.9,703.2 848.5,701.0 855.2,699.9 860.7,696.5 866.3,694.3 871.8,689.9 876.2,684.3 882.9,681.0 890.6,678.8 897.3,676.6 902.8,671.0 909.5,666.6 917.2,663.3 923.9,665.5 930.5,667.7 937.2,668.8 943.8,665.5 950.5,663.3 957.1,660.0 962.7,662.2 966.0,665.5 961.6,668.8 970.5,671.0 972.7,677.7 968.2,683.2 963.8,687.7 970.5,686.6 978.2,687.7 986.0,689.9 992.6,692.1 995.9,695.4 993.7,701.0 988.2,704.3 982.6,706.5 981.5,712.0 987.1,716.5 989.3,720.2 983.8,718.7 977.1,715.4 970.5,716.5 963.8,718.7 957.1,720.9 950.5,724.2 943.8,727.6 938.3,730.9 933.9,732.0 932.8,723.1 939.4,719.8 948.3,717.6 954.9,715.4 952.7,710.9 950.5,704.3 953.8,698.7 943.8,701.0 935.0,703.2 926.1,705.4 917.2,707.6 908.4,709.8 901.7,713.2 895.1,718.7 888.4,723.8 879.6,725.3 868.5,725.3 859.6,723.8 850.7,724.9" fill="#f5e73a" stroke="#5f5808" stroke-width="0.8" stroke-linejoin="round"/>
<polygon points="932.8,723.1 933.9,732.0 930.5,737.5 927.2,744.2 923.9,750.8 921.7,757.5 918.4,764.1 919.5,771.9 916.1,778.6 912.8,784.1 909.5,790.7 906.2,797.4 902.8,805.2 897.3,804.0 890.6,801.8 884.0,802.9 880.7,800.7 879.6,808.5 880.7,817.3 878.5,825.1 875.1,830.6 872.9,837.3 874.0,843.9 871.8,849.5 866.3,853.9 861.8,850.6 857.4,852.8 856.3,846.2 855.2,837.3 851.9,828.4 850.7,819.6 848.5,812.9 845.2,809.6 839.7,810.7 837.4,815.1 835.2,819.6 834.1,826.2 828.6,828.4 824.1,825.1 820.8,819.6 818.6,814.0 816.4,809.6 818.6,804.0 824.1,800.7 830.8,797.4 837.4,793.0 844.1,790.7 847.4,789.6 850.7,793.0 854.1,796.3 858.5,793.0 864.0,790.7 868.5,786.3 872.9,780.8 877.3,775.2 881.8,768.6 879.6,763.0 884.0,759.7 888.4,755.3 892.9,751.9 899.5,746.4 906.2,740.9 912.8,735.3 919.5,730.9 926.1,726.5" fill="#f5e73a" stroke="#5f5808" stroke-width="0.8" stroke-linejoin="round"/>
<rect x="246.5" y="1103" width="89" height="133.5" fill="#38a334"/>
<rect x="831.5" y="1061.3" width="89.5" height="213.4" fill="#38a334"/>
<polygon points="869.1,1071.7 871.1,1074.6 871.6,1079.5 870.1,1084.4 868.1,1087.4 866.2,1089.8 868.1,1093.2 868.6,1097.2 867.2,1101.1 865.2,1104.0 863.7,1107.0 862.3,1110.9 862.7,1114.8 861.3,1118.7 859.8,1122.6 858.3,1125.6 856.4,1122.6 855.4,1118.7 856.4,1114.8 857.8,1110.9 859.3,1107.9 860.3,1104.0 860.3,1099.1 860.8,1095.2 859.3,1091.3 861.3,1088.3 862.7,1084.4 863.2,1079.5 864.7,1075.6 866.7,1072.6" fill="none" stroke="#0a1a0a" stroke-width="0.7" stroke-linejoin="round"/>
<polygon points="868.1,1108.4 871.1,1107.9 870.6,1110.9 868.6,1112.8 869.6,1115.8 870.6,1117.7 869.1,1116.8 868.1,1113.8 867.2,1111.4" fill="none" stroke="#0a1a0a" stroke-width="0.7" stroke-linejoin="round"/>
<polygon points="853.4,1141.3 856.4,1142.3 857.8,1146.2 856.4,1150.6 852.9,1151.6 851.0,1149.1 851.5,1144.7" fill="none" stroke="#0a1a0a" stroke-width="0.7" stroke-linejoin="round"/>
<polygon points="861.3,1185.9 862.7,1186.2 862.5,1187.5 861.1,1187.4" fill="none" stroke="#0a1a0a" stroke-width="0.7" stroke-linejoin="round"/>
<polygon points="871.1,1207.5 874.0,1208.9 875.5,1210.9 873.0,1211.4 871.1,1209.9" fill="none" stroke="#0a1a0a" stroke-width="0.7" stroke-linejoin="round"/>
<polygon points="877.9,1216.8 880.9,1213.8 883.8,1211.9 885.3,1215.8 882.8,1218.7 879.9,1219.7" fill="none" stroke="#0a1a0a" stroke-width="0.7" stroke-linejoin="round"/>
<polygon points="887.7,1231.5 890.2,1231.0 889.7,1234.4 892.6,1236.4 895.1,1241.3 895.6,1246.2 893.6,1249.1 891.7,1247.2 889.2,1243.2 887.7,1238.3 886.8,1234.4" fill="none" stroke="#0a1a0a" stroke-width="0.7" stroke-linejoin="round"/>
<circle cx="287" cy="1151" r="0.7" fill="#1a3a1a"/>
</g>
<g transform="translate(1393.3,590.2)"><path d="M -4.5 15.5 L 1.5 15.5 L -2.5 20.5 L 0.2 20.5 L -14 31.5 L -7.2 22.8 L -9.8 22.8 Z" fill="#fcffd6" stroke="#eef2b4" stroke-width="0.4"/><path d="M 4.5 15.5 L 8.8 15.5 L 5.8 19.6 L 7.8 19.6 L 0.5 26.5 L 3.4 21.4 L 1.6 21.4 Z" fill="#fcffd6" stroke="#eef2b4" stroke-width="0.4"/><path d="M -11.6 17.2 C -18.4 17.2 -18.6 7.6 -11.4 6.9 C -11 -2.4 3.6 -2.8 6 4.6 C 12.4 2.8 17.8 8 16.3 12.4 C 17.6 15 15.2 17.2 12.2 17.2 Z" fill="url(#lgCloud)" stroke="#f4f4f4" stroke-opacity="0.8" stroke-width="1.2"/></g>
<g transform="translate(1335.6,617.4)"><path d="M -4.5 15.5 L 1.5 15.5 L -2.5 20.5 L 0.2 20.5 L -14 31.5 L -7.2 22.8 L -9.8 22.8 Z" fill="#fcffd6" stroke="#eef2b4" stroke-width="0.4"/><path d="M 4.5 15.5 L 8.8 15.5 L 5.8 19.6 L 7.8 19.6 L 0.5 26.5 L 3.4 21.4 L 1.6 21.4 Z" fill="#fcffd6" stroke="#eef2b4" stroke-width="0.4"/><path d="M -11.6 17.2 C -18.4 17.2 -18.6 7.6 -11.4 6.9 C -11 -2.4 3.6 -2.8 6 4.6 C 12.4 2.8 17.8 8 16.3 12.4 C 17.6 15 15.2 17.2 12.2 17.2 Z" fill="url(#lgCloud)" stroke="#f4f4f4" stroke-opacity="0.8" stroke-width="1.2"/></g>
<g transform="translate(1441.2,636.6)"><path d="M -4.5 15.5 L 1.5 15.5 L -2.5 20.5 L 0.2 20.5 L -14 31.5 L -7.2 22.8 L -9.8 22.8 Z" fill="#fcffd6" stroke="#eef2b4" stroke-width="0.4"/><path d="M 4.5 15.5 L 8.8 15.5 L 5.8 19.6 L 7.8 19.6 L 0.5 26.5 L 3.4 21.4 L 1.6 21.4 Z" fill="#fcffd6" stroke="#eef2b4" stroke-width="0.4"/><path d="M -11.6 17.2 C -18.4 17.2 -18.6 7.6 -11.4 6.9 C -11 -2.4 3.6 -2.8 6 4.6 C 12.4 2.8 17.8 8 16.3 12.4 C 17.6 15 15.2 17.2 12.2 17.2 Z" fill="url(#lgCloud)" stroke="#f4f4f4" stroke-opacity="0.8" stroke-width="1.2"/></g>
<g transform="translate(1315.8,655.8)"><path d="M -4.5 15.5 L 1.5 15.5 L -2.5 20.5 L 0.2 20.5 L -14 31.5 L -7.2 22.8 L -9.8 22.8 Z" fill="#fcffd6" stroke="#eef2b4" stroke-width="0.4"/><path d="M 4.5 15.5 L 8.8 15.5 L 5.8 19.6 L 7.8 19.6 L 0.5 26.5 L 3.4 21.4 L 1.6 21.4 Z" fill="#fcffd6" stroke="#eef2b4" stroke-width="0.4"/><path d="M -11.6 17.2 C -18.4 17.2 -18.6 7.6 -11.4 6.9 C -11 -2.4 3.6 -2.8 6 4.6 C 12.4 2.8 17.8 8 16.3 12.4 C 17.6 15 15.2 17.2 12.2 17.2 Z" fill="url(#lgCloud)" stroke="#f4f4f4" stroke-opacity="0.8" stroke-width="1.2"/></g>
<g transform="translate(1430.2,680.0)"><path d="M -4.5 15.5 L 1.5 15.5 L -2.5 20.5 L 0.2 20.5 L -14 31.5 L -7.2 22.8 L -9.8 22.8 Z" fill="#fcffd6" stroke="#eef2b4" stroke-width="0.4"/><path d="M 4.5 15.5 L 8.8 15.5 L 5.8 19.6 L 7.8 19.6 L 0.5 26.5 L 3.4 21.4 L 1.6 21.4 Z" fill="#fcffd6" stroke="#eef2b4" stroke-width="0.4"/><path d="M -11.6 17.2 C -18.4 17.2 -18.6 7.6 -11.4 6.9 C -11 -2.4 3.6 -2.8 6 4.6 C 12.4 2.8 17.8 8 16.3 12.4 C 17.6 15 15.2 17.2 12.2 17.2 Z" fill="url(#lgCloud)" stroke="#f4f4f4" stroke-opacity="0.8" stroke-width="1.2"/></g>
<g transform="translate(1186.4,722.3)"><path d="M -4.5 15.5 L 1.5 15.5 L -2.5 20.5 L 0.2 20.5 L -14 31.5 L -7.2 22.8 L -9.8 22.8 Z" fill="#fcffd6" stroke="#eef2b4" stroke-width="0.4"/><path d="M 4.5 15.5 L 8.8 15.5 L 5.8 19.6 L 7.8 19.6 L 0.5 26.5 L 3.4 21.4 L 1.6 21.4 Z" fill="#fcffd6" stroke="#eef2b4" stroke-width="0.4"/><path d="M -11.6 17.2 C -18.4 17.2 -18.6 7.6 -11.4 6.9 C -11 -2.4 3.6 -2.8 6 4.6 C 12.4 2.8 17.8 8 16.3 12.4 C 17.6 15 15.2 17.2 12.2 17.2 Z" fill="url(#lgCloud)" stroke="#f4f4f4" stroke-opacity="0.8" stroke-width="1.2"/></g>
<g transform="translate(1535.8,732.0)"><path d="M -4.5 15.5 L 1.5 15.5 L -2.5 20.5 L 0.2 20.5 L -14 31.5 L -7.2 22.8 L -9.8 22.8 Z" fill="#fcffd6" stroke="#eef2b4" stroke-width="0.4"/><path d="M 4.5 15.5 L 8.8 15.5 L 5.8 19.6 L 7.8 19.6 L 0.5 26.5 L 3.4 21.4 L 1.6 21.4 Z" fill="#fcffd6" stroke="#eef2b4" stroke-width="0.4"/><path d="M -11.6 17.2 C -18.4 17.2 -18.6 7.6 -11.4 6.9 C -11 -2.4 3.6 -2.8 6 4.6 C 12.4 2.8 17.8 8 16.3 12.4 C 17.6 15 15.2 17.2 12.2 17.2 Z" fill="url(#lgCloud)" stroke="#f4f4f4" stroke-opacity="0.8" stroke-width="1.2"/></g>
<g transform="translate(1271.8,774.4)"><path d="M -4.5 15.5 L 1.5 15.5 L -2.5 20.5 L 0.2 20.5 L -14 31.5 L -7.2 22.8 L -9.8 22.8 Z" fill="#fcffd6" stroke="#eef2b4" stroke-width="0.4"/><path d="M 4.5 15.5 L 8.8 15.5 L 5.8 19.6 L 7.8 19.6 L 0.5 26.5 L 3.4 21.4 L 1.6 21.4 Z" fill="#fcffd6" stroke="#eef2b4" stroke-width="0.4"/><path d="M -11.6 17.2 C -18.4 17.2 -18.6 7.6 -11.4 6.9 C -11 -2.4 3.6 -2.8 6 4.6 C 12.4 2.8 17.8 8 16.3 12.4 C 17.6 15 15.2 17.2 12.2 17.2 Z" fill="url(#lgCloud)" stroke="#f4f4f4" stroke-opacity="0.8" stroke-width="1.2"/></g>
<g transform="translate(1427.9,784.8)"><path d="M -4.5 15.5 L 1.5 15.5 L -2.5 20.5 L 0.2 20.5 L -14 31.5 L -7.2 22.8 L -9.8 22.8 Z" fill="#fcffd6" stroke="#eef2b4" stroke-width="0.4"/><path d="M 4.5 15.5 L 8.8 15.5 L 5.8 19.6 L 7.8 19.6 L 0.5 26.5 L 3.4 21.4 L 1.6 21.4 Z" fill="#fcffd6" stroke="#eef2b4" stroke-width="0.4"/><path d="M -11.6 17.2 C -18.4 17.2 -18.6 7.6 -11.4 6.9 C -11 -2.4 3.6 -2.8 6 4.6 C 12.4 2.8 17.8 8 16.3 12.4 C 17.6 15 15.2 17.2 12.2 17.2 Z" fill="url(#lgCloud)" stroke="#f4f4f4" stroke-opacity="0.8" stroke-width="1.2"/></g>
<g transform="translate(1322.3,828.6)"><path d="M -4.5 15.5 L 1.5 15.5 L -2.5 20.5 L 0.2 20.5 L -14 31.5 L -7.2 22.8 L -9.8 22.8 Z" fill="#fcffd6" stroke="#eef2b4" stroke-width="0.4"/><path d="M 4.5 15.5 L 8.8 15.5 L 5.8 19.6 L 7.8 19.6 L 0.5 26.5 L 3.4 21.4 L 1.6 21.4 Z" fill="#fcffd6" stroke="#eef2b4" stroke-width="0.4"/><path d="M -11.6 17.2 C -18.4 17.2 -18.6 7.6 -11.4 6.9 C -11 -2.4 3.6 -2.8 6 4.6 C 12.4 2.8 17.8 8 16.3 12.4 C 17.6 15 15.2 17.2 12.2 17.2 Z" fill="url(#lgCloud)" stroke="#f4f4f4" stroke-opacity="0.8" stroke-width="1.2"/></g>
<g transform="translate(1354.0,875.7)"><path d="M -4.5 15.5 L 1.5 15.5 L -2.5 20.5 L 0.2 20.5 L -14 31.5 L -7.2 22.8 L -9.8 22.8 Z" fill="#fcffd6" stroke="#eef2b4" stroke-width="0.4"/><path d="M 4.5 15.5 L 8.8 15.5 L 5.8 19.6 L 7.8 19.6 L 0.5 26.5 L 3.4 21.4 L 1.6 21.4 Z" fill="#fcffd6" stroke="#eef2b4" stroke-width="0.4"/><path d="M -11.6 17.2 C -18.4 17.2 -18.6 7.6 -11.4 6.9 C -11 -2.4 3.6 -2.8 6 4.6 C 12.4 2.8 17.8 8 16.3 12.4 C 17.6 15 15.2 17.2 12.2 17.2 Z" fill="url(#lgCloud)" stroke="#f4f4f4" stroke-opacity="0.8" stroke-width="1.2"/></g>
<g transform="translate(1396.6,941.1)"><path d="M -4.5 15.5 L 1.5 15.5 L -2.5 20.5 L 0.2 20.5 L -14 31.5 L -7.2 22.8 L -9.8 22.8 Z" fill="#fcffd6" stroke="#eef2b4" stroke-width="0.4"/><path d="M 4.5 15.5 L 8.8 15.5 L 5.8 19.6 L 7.8 19.6 L 0.5 26.5 L 3.4 21.4 L 1.6 21.4 Z" fill="#fcffd6" stroke="#eef2b4" stroke-width="0.4"/><path d="M -11.6 17.2 C -18.4 17.2 -18.6 7.6 -11.4 6.9 C -11 -2.4 3.6 -2.8 6 4.6 C 12.4 2.8 17.8 8 16.3 12.4 C 17.6 15 15.2 17.2 12.2 17.2 Z" fill="url(#lgCloud)" stroke="#f4f4f4" stroke-opacity="0.8" stroke-width="1.2"/></g>
<g transform="translate(1480.5,902.5)"><path d="M -4.5 15.5 L 1.5 15.5 L -2.5 20.5 L 0.2 20.5 L -14 31.5 L -7.2 22.8 L -9.8 22.8 Z" fill="#fcffd6" stroke="#eef2b4" stroke-width="0.4"/><path d="M 4.5 15.5 L 8.8 15.5 L 5.8 19.6 L 7.8 19.6 L 0.5 26.5 L 3.4 21.4 L 1.6 21.4 Z" fill="#fcffd6" stroke="#eef2b4" stroke-width="0.4"/><path d="M -11.6 17.2 C -18.4 17.2 -18.6 7.6 -11.4 6.9 C -11 -2.4 3.6 -2.8 6 4.6 C 12.4 2.8 17.8 8 16.3 12.4 C 17.6 15 15.2 17.2 12.2 17.2 Z" fill="url(#lgCloud)" stroke="#f4f4f4" stroke-opacity="0.8" stroke-width="1.2"/></g>
<g transform="translate(1567.5,750.8)"><path d="M -4.5 15.5 L 1.5 15.5 L -2.5 20.5 L 0.2 20.5 L -14 31.5 L -7.2 22.8 L -9.8 22.8 Z" fill="#fcffd6" stroke="#eef2b4" stroke-width="0.4"/><path d="M 4.5 15.5 L 8.8 15.5 L 5.8 19.6 L 7.8 19.6 L 0.5 26.5 L 3.4 21.4 L 1.6 21.4 Z" fill="#fcffd6" stroke="#eef2b4" stroke-width="0.4"/><path d="M -11.6 17.2 C -18.4 17.2 -18.6 7.6 -11.4 6.9 C -11 -2.4 3.6 -2.8 6 4.6 C 12.4 2.8 17.8 8 16.3 12.4 C 17.6 15 15.2 17.2 12.2 17.2 Z" fill="url(#lgCloud)" stroke="#f4f4f4" stroke-opacity="0.8" stroke-width="1.2"/></g>
<g transform="translate(1678.3,755.3)"><path d="M -4.5 15.5 L 1.5 15.5 L -2.5 20.5 L 0.2 20.5 L -14 31.5 L -7.2 22.8 L -9.8 22.8 Z" fill="#fcffd6" stroke="#eef2b4" stroke-width="0.4"/><path d="M 4.5 15.5 L 8.8 15.5 L 5.8 19.6 L 7.8 19.6 L 0.5 26.5 L 3.4 21.4 L 1.6 21.4 Z" fill="#fcffd6" stroke="#eef2b4" stroke-width="0.4"/><path d="M -11.6 17.2 C -18.4 17.2 -18.6 7.6 -11.4 6.9 C -11 -2.4 3.6 -2.8 6 4.6 C 12.4 2.8 17.8 8 16.3 12.4 C 17.6 15 15.2 17.2 12.2 17.2 Z" fill="url(#lgCloud)" stroke="#f4f4f4" stroke-opacity="0.8" stroke-width="1.2"/></g>
<g transform="translate(1567.5,798.1)"><path d="M -4.5 15.5 L 1.5 15.5 L -2.5 20.5 L 0.2 20.5 L -14 31.5 L -7.2 22.8 L -9.8 22.8 Z" fill="#fcffd6" stroke="#eef2b4" stroke-width="0.4"/><path d="M 4.5 15.5 L 8.8 15.5 L 5.8 19.6 L 7.8 19.6 L 0.5 26.5 L 3.4 21.4 L 1.6 21.4 Z" fill="#fcffd6" stroke="#eef2b4" stroke-width="0.4"/><path d="M -11.6 17.2 C -18.4 17.2 -18.6 7.6 -11.4 6.9 C -11 -2.4 3.6 -2.8 6 4.6 C 12.4 2.8 17.8 8 16.3 12.4 C 17.6 15 15.2 17.2 12.2 17.2 Z" fill="url(#lgCloud)" stroke="#f4f4f4" stroke-opacity="0.8" stroke-width="1.2"/></g>
<g transform="translate(1678.3,793.2)"><path d="M -4.5 15.5 L 1.5 15.5 L -2.5 20.5 L 0.2 20.5 L -14 31.5 L -7.2 22.8 L -9.8 22.8 Z" fill="#fcffd6" stroke="#eef2b4" stroke-width="0.4"/><path d="M 4.5 15.5 L 8.8 15.5 L 5.8 19.6 L 7.8 19.6 L 0.5 26.5 L 3.4 21.4 L 1.6 21.4 Z" fill="#fcffd6" stroke="#eef2b4" stroke-width="0.4"/><path d="M -11.6 17.2 C -18.4 17.2 -18.6 7.6 -11.4 6.9 C -11 -2.4 3.6 -2.8 6 4.6 C 12.4 2.8 17.8 8 16.3 12.4 C 17.6 15 15.2 17.2 12.2 17.2 Z" fill="url(#lgCloud)" stroke="#f4f4f4" stroke-opacity="0.8" stroke-width="1.2"/></g>
<g transform="translate(1565.5,851.3)"><path d="M -4.5 15.5 L 1.5 15.5 L -2.5 20.5 L 0.2 20.5 L -14 31.5 L -7.2 22.8 L -9.8 22.8 Z" fill="#fcffd6" stroke="#eef2b4" stroke-width="0.4"/><path d="M 4.5 15.5 L 8.8 15.5 L 5.8 19.6 L 7.8 19.6 L 0.5 26.5 L 3.4 21.4 L 1.6 21.4 Z" fill="#fcffd6" stroke="#eef2b4" stroke-width="0.4"/><path d="M -11.6 17.2 C -18.4 17.2 -18.6 7.6 -11.4 6.9 C -11 -2.4 3.6 -2.8 6 4.6 C 12.4 2.8 17.8 8 16.3 12.4 C 17.6 15 15.2 17.2 12.2 17.2 Z" fill="url(#lgCloud)" stroke="#f4f4f4" stroke-opacity="0.8" stroke-width="1.2"/></g>
<g transform="translate(1794.3,732.0)"><path d="M -4.5 15.5 L 1.5 15.5 L -2.5 20.5 L 0.2 20.5 L -14 31.5 L -7.2 22.8 L -9.8 22.8 Z" fill="#fcffd6" stroke="#eef2b4" stroke-width="0.4"/><path d="M 4.5 15.5 L 8.8 15.5 L 5.8 19.6 L 7.8 19.6 L 0.5 26.5 L 3.4 21.4 L 1.6 21.4 Z" fill="#fcffd6" stroke="#eef2b4" stroke-width="0.4"/><path d="M -11.6 17.2 C -18.4 17.2 -18.6 7.6 -11.4 6.9 C -11 -2.4 3.6 -2.8 6 4.6 C 12.4 2.8 17.8 8 16.3 12.4 C 17.6 15 15.2 17.2 12.2 17.2 Z" fill="url(#lgCloud)" stroke="#f4f4f4" stroke-opacity="0.8" stroke-width="1.2"/></g>
<g transform="translate(1900.0,669.7)"><path d="M -4.5 15.5 L 1.5 15.5 L -2.5 20.5 L 0.2 20.5 L -14 31.5 L -7.2 22.8 L -9.8 22.8 Z" fill="#fcffd6" stroke="#eef2b4" stroke-width="0.4"/><path d="M 4.5 15.5 L 8.8 15.5 L 5.8 19.6 L 7.8 19.6 L 0.5 26.5 L 3.4 21.4 L 1.6 21.4 Z" fill="#fcffd6" stroke="#eef2b4" stroke-width="0.4"/><path d="M -11.6 17.2 C -18.4 17.2 -18.6 7.6 -11.4 6.9 C -11 -2.4 3.6 -2.8 6 4.6 C 12.4 2.8 17.8 8 16.3 12.4 C 17.6 15 15.2 17.2 12.2 17.2 Z" fill="url(#lgCloud)" stroke="#f4f4f4" stroke-opacity="0.8" stroke-width="1.2"/></g>
<g transform="translate(1852.6,750.3)"><path d="M -4.5 15.5 L 1.5 15.5 L -2.5 20.5 L 0.2 20.5 L -14 31.5 L -7.2 22.8 L -9.8 22.8 Z" fill="#fcffd6" stroke="#eef2b4" stroke-width="0.4"/><path d="M 4.5 15.5 L 8.8 15.5 L 5.8 19.6 L 7.8 19.6 L 0.5 26.5 L 3.4 21.4 L 1.6 21.4 Z" fill="#fcffd6" stroke="#eef2b4" stroke-width="0.4"/><path d="M -11.6 17.2 C -18.4 17.2 -18.6 7.6 -11.4 6.9 C -11 -2.4 3.6 -2.8 6 4.6 C 12.4 2.8 17.8 8 16.3 12.4 C 17.6 15 15.2 17.2 12.2 17.2 Z" fill="url(#lgCloud)" stroke="#f4f4f4" stroke-opacity="0.8" stroke-width="1.2"/></g>
<g transform="translate(1828.4,732.2)"><path d="M -12.2 17.2 C -18 17.2 -18.4 8.2 -11.6 7.6 C -11.8 -1 0.8 -3.4 4 4.2 C 9.2 1.6 13.6 5.6 12.4 8.4 C 18.2 8.2 18.4 17.2 12.4 17.2 Z" fill="#4a4a4a" stroke="#777" stroke-width="0.8"/><line x1="-9" y1="19" x2="-11" y2="25" stroke="#6a6a6a" stroke-width="1.3"/><line x1="-4" y1="19" x2="-6" y2="25" stroke="#6a6a6a" stroke-width="1.3"/><line x1="1" y1="19" x2="-1" y2="25" stroke="#6a6a6a" stroke-width="1.3"/><line x1="6" y1="19" x2="4" y2="25" stroke="#6a6a6a" stroke-width="1.3"/><line x1="11" y1="19" x2="9" y2="25" stroke="#6a6a6a" stroke-width="1.3"/></g>
<g transform="translate(1137.7,386.6) scale(0.547,0.47)">
<ellipse cx="-11.0" cy="-116" rx="9.5" ry="15" fill="url(#lgLion)"/><ellipse cx="15.0" cy="-116" rx="9.5" ry="15" fill="url(#lgLion)"/><ellipse cx="-16.5" cy="-124" rx="6" ry="7.5" fill="#4d4a43"/><ellipse cx="20.5" cy="-124" rx="6" ry="7.5" fill="#4d4a43"/><ellipse cx="-18.5" cy="-125" rx="3" ry="4" fill="#c9c7bd"/><ellipse cx="22.5" cy="-125" rx="3" ry="4" fill="#c9c7bd"/><ellipse cx="2.0" cy="-118" rx="11.5" ry="19" fill="#35332d"/><ellipse cx="2.0" cy="-113" rx="8" ry="12" fill="#5e5b52"/><rect x="-5.5" y="-144" width="15" height="8" rx="2" fill="#45423b"/><ellipse cx="2.0" cy="-131" rx="7.5" ry="8" fill="#6f6c62"/><ellipse cx="2.0" cy="-130" rx="4.5" ry="5" fill="#d6d4ca"/><circle cx="-0.3999999999999999" cy="-132.5" r="1" fill="#222"/><circle cx="4.4" cy="-132.5" r="1" fill="#222"/><path d="M -1.0 -128 Q 2.0 -125.5 5.0 -128" stroke="#222" stroke-width="1" fill="none"/><path d="M -12.1 -108 L -6.9 -108 L -7.3 -93 L -13.1 -93 Z" fill="url(#lgLeg)" stroke="#4a473f" stroke-width="0.5"/><path d="M -4.4 -108 L 0.8000000000000003 -108 L 0.40000000000000036 -93 L -5.4 -93 Z" fill="url(#lgLeg)" stroke="#4a473f" stroke-width="0.5"/><path d="M 3.6 -108 L 8.8 -108 L 8.4 -93 L 2.6 -93 Z" fill="url(#lgLeg)" stroke="#4a473f" stroke-width="0.5"/><path d="M 11.4 -108 L 16.6 -108 L 16.2 -93 L 10.4 -93 Z" fill="url(#lgLeg)" stroke="#4a473f" stroke-width="0.5"/><rect x="-19.5" y="-92.5" width="43" height="16.5" rx="6" fill="url(#lgAb)"/><circle cx="2.0" cy="-84" r="5.6" fill="#d9d2b4" stroke="#221e12" stroke-width="0.6"/><circle cx="2.0" cy="-84" r="2.8" fill="none" stroke="#4a4227" stroke-width="1.4"/><path d="M -14.0 -83 q 2 -5 4 0 q 2 3 5 1" stroke="#d9d2b4" stroke-width="1.2" fill="none"/><path d="M 11.0 -86 q 2 -3 3 1 l 1 4 m 2 -4 l 1 3" stroke="#d9d2b4" stroke-width="1.2" fill="none"/><rect x="-13.5" y="-76" width="31" height="3.2" rx="1.2" fill="#8c8460"/>
<text x="2.0" y="-65.6" text-anchor="middle" font-size="5.4" fill="#555" style="font-family:"Liberation Sans","Noto Sans","Noto Sans Devanagari","Lohit Devanagari","Mukta","Hind","FreeSans",sans-serif" textLength="35" lengthAdjust="spacingAndGlyphs">सत्यमेव जयते</text>
<circle cx="0" cy="0" r="59" fill="url(#lgRing)" stroke="#2d2616" stroke-width="1.6"/>
<circle cx="0" cy="0" r="56.3" fill="none" stroke="#8d8058" stroke-width="0.6"/>
<circle cx="0" cy="0" r="46.2" fill="#fff" stroke="#2d2616" stroke-width="1.3"/>
<circle cx="0" cy="0" r="44.2" fill="url(#lgDisc)" stroke="#dfe9f8" stroke-width="1.2"/>
<clipPath id="dcmR"><circle cx="0" cy="0" r="43.4"/></clipPath>
<g clip-path="url(#dcmR)" stroke="#4f7fd0" stroke-width="0.55" opacity="0.75"><line x1="-60" y1="10" x2="10" y2="-60"/><line x1="-56" y1="10" x2="14" y2="-60"/><line x1="-52" y1="10" x2="18" y2="-60"/><line x1="-48" y1="10" x2="22" y2="-60"/><line x1="-44" y1="10" x2="26" y2="-60"/><line x1="-40" y1="10" x2="30" y2="-60"/><line x1="-36" y1="10" x2="34" y2="-60"/><line x1="-32" y1="10" x2="38" y2="-60"/><line x1="-28" y1="10" x2="42" y2="-60"/><line x1="-24" y1="10" x2="46" y2="-60"/><line x1="-20" y1="10" x2="50" y2="-60"/><line x1="-16" y1="10" x2="54" y2="-60"/><line x1="-12" y1="10" x2="58" y2="-60"/><line x1="-8" y1="10" x2="62" y2="-60"/><line x1="-4" y1="10" x2="66" y2="-60"/><line x1="0" y1="10" x2="70" y2="-60"/><line x1="4" y1="10" x2="74" y2="-60"/><line x1="8" y1="10" x2="78" y2="-60"/><line x1="12" y1="10" x2="82" y2="-60"/><line x1="16" y1="10" x2="86" y2="-60"/><line x1="20" y1="10" x2="90" y2="-60"/></g>
<g clip-path="url(#dcmR)">
<path d="M -46 -6 L -36 -8 L -30 -14 L -24 -12 L -20 -20 L -19 -30 L -13 -40 L -6 -38 L -4 -30 L 2 -24 L 10 -20 L 18 -18 L 26 -20 L 34 -24 L 40 -22 L 36 -15 L 30 -11 L 26 -4 L 30 4 L 34 14 L 38 26 L 34 24 L 29 12 L 24 6 L 20 -2 L 14 -6 L 10 0 L 6 8 L 2 18 L -1 30 L -4 42 L -7 36 L -10 22 L -13 10 L -15 2 L -20 6 L -26 4 L -24 -2 L -30 -4 L -38 0 L -46 2 Z" fill="#a9cdf6" stroke="#3f6fd0" stroke-width="0.7" opacity="0.95"/>
<path d="M -44 12 C -20 0 4 -4 22 6 M -44 26 C -16 10 6 12 26 22 M -40 38 C -14 24 6 26 24 36 M -14 -26 C -10 0 -16 22 -6 44 M -30 -2 C -22 14 -24 30 -12 44" fill="none" stroke="#3b66c8" stroke-width="0.6"/>
<path d="M -2 44 l 2 -4 l 2 4 z M -10 -2 l 3 1 l -3 1.6 z M 2 10 l 3 1 l -3 1.6 z" fill="#2b4fb0"/>
</g>
<circle cx="-52.6" cy="-2" r="5.2" fill="#cfd6f2" stroke="#2b2f7a" stroke-width="1"/><circle cx="-52.6" cy="-2" r="2.6" fill="#3a3f9a"/>
<circle cx="52.6" cy="-2" r="5.2" fill="#cfd6f2" stroke="#2b2f7a" stroke-width="1"/><circle cx="52.6" cy="-2" r="2.6" fill="#3a3f9a"/>
<text font-size="11.2" font-weight="bold" fill="#1c170c" style="font-family:"Liberation Sans","Noto Sans","Noto Sans Devanagari","Lohit Devanagari","Mukta","Hind","FreeSans",sans-serif"><textPath href="#arcTop" startOffset="13.5%" text-anchor="middle">भारत</textPath></text>
<text font-size="11.2" font-weight="bold" fill="#1c170c" style="font-family:"Liberation Sans","Noto Sans","Noto Sans Devanagari","Lohit Devanagari","Mukta","Hind","FreeSans",sans-serif"><textPath href="#arcTop" startOffset="37%" text-anchor="middle">मौसम</textPath></text>
<text font-size="11.2" font-weight="bold" fill="#1c170c" style="font-family:"Liberation Sans","Noto Sans","Noto Sans Devanagari","Lohit Devanagari","Mukta","Hind","FreeSans",sans-serif"><textPath href="#arcTop" startOffset="61%" text-anchor="middle">विज्ञान</textPath></text>
<text font-size="11.2" font-weight="bold" fill="#1c170c" style="font-family:"Liberation Sans","Noto Sans","Noto Sans Devanagari","Lohit Devanagari","Mukta","Hind","FreeSans",sans-serif"><textPath href="#arcTop" startOffset="85.5%" text-anchor="middle">विभाग</textPath></text>
<text font-size="6.6" font-weight="bold" fill="#1c170c" style="font-family:'Liberation Serif',serif"><textPath href="#arcBot" startOffset="50%" text-anchor="middle" textLength="146" lengthAdjust="spacingAndGlyphs">INDIA METEOROLOGICAL DEPARTMENT</textPath></text>
<path d="M -50 50 Q 0 74 50 51 L 46 62 Q 0 82 -46 61 Z" fill="#15120a"/>
<path d="M -56 44 L -51 42 L -50 49 Q -30 58 -16 59 L -19 78 Q -40 76 -57 66 Z" fill="url(#lgOr)" stroke="#5a2a10" stroke-width="0.8"/>
<path d="M -57 45 L -52 42 L -51 50 L -57 52 Z" fill="#5b2d86"/>
<path d="M 56 46 L 51 43 L 50 50 Q 32 60 15 61 L 18 79 Q 40 77 57 67 Z" fill="url(#lgGr)" stroke="#0e4a16" stroke-width="0.8"/>
<path d="M 57 47 L 52 43 L 51 51 L 57 54 Z" fill="#1d6a5a"/>
<path d="M -19 67 Q 0 61 18 67 L 17 84 Q 0 78 -18 85 Z" fill="#f1ecd6" stroke="#3a3426" stroke-width="1"/>
<text x="-36" y="71" font-size="11" font-weight="bold" fill="#a82c08" text-anchor="middle" transform="rotate(12 -36 71)" style="font-family:"Liberation Sans","Noto Sans","Noto Sans Devanagari","Lohit Devanagari","Mukta","Hind","FreeSans",sans-serif" textLength="30" lengthAdjust="spacingAndGlyphs">आदित्यात्</text>
<text x="36" y="72" font-size="11" font-weight="bold" fill="#0c5a14" text-anchor="middle" transform="rotate(-12 36 72)" style="font-family:"Liberation Sans","Noto Sans","Noto Sans Devanagari","Lohit Devanagari","Mukta","Hind","FreeSans",sans-serif" textLength="28" lengthAdjust="spacingAndGlyphs">वृष्टिः</text>
<text x="0" y="79.5" font-size="12" font-weight="bold" fill="#2a2418" text-anchor="middle" style="font-family:"Liberation Sans","Noto Sans","Noto Sans Devanagari","Lohit Devanagari","Mukta","Hind","FreeSans",sans-serif" textLength="27" lengthAdjust="spacingAndGlyphs">जायते</text>
</g>
<text class="ttl" transform="translate(1517.6,380.8) scale(1.058,1)" text-anchor="middle">SUBDIVISION WEATHER WARNING FOR DAY 5</text>
<text class="ttl" transform="translate(1503.3,409.8) scale(1.058,1)" text-anchor="middle">2026-03-15</text>
<polygon points="1920.1,331 1901.0,375.7 1920.1,358.6" fill="#d3d3d3"/>
<polygon points="1920.1,331 1901.0,375.7 1920.1,358.6 1939.1999999999998,375.7" fill="none" stroke="#000" stroke-width="1.7" stroke-linejoin="miter"/>
<text class="sea" x="1182" y="1097.3" text-anchor="middle">Arabian Sea</text>
<text class="sea" x="1566" y="1097.3" text-anchor="middle">Bay of Bengal</text>
<text class="sea" x="1399.2" y="1363.3" text-anchor="middle" style="font-size:19.3px">Indian Ocean</text>
<rect x="1556" y="1329" width="117.5" height="10.5" fill="#000" stroke="#1f4f9f" stroke-width="1.4"/>
<rect x="1556.7" y="1329.7" width="57.5" height="9.1" fill="#ffff00"/>
<text class="sb" x="1556" y="1318.6" text-anchor="middle">0</text>
<text class="sb" x="1614.7" y="1318.6" text-anchor="middle">250</text>
<text class="sb" x="1657.8" y="1318.6">500 km</text>
<line x1="135.9" y1="2109.7" x2="1929.5" y2="2109.7" stroke="#000" stroke-width="1.6"/>
<line x1="99.6" y1="2769.9" x2="2000.2" y2="2769.9" stroke="#000" stroke-width="1.6"/>
</svg>
<div class="h1">15 March (Day 5)</div>
<div class="box">
<p class="p" style="top:33.2px"><span class="bu">❖</span><b>Heavy Rainfall</b> likely at isolated places over Assam &amp; Meghalaya.</p>
<p class="p" style="top:122.2px"><span class="bu">❖</span><b>Thunderstorm accompanied with lightning &amp; gusty winds(40-50kmph)</b> likely at isolated places over<br>Chhattisgarh, Himachal Pradesh, Madhya Pradesh, Rajasthan, Uttarakhand and Vidarbha.</p>
<p class="p" style="top:255.2px"><span class="bu">❖</span><b>Thunderstorm accompanied with lightning &amp; gusty winds(30-40kmph)</b> likely at isolated places over Assam &amp;<br><span style="word-spacing:0.5px">Meghalaya, Bihar, Haryana, Chandigarh &amp; Delhi, Jharkhand, Odisha, Punjab, Telangana, Uttar Pradesh and West</span><br>Bengal &amp; Sikkim.</p>
<p class="p" style="top:432.2px"><span class="bu">❖</span><b>Thunderstorm accompanied with Lightning</b> likely at isolated places over Arunachal Pradesh and Nagaland,<br>Manipur, Mizoram and Tripura.</p>
<p class="p" style="top:566.0px"><b>No Fishermen Warning</b></p>
</div>
<div class="ft r" style="top:2771.3px">*Red color warning does not mean "Red Alert" Red color warning means "Take Action"</div>
<div class="ft b" style="top:2806.1px">Forecast and warning for any day is valid from 0830 hours IST of day till 0830 hours IST of next day</div>
<div class="ft b" style="top:2841.5px">For more details kindly visit <span class="r">https://mausam.imd.gov.in</span> or contact <span class="r">011-2434-4599</span></div>
<div class="ft g" style="top:2877.3px">(Service to the nation since 1875)</div>
<div class="pg">Page 9</div>
</body></html>
